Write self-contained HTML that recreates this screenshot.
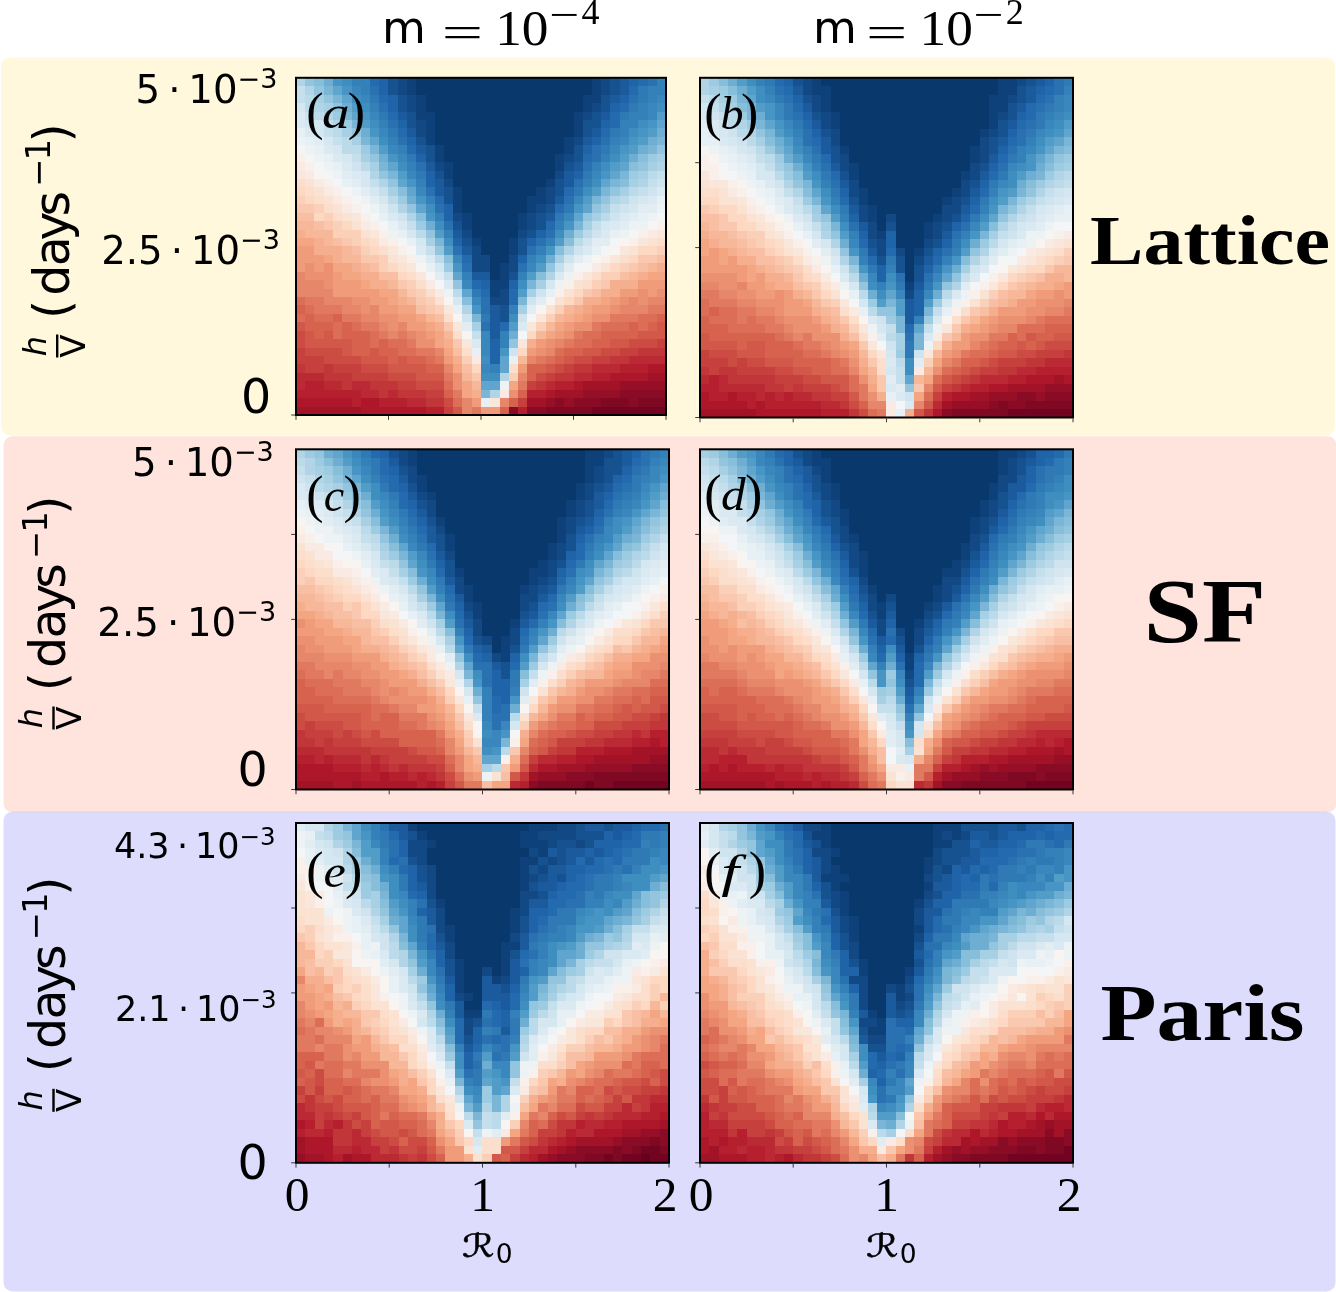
<!DOCTYPE html>
<html><head><meta charset="utf-8"><title>figure</title>
<style>html,body{margin:0;padding:0;background:#fff}svg{display:block}</style></head>
<body>
<svg width="1336" height="1292" viewBox="0 0 1336 1292">
<rect width="1336" height="1292" fill="#fff"/>
<rect x="1" y="57.5" width="1334" height="378" rx="9" fill="#fff8dc"/>
<rect x="3.5" y="436.3" width="1333" height="376" rx="9" fill="#ffe4de"/>
<rect x="3.5" y="811.7" width="1332" height="479.8" rx="9" fill="#dddcfc"/><rect x="12" y="811.7" width="1315" height="0.7" fill="#dccfe6"/>
<g shape-rendering="crispEdges">
<path fill="#730421" d="M592 407h74v8h-74z"/>
<path fill="#7f0823" d="M546 407h46v8h-46zM601 398h28v9h-28zM638 398h28v9h-28z"/>
<path fill="#8a0b25" d="M509 407h9v8h-9zM527 407h19v8h-19zM555 398h9v9h-9zM574 398h27v9h-27zM629 398h9v9h-9zM620 390h46v8h-46z"/>
<path fill="#960f27" d="M546 398h9v9h-9zM564 398h10v9h-10zM583 390h37v8h-37zM620 381h46v9h-46z"/>
<path fill="#a21328" d="M296 407h65v8h-65zM527 398h19v9h-19zM555 390h28v8h-28zM583 381h37v9h-37zM648 373h18v8h-18z"/>
<path fill="#ae172a" d="M361 407h65v8h-65zM296 398h56v9h-56zM361 398h18v9h-18zM546 390h9v8h-9zM574 381h9v9h-9zM610 373h38v8h-38zM648 364h18v9h-18z"/>
<path fill="#b61f2e" d="M426 407h18v8h-18zM518 407h9v8h-9zM352 398h9v9h-9zM379 398h28v9h-28zM296 390h65v8h-65zM527 390h19v8h-19zM305 381h19v9h-19zM555 381h19v9h-19zM592 373h18v8h-18zM620 364h28v9h-28z"/>
<path fill="#bb2a34" d="M407 398h19v9h-19zM361 390h18v8h-18zM388 390h10v8h-10zM296 381h9v9h-9zM324 381h18v9h-18zM352 381h18v9h-18zM546 381h9v9h-9zM296 373h28v8h-28zM574 373h18v8h-18zM592 364h28v9h-28zM629 356h37v8h-37z"/>
<path fill="#c13639" d="M426 398h18v9h-18zM379 390h9v8h-9zM398 390h28v8h-28zM342 381h10v9h-10zM370 381h28v9h-28zM536 381h10v9h-10zM324 373h28v8h-28zM555 373h19v8h-19zM296 364h9v9h-9zM324 364h9v9h-9zM574 364h18v9h-18zM610 356h19v8h-19zM638 348h28v8h-28z"/>
<path fill="#c6413e" d="M444 407h9v8h-9zM518 398h9v9h-9zM426 390h18v8h-18zM398 381h18v9h-18zM527 381h9v9h-9zM352 373h36v8h-36zM546 373h9v8h-9zM305 364h19v9h-19zM333 364h28v9h-28zM564 364h10v9h-10zM296 356h28v8h-28zM592 356h18v8h-18zM296 348h9v8h-9zM620 348h18v8h-18zM657 339h9v9h-9z"/>
<path fill="#cc4c44" d="M444 398h9v9h-9zM416 381h28v9h-28zM388 373h28v8h-28zM536 373h10v8h-10zM361 364h27v9h-27zM555 364h9v9h-9zM324 356h37v8h-37zM574 356h18v8h-18zM305 348h37v8h-37zM601 348h19v8h-19zM296 339h9v9h-9zM629 339h28v9h-28zM296 331h9v8h-9z"/>
<path fill="#d25849" d="M453 407h9v8h-9zM416 373h28v8h-28zM388 364h38v9h-38zM546 364h9v9h-9zM361 356h27v8h-27zM398 356h9v8h-9zM564 356h10v8h-10zM342 348h10v8h-10zM370 348h9v8h-9zM583 348h18v8h-18zM305 339h47v9h-47zM610 339h19v9h-19zM305 331h9v8h-9zM324 331h9v8h-9zM638 331h28v8h-28zM296 322h9v9h-9zM657 322h9v9h-9z"/>
<path fill="#d7634f" d="M500 407h9v8h-9zM509 398h9v9h-9zM444 390h9v8h-9zM518 390h9v8h-9zM527 373h9v8h-9zM426 364h18v9h-18zM527 364h19v9h-19zM388 356h10v8h-10zM407 356h19v8h-19zM555 356h9v8h-9zM352 348h18v8h-18zM379 348h19v8h-19zM564 348h19v8h-19zM352 339h18v9h-18zM379 339h9v9h-9zM592 339h18v9h-18zM314 331h10v8h-10zM342 331h28v8h-28zM601 331h37v8h-37zM305 322h28v9h-28zM342 322h10v9h-10zM629 322h9v9h-9zM648 322h9v9h-9zM305 314h9v8h-9zM333 314h9v8h-9zM657 314h9v8h-9zM296 305h9v9h-9z"/>
<path fill="#dc6e57" d="M453 398h9v9h-9zM444 381h9v9h-9zM426 356h9v8h-9zM546 356h9v8h-9zM398 348h18v8h-18zM555 348h9v8h-9zM370 339h9v9h-9zM388 339h19v9h-19zM574 339h18v9h-18zM333 331h9v8h-9zM370 331h9v8h-9zM583 331h18v8h-18zM333 322h9v9h-9zM352 322h9v9h-9zM601 322h28v9h-28zM638 322h10v9h-10zM296 314h9v8h-9zM314 314h19v8h-19zM638 314h19v8h-19zM305 305h9v9h-9zM296 297h9v8h-9z"/>
<path fill="#e17860" d="M472 407h9v8h-9zM453 390h9v8h-9zM518 381h9v9h-9zM444 373h9v8h-9zM435 356h9v8h-9zM536 356h10v8h-10zM416 348h19v8h-19zM407 339h9v9h-9zM564 339h10v9h-10zM379 331h9v8h-9zM398 331h9v8h-9zM574 331h9v8h-9zM361 322h18v9h-18zM592 322h9v9h-9zM342 314h19v8h-19zM610 314h28v8h-28zM314 305h28v9h-28zM648 305h18v9h-18zM305 297h19v8h-19z"/>
<path fill="#e6866a" d="M462 407h10v8h-10zM462 398h10v9h-10zM500 398h9v9h-9zM518 373h9v8h-9zM444 364h9v9h-9zM527 356h9v8h-9zM435 348h9v8h-9zM546 348h9v8h-9zM555 339h9v9h-9zM388 331h10v8h-10zM407 331h9v8h-9zM379 322h9v9h-9zM398 322h9v9h-9zM361 314h18v8h-18zM342 305h19v9h-19zM370 305h9v9h-9zM620 305h28v9h-28zM324 297h28v8h-28zM629 297h9v8h-9zM648 297h18v8h-18zM296 289h37v8h-37zM296 280h28v9h-28zM296 272h9v8h-9z"/>
<path fill="#eb9172" d="M509 390h9v8h-9zM453 381h9v9h-9zM453 373h9v8h-9zM536 348h10v8h-10zM416 339h19v9h-19zM546 339h9v9h-9zM416 331h10v8h-10zM564 331h10v8h-10zM388 322h10v9h-10zM574 322h18v9h-18zM379 314h19v8h-19zM592 314h18v8h-18zM361 305h9v9h-9zM610 305h10v9h-10zM352 297h18v8h-18zM620 297h9v8h-9zM638 297h10v8h-10zM638 289h10v8h-10zM657 289h9v8h-9zM324 280h9v9h-9zM305 272h28v8h-28zM305 263h9v9h-9zM324 263h9v9h-9z"/>
<path fill="#f09c7b" d="M481 407h19v8h-19zM472 398h9v9h-9zM518 364h9v9h-9zM444 356h9v8h-9zM527 348h9v8h-9zM536 339h10v9h-10zM426 331h9v8h-9zM555 331h9v8h-9zM407 322h19v9h-19zM564 322h10v9h-10zM398 314h18v8h-18zM583 314h9v8h-9zM379 305h19v9h-19zM592 305h18v9h-18zM370 297h18v8h-18zM610 297h10v8h-10zM333 289h46v8h-46zM620 289h18v8h-18zM648 289h9v8h-9zM333 280h28v9h-28zM638 280h28v9h-28zM333 272h9v8h-9zM296 263h9v9h-9zM314 263h10v9h-10zM296 255h28v8h-28zM296 246h18v9h-18z"/>
<path fill="#f4a683" d="M462 390h10v8h-10zM462 381h10v9h-10zM509 381h9v9h-9zM453 364h9v9h-9zM444 348h9v8h-9zM435 339h9v9h-9zM435 331h9v8h-9zM546 331h9v8h-9zM426 322h9v9h-9zM555 322h9v9h-9zM416 314h10v8h-10zM574 314h9v8h-9zM398 305h18v9h-18zM583 305h9v9h-9zM388 297h10v8h-10zM601 297h9v8h-9zM379 289h19v8h-19zM361 280h9v9h-9zM342 272h19v8h-19zM648 272h18v8h-18zM333 263h19v9h-19zM324 255h9v8h-9zM296 238h18v8h-18z"/>
<path fill="#f6af8e" d="M472 390h9v8h-9zM453 356h9v8h-9zM444 339h9v9h-9zM527 339h9v9h-9zM435 322h9v9h-9zM564 314h10v8h-10zM574 305h9v9h-9zM398 297h9v8h-9zM583 297h18v8h-18zM601 289h19v8h-19zM370 280h18v9h-18zM610 280h28v9h-28zM361 272h18v8h-18zM638 272h10v8h-10zM352 263h9v9h-9zM657 263h9v9h-9zM333 255h9v8h-9zM314 246h28v9h-28zM314 238h10v8h-10zM296 230h9v8h-9z"/>
<path fill="#f7b799" d="M472 381h9v9h-9zM462 373h10v8h-10zM518 356h9v8h-9zM444 331h9v8h-9zM536 331h10v8h-10zM546 322h9v9h-9zM426 314h9v8h-9zM555 314h9v8h-9zM564 305h10v9h-10zM407 297h9v8h-9zM398 289h9v8h-9zM388 280h10v9h-10zM629 272h9v8h-9zM361 263h9v9h-9zM648 263h9v9h-9zM342 255h19v8h-19zM342 246h10v9h-10zM324 238h9v8h-9zM305 230h28v8h-28zM296 221h18v9h-18z"/>
<path fill="#f8bfa4" d="M462 364h10v9h-10zM453 348h9v8h-9zM435 314h9v8h-9zM416 305h10v9h-10zM592 289h9v8h-9zM379 272h19v8h-19zM620 272h9v8h-9zM370 263h9v9h-9zM638 263h10v9h-10zM657 255h9v8h-9zM352 246h9v9h-9zM333 238h9v8h-9zM314 221h10v9h-10zM296 213h18v8h-18z"/>
<path fill="#fac8af" d="M472 373h9v8h-9zM453 339h9v9h-9zM444 322h9v9h-9zM426 305h9v9h-9zM416 297h10v8h-10zM574 297h9v8h-9zM407 289h9v8h-9zM583 289h9v8h-9zM398 280h9v9h-9zM601 280h9v9h-9zM629 263h9v9h-9zM361 255h18v8h-18zM638 255h19v8h-19zM342 238h10v8h-10zM324 221h9v9h-9zM296 204h18v9h-18z"/>
<path fill="#fbd0b9" d="M509 373h9v8h-9zM462 356h10v8h-10zM536 322h10v9h-10zM546 314h9v8h-9zM435 305h9v9h-9zM555 305h9v9h-9zM426 297h9v8h-9zM416 289h10v8h-10zM407 280h9v9h-9zM592 280h9v9h-9zM601 272h19v8h-19zM379 263h9v9h-9zM620 263h9v9h-9zM379 255h9v8h-9zM361 246h9v9h-9zM657 246h9v9h-9zM352 238h9v8h-9zM333 230h28v8h-28zM333 221h9v9h-9zM324 213h9v8h-9zM314 204h10v9h-10zM296 196h9v8h-9z"/>
<path fill="#fdd9c4" d="M472 364h9v9h-9zM518 348h9v8h-9zM527 331h9v8h-9zM564 297h10v8h-10zM574 289h9v8h-9zM398 272h9v8h-9zM388 263h10v9h-10zM610 263h10v9h-10zM629 255h9v8h-9zM370 246h9v9h-9zM638 246h19v9h-19zM361 238h9v8h-9zM342 221h10v9h-10zM314 213h10v8h-10zM305 196h9v8h-9zM296 187h9v9h-9z"/>
<path fill="#fcdecd" d="M509 364h9v9h-9zM462 348h10v8h-10zM453 331h9v8h-9zM444 314h9v8h-9zM426 289h9v8h-9zM416 280h10v9h-10zM583 280h9v9h-9zM407 272h9v8h-9zM592 272h9v8h-9zM620 255h9v8h-9zM379 246h9v9h-9zM370 238h9v8h-9zM657 238h9v8h-9zM333 213h9v8h-9zM324 204h9v9h-9zM314 196h10v8h-10zM305 187h9v9h-9zM296 179h9v8h-9z"/>
<path fill="#fbe3d4" d="M546 305h9v9h-9zM435 297h9v8h-9zM555 297h9v8h-9zM564 289h10v8h-10zM574 280h9v9h-9zM398 263h9v9h-9zM601 263h9v9h-9zM388 255h10v8h-10zM629 246h9v9h-9zM648 238h9v8h-9zM361 230h9v8h-9zM352 221h9v9h-9zM342 213h10v8h-10zM333 204h9v9h-9zM324 196h9v8h-9zM314 187h10v9h-10zM305 179h9v8h-9z"/>
<path fill="#fae7dc" d="M490 398h10v9h-10zM462 339h10v9h-10zM518 339h9v9h-9zM453 322h9v9h-9zM527 322h9v9h-9zM536 314h10v8h-10zM444 305h9v9h-9zM416 272h10v8h-10zM583 272h9v8h-9zM407 263h9v9h-9zM398 255h9v8h-9zM610 255h10v8h-10zM388 246h10v9h-10zM620 246h9v9h-9zM638 238h10v8h-10zM370 230h9v8h-9zM657 230h9v8h-9zM352 213h9v8h-9zM296 171h9v8h-9z"/>
<path fill="#f9ebe3" d="M500 390h9v8h-9zM472 356h9v8h-9zM435 289h9v8h-9zM426 280h9v9h-9zM592 263h9v9h-9zM379 238h9v8h-9zM648 230h9v8h-9zM361 221h9v9h-9zM342 204h10v9h-10zM333 196h9v8h-9zM324 187h9v9h-9zM314 179h10v8h-10zM305 171h9v8h-9zM296 162h9v9h-9z"/>
<path fill="#f9f0eb" d="M555 289h9v8h-9zM564 280h10v9h-10zM574 272h9v8h-9zM407 255h9v8h-9zM601 255h9v8h-9zM398 246h9v9h-9zM388 238h10v8h-10zM629 238h9v8h-9zM379 230h9v8h-9zM638 230h10v8h-10zM370 221h9v9h-9zM657 221h9v9h-9zM361 213h9v8h-9zM352 204h9v9h-9zM342 196h10v8h-10zM333 187h9v9h-9zM324 179h9v8h-9zM305 162h9v9h-9zM296 154h9v8h-9z"/>
<path fill="#f8f4f2" d="M462 331h10v8h-10zM453 314h9v8h-9zM536 305h10v9h-10zM444 297h9v8h-9zM546 297h9v8h-9zM416 263h10v9h-10zM583 263h9v9h-9zM592 255h9v8h-9zM610 246h10v9h-10zM620 238h9v8h-9zM648 221h9v9h-9zM314 171h10v8h-10z"/>
<path fill="#f3f5f6" d="M518 331h9v8h-9zM527 314h9v8h-9zM435 280h9v9h-9zM426 272h9v8h-9zM574 263h9v9h-9zM407 246h9v9h-9zM601 246h9v9h-9zM398 238h9v8h-9zM610 238h10v8h-10zM629 230h9v8h-9zM379 221h9v9h-9zM370 213h9v8h-9zM657 213h9v8h-9zM361 204h9v9h-9zM352 196h9v8h-9zM342 187h10v9h-10zM333 179h9v8h-9zM324 171h9v8h-9zM314 162h10v9h-10zM305 154h9v8h-9zM296 145h9v9h-9z"/>
<path fill="#edf2f5" d="M500 381h9v9h-9zM444 289h9v8h-9zM555 280h9v9h-9zM564 272h10v8h-10zM416 255h10v8h-10zM583 255h9v8h-9zM388 230h10v8h-10zM620 230h9v8h-9zM629 221h19v9h-19zM648 213h9v8h-9zM370 204h9v9h-9zM657 204h9v9h-9zM361 196h9v8h-9zM352 187h9v9h-9zM333 171h9v8h-9zM324 162h9v9h-9zM314 154h10v8h-10zM305 145h9v9h-9zM296 137h9v8h-9z"/>
<path fill="#e7f0f4" d="M481 398h9v9h-9zM509 356h9v8h-9zM472 348h9v8h-9zM453 305h9v9h-9zM546 289h9v8h-9zM426 263h9v9h-9zM592 246h9v9h-9zM407 238h9v8h-9zM398 230h9v8h-9zM610 230h10v8h-10zM388 221h10v9h-10zM379 213h9v8h-9zM638 213h10v8h-10zM657 196h9v8h-9zM342 179h10v8h-10zM333 162h9v9h-9zM324 154h9v8h-9zM314 145h10v9h-10zM305 137h9v8h-9zM296 128h9v9h-9z"/>
<path fill="#e1edf3" d="M462 322h10v9h-10zM527 305h9v9h-9zM536 297h10v8h-10zM435 272h9v8h-9zM564 263h10v9h-10zM574 255h9v8h-9zM592 238h18v8h-18zM620 221h9v9h-9zM629 213h9v8h-9zM379 204h9v9h-9zM638 204h19v9h-19zM370 196h9v8h-9zM361 187h9v9h-9zM352 179h9v8h-9zM342 171h10v8h-10zM314 137h10v8h-10z"/>
<path fill="#dbeaf2" d="M472 339h9v9h-9zM518 322h9v9h-9zM444 280h9v9h-9zM555 272h9v8h-9zM426 255h9v8h-9zM416 246h10v9h-10zM583 246h9v9h-9zM601 230h9v8h-9zM398 221h9v9h-9zM610 221h10v9h-10zM388 213h10v8h-10zM620 213h9v8h-9zM648 196h9v8h-9zM657 187h9v9h-9zM352 171h9v8h-9zM342 162h10v9h-10zM333 154h9v8h-9zM324 145h9v9h-9zM305 128h9v9h-9zM296 120h9v8h-9zM296 112h9v8h-9z"/>
<path fill="#d5e7f1" d="M453 297h9v8h-9zM546 280h9v9h-9zM435 263h9v9h-9zM416 238h10v8h-10zM407 230h9v8h-9zM601 221h9v9h-9zM629 204h9v9h-9zM379 196h9v8h-9zM638 196h10v8h-10zM370 187h9v9h-9zM361 179h9v8h-9zM361 171h9v8h-9zM342 154h10v8h-10zM333 145h9v9h-9zM324 137h9v8h-9zM314 128h10v9h-10zM305 120h19v8h-19zM296 103h9v9h-9z"/>
<path fill="#cfe4ef" d="M509 348h9v8h-9zM462 314h10v8h-10zM518 314h9v8h-9zM527 297h9v8h-9zM536 289h10v8h-10zM564 255h10v8h-10zM574 246h9v9h-9zM583 238h9v8h-9zM592 230h9v8h-9zM398 213h9v8h-9zM610 213h10v8h-10zM388 204h10v9h-10zM620 204h9v9h-9zM629 196h9v8h-9zM648 187h9v9h-9zM657 179h9v8h-9zM352 162h9v9h-9zM305 112h9v8h-9z"/>
<path fill="#c5dfec" d="M472 331h9v8h-9zM444 272h9v8h-9zM555 263h9v9h-9zM426 246h9v9h-9zM407 221h9v9h-9zM592 221h9v9h-9zM610 204h10v9h-10zM379 187h9v9h-9zM638 187h10v9h-10zM370 179h9v8h-9zM648 179h9v8h-9zM657 171h9v8h-9zM352 154h9v8h-9zM333 137h9v8h-9zM324 128h9v9h-9zM324 120h9v8h-9zM296 95h9v8h-9zM296 86h9v9h-9z"/>
<path fill="#bbdaea" d="M453 289h9v8h-9zM435 255h9v8h-9zM574 238h9v8h-9zM416 230h10v8h-10zM583 230h9v8h-9zM601 213h9v8h-9zM388 196h10v8h-10zM620 196h9v8h-9zM629 187h9v9h-9zM648 171h9v8h-9zM361 162h9v9h-9zM342 145h19v9h-19zM342 137h10v8h-10zM333 128h9v9h-9zM314 112h10v8h-10zM305 103h9v9h-9zM305 95h9v8h-9z"/>
<path fill="#b1d5e7" d="M490 390h10v8h-10zM500 373h9v8h-9zM462 305h10v9h-10zM546 272h9v8h-9zM564 246h10v9h-10zM407 213h9v8h-9zM398 204h9v9h-9zM610 196h10v8h-10zM379 179h9v8h-9zM638 179h10v8h-10zM370 171h9v8h-9zM657 162h9v9h-9zM333 120h9v8h-9zM324 112h9v8h-9zM314 103h10v9h-10zM305 86h9v9h-9zM296 78h9v8h-9z"/>
<path fill="#a7d0e4" d="M472 322h9v9h-9zM518 305h9v9h-9zM527 289h9v8h-9zM536 280h10v9h-10zM555 255h9v8h-9zM426 238h9v8h-9zM583 221h9v9h-9zM592 213h9v8h-9zM601 204h9v9h-9zM388 187h10v9h-10zM620 187h9v9h-9zM629 179h9v8h-9zM638 171h10v8h-10zM370 162h9v9h-9zM648 162h9v9h-9zM361 154h9v8h-9zM657 154h9v8h-9zM352 137h9v8h-9zM342 128h10v9h-10zM324 103h9v9h-9zM314 95h10v8h-10z"/>
<path fill="#9dcbe1" d="M444 263h9v9h-9zM574 230h9v8h-9zM416 221h10v9h-10zM398 196h9v8h-9zM629 171h9v8h-9zM648 154h9v8h-9zM361 145h9v9h-9zM342 120h10v8h-10zM333 112h9v8h-9z"/>
<path fill="#93c6de" d="M509 339h9v9h-9zM453 280h9v9h-9zM546 263h9v9h-9zM435 246h9v9h-9zM426 230h9v8h-9zM583 213h9v8h-9zM407 204h9v9h-9zM592 204h9v9h-9zM601 196h9v8h-9zM610 187h10v9h-10zM388 179h10v8h-10zM379 171h9v8h-9zM638 162h10v9h-10zM370 154h9v8h-9zM657 145h9v9h-9zM352 128h9v9h-9zM333 103h9v9h-9zM324 95h9v8h-9zM314 86h10v9h-10zM305 78h9v8h-9z"/>
<path fill="#87beda" d="M462 297h10v8h-10zM536 272h10v8h-10zM444 255h9v8h-9zM555 246h9v9h-9zM564 238h10v8h-10zM416 213h10v8h-10zM398 187h9v9h-9zM620 179h9v8h-9zM629 162h9v9h-9zM638 154h10v8h-10zM314 78h10v8h-10z"/>
<path fill="#7bb6d6" d="M481 390h9v8h-9zM472 314h9v8h-9zM518 297h9v8h-9zM527 280h9v9h-9zM435 238h9v8h-9zM574 221h9v9h-9zM592 196h9v8h-9zM601 187h9v9h-9zM610 179h10v8h-10zM388 171h10v8h-10zM620 171h9v8h-9zM379 162h9v9h-9zM370 145h9v9h-9zM648 145h9v9h-9zM361 137h9v8h-9zM657 137h9v8h-9zM352 120h9v8h-9zM342 112h10v8h-10zM333 95h9v8h-9zM324 86h9v9h-9z"/>
<path fill="#6eaed2" d="M509 331h9v8h-9zM546 255h9v8h-9zM564 230h10v8h-10zM426 221h9v9h-9zM407 196h9v8h-9zM379 154h9v8h-9zM629 154h9v8h-9zM638 145h10v9h-10zM648 137h9v8h-9zM361 128h9v9h-9zM657 128h9v9h-9zM342 103h10v9h-10zM324 78h9v8h-9z"/>
<path fill="#5fa5cd" d="M481 381h19v9h-19zM500 364h9v9h-9zM500 356h9v8h-9zM462 289h10v8h-10zM453 272h9v8h-9zM574 213h9v8h-9zM416 204h10v9h-10zM583 204h9v9h-9zM407 187h9v9h-9zM398 179h9v8h-9zM601 179h9v8h-9zM610 171h10v8h-10zM388 162h10v9h-10zM620 162h9v9h-9zM370 137h9v8h-9zM657 120h9v8h-9zM352 112h9v8h-9zM342 95h10v8h-10zM333 86h9v9h-9z"/>
<path fill="#529dc8" d="M509 322h9v9h-9zM518 289h9v8h-9zM527 272h9v8h-9zM536 263h10v9h-10zM444 246h9v9h-9zM555 238h9v8h-9zM435 230h9v8h-9zM583 196h9v8h-9zM592 187h9v9h-9zM398 171h9v8h-9zM610 162h10v9h-10zM620 154h9v8h-9zM379 145h9v9h-9zM629 145h9v9h-9zM638 137h10v8h-10zM648 128h9v9h-9zM361 120h9v8h-9zM657 112h9v8h-9zM352 103h9v9h-9z"/>
<path fill="#4695c4" d="M500 348h9v8h-9zM472 305h9v9h-9zM453 263h9v9h-9zM546 246h9v9h-9zM564 221h10v9h-10zM426 213h9v8h-9zM574 204h9v9h-9zM416 196h10v8h-10zM407 179h9v8h-9zM601 171h9v8h-9zM388 154h10v8h-10zM620 145h9v9h-9zM629 137h9v8h-9zM370 128h9v9h-9zM638 128h10v9h-10zM648 120h9v8h-9zM361 112h9v8h-9zM342 86h10v9h-10zM333 78h9v8h-9z"/>
<path fill="#3f8ec0" d="M481 373h19v8h-19zM481 356h9v8h-9zM509 314h9v8h-9zM518 280h9v9h-9zM536 255h10v8h-10zM444 238h9v8h-9zM555 230h9v8h-9zM435 221h9v9h-9zM426 204h9v9h-9zM583 187h9v9h-9zM592 179h9v8h-9zM398 162h9v9h-9zM601 162h9v9h-9zM610 154h10v8h-10zM379 137h9v8h-9zM629 128h9v9h-9zM370 120h9v8h-9zM638 120h10v8h-10zM361 103h9v9h-9zM657 103h9v9h-9zM352 95h9v8h-9zM342 78h10v8h-10z"/>
<path fill="#3a87bd" d="M481 364h9v9h-9zM481 348h9v8h-9zM481 339h9v9h-9zM481 331h9v8h-9zM472 297h9v8h-9zM462 280h10v9h-10zM527 263h9v9h-9zM453 255h9v8h-9zM564 213h10v8h-10zM574 196h9v8h-9zM416 187h10v9h-10zM407 171h9v8h-9zM592 171h9v8h-9zM398 154h9v8h-9zM388 145h10v9h-10zM610 145h10v9h-10zM620 137h9v8h-9zM379 128h9v9h-9zM370 112h9v8h-9zM648 112h9v8h-9zM648 103h9v9h-9zM361 95h9v8h-9zM657 95h9v8h-9zM352 86h9v9h-9z"/>
<path fill="#3480b9" d="M490 364h10v9h-10zM500 339h9v9h-9zM500 331h9v8h-9zM509 305h9v9h-9zM462 272h10v8h-10zM518 272h9v8h-9zM527 255h9v8h-9zM536 246h10v9h-10zM546 238h9v8h-9zM444 230h9v8h-9zM555 221h9v9h-9zM435 213h9v8h-9zM426 196h9v8h-9zM416 179h10v8h-10zM583 179h9v8h-9zM407 162h9v9h-9zM592 162h9v9h-9zM601 154h9v8h-9zM398 145h9v9h-9zM388 137h10v8h-10zM610 137h10v8h-10zM620 128h9v9h-9zM379 120h9v8h-9zM620 120h18v8h-18zM629 112h19v8h-19zM370 103h9v9h-9zM638 103h10v9h-10zM648 95h9v8h-9zM361 86h9v9h-9zM648 86h18v9h-18zM352 78h18v8h-18zM657 78h9v8h-9z"/>
<path fill="#2f79b5" d="M481 314h9v8h-9zM472 289h9v8h-9zM555 213h9v8h-9zM564 204h10v9h-10zM574 187h9v9h-9zM416 171h10v8h-10zM583 171h9v8h-9zM407 154h9v8h-9zM601 145h9v9h-9zM388 128h10v9h-10zM610 128h10v9h-10zM379 112h9v8h-9zM620 112h9v8h-9zM629 103h9v9h-9zM370 95h9v8h-9zM638 95h10v8h-10zM638 86h10v9h-10z"/>
<path fill="#2a71b2" d="M481 322h9v9h-9zM481 305h9v9h-9zM481 297h9v8h-9zM462 263h10v9h-10zM518 263h9v9h-9zM453 246h9v9h-9zM527 246h9v9h-9zM536 238h10v8h-10zM546 230h9v8h-9zM444 221h9v9h-9zM435 204h9v9h-9zM564 196h10v8h-10zM426 187h9v9h-9zM574 179h9v8h-9zM416 162h10v9h-10zM583 162h9v9h-9zM592 154h9v8h-9zM592 145h9v9h-9zM398 137h9v8h-9zM601 137h9v8h-9zM388 120h10v8h-10zM379 103h9v9h-9zM629 95h9v8h-9zM370 86h9v9h-9zM648 78h9v8h-9z"/>
<path fill="#246aae" d="M500 322h9v9h-9zM509 297h9v8h-9zM481 289h9v8h-9zM509 289h9v8h-9zM472 280h9v9h-9zM462 255h10v8h-10zM546 221h9v9h-9zM555 204h9v9h-9zM435 196h9v8h-9zM564 187h10v9h-10zM583 154h9v8h-9zM407 145h9v9h-9zM398 128h9v9h-9zM601 128h9v9h-9zM610 120h10v8h-10zM388 112h10v8h-10zM610 112h10v8h-10zM620 103h9v9h-9zM379 95h9v8h-9zM629 86h9v9h-9zM370 78h9v8h-9zM638 78h10v8h-10z"/>
<path fill="#1f63a8" d="M490 356h10v8h-10zM490 348h10v8h-10zM490 339h10v9h-10zM481 280h9v9h-9zM509 280h9v9h-9zM518 255h9v8h-9zM453 238h9v8h-9zM527 238h9v8h-9zM536 230h10v8h-10zM444 213h9v8h-9zM444 204h9v9h-9zM426 179h9v8h-9zM426 171h9v8h-9zM574 171h9v8h-9zM416 154h10v8h-10zM583 145h9v9h-9zM407 137h9v8h-9zM592 137h9v8h-9zM398 120h9v8h-9zM601 120h9v8h-9zM388 103h10v9h-10zM610 103h10v9h-10zM388 95h10v8h-10zM620 95h9v8h-9zM379 86h9v9h-9zM379 78h9v8h-9zM629 78h9v8h-9z"/>
<path fill="#1b5a9c" d="M490 331h10v8h-10zM490 322h10v9h-10zM490 314h10v8h-10zM490 305h10v9h-10zM472 272h18v8h-18zM462 246h10v9h-10zM453 230h9v8h-9zM546 213h9v8h-9zM555 196h9v8h-9zM435 187h9v9h-9zM435 179h9v8h-9zM564 179h10v8h-10zM564 171h10v8h-10zM426 162h9v9h-9zM574 162h9v9h-9zM416 145h10v9h-10zM583 137h9v8h-9zM407 128h9v9h-9zM592 128h9v9h-9zM398 112h9v8h-9zM601 112h9v8h-9zM610 95h10v8h-10zM620 86h9v9h-9zM620 78h9v8h-9z"/>
<path fill="#175290" d="M500 314h9v8h-9zM500 305h9v9h-9zM509 272h9v8h-9zM518 246h9v9h-9zM462 238h10v8h-10zM518 238h9v8h-9zM527 230h9v8h-9zM453 221h9v9h-9zM536 221h10v9h-10zM536 213h10v8h-10zM546 204h9v9h-9zM444 196h9v8h-9zM444 187h9v9h-9zM555 187h9v9h-9zM555 179h9v8h-9zM435 171h9v8h-9zM564 162h10v9h-10zM426 154h9v8h-9zM574 154h9v8h-9zM426 145h9v9h-9zM574 145h9v9h-9zM416 137h10v8h-10zM583 128h9v9h-9zM407 120h9v8h-9zM583 120h18v8h-18zM407 112h9v8h-9zM592 112h9v8h-9zM398 103h9v9h-9zM601 103h9v9h-9zM398 95h9v8h-9zM601 95h9v8h-9zM388 86h10v9h-10zM610 86h10v9h-10zM388 78h10v8h-10zM610 78h10v8h-10z"/>
<path fill="#124984" d="M490 297h19v8h-19zM500 289h9v8h-9zM472 263h18v9h-18zM509 263h9v9h-9zM472 255h18v8h-18zM509 255h9v8h-9zM472 246h9v9h-9zM462 230h10v8h-10zM518 230h9v8h-9zM527 221h9v9h-9zM453 213h9v8h-9zM527 213h9v8h-9zM536 204h10v9h-10zM546 196h9v8h-9zM546 187h9v9h-9zM444 179h9v8h-9zM555 171h9v8h-9zM435 162h9v9h-9zM564 154h10v8h-10zM574 137h9v8h-9zM416 128h10v9h-10zM416 120h10v8h-10zM583 112h9v8h-9zM407 103h9v9h-9zM592 103h9v9h-9zM407 95h9v8h-9zM398 86h9v9h-9zM601 86h9v9h-9zM398 78h9v8h-9zM601 78h9v8h-9z"/>
<path fill="#0e4179" d="M490 289h10v8h-10zM490 280h19v9h-19zM500 272h9v8h-9zM500 263h9v9h-9zM509 246h9v9h-9zM472 238h9v8h-9zM509 238h9v8h-9zM462 221h10v9h-10zM518 221h9v9h-9zM462 213h10v8h-10zM518 213h9v8h-9zM453 204h9v9h-9zM527 204h9v9h-9zM453 196h9v8h-9zM527 196h19v8h-19zM453 187h9v9h-9zM536 187h10v9h-10zM546 179h9v8h-9zM444 171h9v8h-9zM444 162h9v9h-9zM555 162h9v9h-9zM435 154h9v8h-9zM555 154h9v8h-9zM435 145h9v9h-9zM564 145h10v9h-10zM426 137h9v8h-9zM564 137h10v8h-10zM426 128h9v9h-9zM574 128h9v9h-9zM426 120h9v8h-9zM574 120h9v8h-9zM416 112h19v8h-19zM574 112h9v8h-9zM416 103h10v9h-10zM583 103h9v9h-9zM416 95h10v8h-10zM583 95h18v8h-18zM407 86h9v9h-9zM592 86h9v9h-9zM407 78h9v8h-9zM592 78h9v8h-9z"/>
<path fill="#09386d" d="M490 272h10v8h-10zM490 263h10v9h-10zM490 255h19v8h-19zM481 246h28v9h-28zM481 238h28v8h-28zM472 230h46v8h-46zM472 221h46v9h-46zM472 213h46v8h-46zM462 204h65v9h-65zM462 196h65v8h-65zM462 187h74v9h-74zM453 179h93v8h-93zM453 171h102v8h-102zM453 162h102v9h-102zM444 154h111v8h-111zM444 145h120v9h-120zM435 137h129v8h-129zM435 128h139v9h-139zM435 120h139v8h-139zM435 112h139v8h-139zM426 103h157v9h-157zM426 95h157v8h-157zM416 86h176v9h-176zM416 78h176v8h-176z"/>
</g>
<rect x="296.0" y="77.8" width="370.0" height="337.2" fill="none" stroke="#000" stroke-width="2"/><path d="M296.0 416.0v3.8M388.5 416.0v3.8M481.0 416.0v3.8M573.5 416.0v3.8M666.0 416.0v3.8M295.0 415.0h-3.8" stroke="#222" stroke-width="0.9" fill="none"/>
<g shape-rendering="crispEdges">
<path fill="#730421" d="M1008 409h65v9h-65z"/>
<path fill="#7f0823" d="M952 409h56v9h-56zM998 401h10v8h-10zM1026 401h47v8h-47z"/>
<path fill="#8a0b25" d="M942 409h10v9h-10zM989 401h9v8h-9zM1008 401h18v8h-18zM1017 392h19v9h-19zM1045 392h28v9h-28z"/>
<path fill="#960f27" d="M952 401h37v8h-37zM989 392h28v9h-28zM1036 392h9v9h-9zM1045 384h28v8h-28z"/>
<path fill="#a21328" d="M700 409h56v9h-56zM942 401h10v8h-10zM970 392h19v9h-19zM1008 384h37v8h-37zM1054 375h10v9h-10z"/>
<path fill="#ae172a" d="M756 409h65v9h-65zM933 409h9v9h-9zM700 401h47v8h-47zM756 401h9v8h-9zM700 392h9v9h-9zM728 392h9v9h-9zM952 392h18v9h-18zM989 384h19v8h-19zM1026 375h28v9h-28zM1064 375h9v9h-9z"/>
<path fill="#b61f2e" d="M821 409h28v9h-28zM747 401h9v8h-9zM765 401h56v8h-56zM709 392h19v9h-19zM737 392h19v9h-19zM765 392h10v9h-10zM784 392h9v9h-9zM942 392h10v9h-10zM700 384h19v8h-19zM970 384h19v8h-19zM709 375h10v9h-10zM1008 375h18v9h-18zM1036 367h37v8h-37z"/>
<path fill="#bb2a34" d="M821 401h19v8h-19zM933 401h9v8h-9zM756 392h9v9h-9zM775 392h9v9h-9zM793 392h19v9h-19zM719 384h46v8h-46zM961 384h9v8h-9zM700 375h9v9h-9zM719 375h9v9h-9zM980 375h28v9h-28zM1017 367h19v8h-19zM1045 358h28v9h-28z"/>
<path fill="#c13639" d="M849 409h10v9h-10zM924 409h9v9h-9zM840 401h9v8h-9zM812 392h19v9h-19zM765 384h19v8h-19zM793 384h10v8h-10zM952 384h9v8h-9zM728 375h47v9h-47zM970 375h10v9h-10zM700 367h9v8h-9zM719 367h18v8h-18zM998 367h19v8h-19zM1026 358h19v9h-19zM1064 350h9v8h-9z"/>
<path fill="#c6413e" d="M831 392h18v9h-18zM933 392h9v9h-9zM784 384h9v8h-9zM803 384h28v8h-28zM942 384h10v8h-10zM775 375h28v9h-28zM961 375h9v9h-9zM709 367h10v8h-10zM737 367h38v8h-38zM980 367h18v8h-18zM700 358h28v9h-28zM737 358h10v9h-10zM998 358h28v9h-28zM700 350h9v8h-9zM1036 350h28v8h-28z"/>
<path fill="#cc4c44" d="M859 409h9v9h-9zM849 401h10v8h-10zM831 384h9v8h-9zM803 375h18v9h-18zM952 375h9v9h-9zM775 367h18v8h-18zM970 367h10v8h-10zM728 358h9v9h-9zM747 358h18v9h-18zM989 358h9v9h-9zM709 350h28v8h-28zM1017 350h19v8h-19zM1045 341h28v9h-28z"/>
<path fill="#d25849" d="M914 409h10v9h-10zM924 401h9v8h-9zM849 392h10v9h-10zM840 384h9v8h-9zM933 384h9v8h-9zM821 375h28v9h-28zM942 375h10v9h-10zM793 367h19v8h-19zM961 367h9v8h-9zM765 358h28v9h-28zM980 358h9v9h-9zM737 350h28v8h-28zM998 350h19v8h-19zM700 341h37v9h-37zM747 341h18v9h-18zM1017 341h9v9h-9zM1036 341h9v9h-9zM700 333h9v8h-9zM1026 333h10v8h-10zM1054 333h19v8h-19z"/>
<path fill="#d7634f" d="M859 401h9v8h-9zM812 367h19v8h-19zM952 367h9v8h-9zM793 358h38v9h-38zM961 358h19v9h-19zM765 350h38v8h-38zM989 350h9v8h-9zM737 341h10v9h-10zM765 341h28v9h-28zM998 341h19v9h-19zM1026 341h10v9h-10zM709 333h66v8h-66zM1008 333h9v8h-9zM1036 333h18v8h-18zM700 324h28v9h-28zM1045 324h28v9h-28zM700 316h9v8h-9zM709 307h10v9h-10z"/>
<path fill="#dc6e57" d="M868 409h9v9h-9zM924 392h9v9h-9zM849 384h10v8h-10zM849 375h10v9h-10zM933 375h9v9h-9zM831 367h18v8h-18zM942 367h10v8h-10zM831 358h9v9h-9zM803 350h18v8h-18zM970 350h19v8h-19zM793 341h10v9h-10zM989 341h9v9h-9zM775 333h9v8h-9zM1017 333h9v8h-9zM728 324h37v9h-37zM1017 324h28v9h-28zM709 316h28v8h-28zM747 316h9v8h-9zM1045 316h28v8h-28zM700 307h9v9h-9zM719 307h18v9h-18zM700 299h9v8h-9z"/>
<path fill="#e17860" d="M877 409h9v9h-9zM859 392h9v9h-9zM859 384h9v8h-9zM840 358h9v9h-9zM952 358h9v9h-9zM821 350h10v8h-10zM961 350h9v8h-9zM803 341h18v9h-18zM980 341h9v9h-9zM784 333h9v8h-9zM803 333h9v8h-9zM989 333h19v8h-19zM765 324h19v9h-19zM737 316h10v8h-10zM756 316h19v8h-19zM1036 316h9v8h-9zM737 307h19v9h-19zM1064 307h9v9h-9zM709 299h28v8h-28zM700 290h19v9h-19z"/>
<path fill="#e6866a" d="M868 401h18v8h-18zM914 401h10v8h-10zM924 384h9v8h-9zM849 367h10v8h-10zM942 358h10v9h-10zM831 350h9v8h-9zM821 341h10v9h-10zM970 341h10v9h-10zM793 333h10v8h-10zM784 324h9v9h-9zM998 324h19v9h-19zM775 316h9v8h-9zM1026 316h10v8h-10zM756 307h19v9h-19zM1045 307h19v9h-19zM737 299h19v8h-19zM1064 299h9v8h-9zM719 290h18v9h-18zM700 282h19v8h-19zM737 282h10v8h-10z"/>
<path fill="#eb9172" d="M868 392h9v9h-9zM859 375h9v9h-9zM933 367h9v8h-9zM849 358h10v9h-10zM840 350h9v8h-9zM952 350h9v8h-9zM831 341h9v9h-9zM812 333h28v8h-28zM970 333h19v8h-19zM793 324h28v9h-28zM989 324h9v9h-9zM784 316h28v8h-28zM998 316h28v8h-28zM775 307h9v9h-9zM1026 307h19v9h-19zM756 299h28v8h-28zM1036 299h28v8h-28zM737 290h19v9h-19zM775 290h9v9h-9zM1054 290h10v9h-10zM719 282h18v8h-18zM700 273h37v9h-37z"/>
<path fill="#f09c7b" d="M849 350h10v8h-10zM942 350h10v8h-10zM840 341h9v9h-9zM952 341h18v9h-18zM961 333h9v8h-9zM821 324h10v9h-10zM980 324h9v9h-9zM812 316h9v8h-9zM989 316h9v8h-9zM784 307h28v9h-28zM998 307h28v9h-28zM784 299h19v8h-19zM1017 299h19v8h-19zM756 290h19v9h-19zM784 290h9v9h-9zM1036 290h18v9h-18zM1064 290h9v9h-9zM747 282h18v8h-18zM1064 282h9v8h-9zM737 273h10v9h-10zM756 273h9v9h-9zM700 265h47v8h-47zM700 256h19v9h-19zM728 256h9v9h-9zM709 248h10v8h-10z"/>
<path fill="#f4a683" d="M914 392h10v9h-10zM868 384h9v8h-9zM924 375h9v9h-9zM859 367h9v8h-9zM933 358h9v9h-9zM849 341h10v9h-10zM970 324h10v9h-10zM980 316h9v8h-9zM803 299h9v8h-9zM1026 290h10v9h-10zM765 282h10v8h-10zM1054 282h10v8h-10zM747 273h9v9h-9zM747 265h9v8h-9zM719 256h9v9h-9zM700 248h9v8h-9zM719 248h9v8h-9zM700 239h9v9h-9z"/>
<path fill="#f6af8e" d="M905 409h9v9h-9zM877 392h9v9h-9zM868 375h9v9h-9zM859 358h9v9h-9zM942 341h10v9h-10zM840 333h9v8h-9zM831 324h9v9h-9zM961 324h9v9h-9zM821 316h10v8h-10zM812 307h9v9h-9zM989 307h9v9h-9zM1008 299h9v8h-9zM793 290h10v9h-10zM775 282h18v8h-18zM1036 282h18v8h-18zM765 273h19v9h-19zM1045 273h19v9h-19zM756 265h9v8h-9zM737 256h19v9h-19zM728 248h9v8h-9zM709 239h10v9h-10zM700 231h9v8h-9z"/>
<path fill="#f7b799" d="M914 375h10v9h-10zM868 367h9v8h-9zM924 367h9v8h-9zM859 350h9v8h-9zM933 350h9v8h-9zM952 333h9v8h-9zM840 324h9v9h-9zM831 316h9v8h-9zM970 316h10v8h-10zM821 307h10v9h-10zM812 299h9v8h-9zM998 299h10v8h-10zM803 290h9v9h-9zM1008 290h18v9h-18zM1026 282h10v8h-10zM784 273h9v9h-9zM1064 273h9v9h-9zM765 265h10v8h-10zM1054 265h19v8h-19zM737 248h10v8h-10zM719 239h18v9h-18zM709 231h19v8h-19zM700 222h9v9h-9z"/>
<path fill="#f8bfa4" d="M849 333h10v8h-10zM831 307h9v9h-9zM980 307h9v9h-9zM989 299h9v8h-9zM998 290h10v9h-10zM793 282h10v8h-10zM1017 282h9v8h-9zM1036 273h9v9h-9zM775 265h9v8h-9zM756 256h19v9h-19zM747 248h18v8h-18zM737 239h10v9h-10zM728 231h9v8h-9zM709 222h10v9h-10zM700 214h19v8h-19z"/>
<path fill="#fac8af" d="M877 384h9v8h-9zM914 384h10v8h-10zM877 375h9v9h-9zM868 358h9v9h-9zM859 341h9v9h-9zM942 333h10v8h-10zM952 324h9v9h-9zM840 316h9v8h-9zM961 316h9v8h-9zM970 307h10v9h-10zM821 299h10v8h-10zM812 290h9v9h-9zM803 282h9v8h-9zM1008 282h9v8h-9zM793 273h10v9h-10zM1026 273h10v9h-10zM784 265h9v8h-9zM1045 265h9v8h-9zM775 256h9v9h-9zM1064 256h9v9h-9zM747 239h9v9h-9zM737 231h10v8h-10zM719 222h18v9h-18zM719 214h9v8h-9zM700 205h9v9h-9z"/>
<path fill="#fbd0b9" d="M924 358h9v9h-9zM849 324h10v9h-10zM831 299h9v8h-9zM980 299h9v8h-9zM989 290h9v9h-9zM812 282h9v8h-9zM1017 273h9v9h-9zM793 265h10v8h-10zM784 256h9v9h-9zM1054 256h10v9h-10zM765 248h10v8h-10zM1064 248h9v8h-9zM756 239h9v9h-9zM747 231h18v8h-18zM709 205h10v9h-10z"/>
<path fill="#fdd9c4" d="M868 350h9v8h-9zM933 341h9v9h-9zM821 290h10v9h-10zM998 282h10v8h-10zM803 273h9v9h-9zM1008 273h9v9h-9zM1026 265h19v8h-19zM1045 256h9v9h-9zM775 248h9v8h-9zM765 239h10v9h-10zM737 222h19v9h-19zM728 214h19v8h-19zM719 205h18v9h-18zM700 197h19v8h-19z"/>
<path fill="#fcdecd" d="M877 367h9v8h-9zM877 358h9v9h-9zM859 333h9v8h-9zM849 316h10v8h-10zM952 316h9v8h-9zM840 307h9v9h-9zM961 307h9v9h-9zM812 273h9v9h-9zM803 265h9v8h-9zM793 256h10v9h-10zM1036 256h9v9h-9zM1054 248h10v8h-10zM775 239h9v9h-9zM700 188h19v9h-19z"/>
<path fill="#fbe3d4" d="M970 299h10v8h-10zM831 290h9v9h-9zM980 290h9v9h-9zM821 282h10v8h-10zM1017 265h9v8h-9zM784 248h9v8h-9zM1045 248h9v8h-9zM1064 239h9v9h-9zM765 231h10v8h-10zM756 222h9v9h-9zM747 214h9v8h-9zM737 205h10v9h-10zM719 197h18v8h-18zM719 188h9v9h-9zM700 180h9v8h-9z"/>
<path fill="#fae7dc" d="M877 350h9v8h-9zM924 350h9v8h-9zM868 341h9v9h-9zM859 324h9v9h-9zM942 324h10v9h-10zM840 299h9v8h-9zM989 282h9v8h-9zM998 273h10v9h-10zM1008 265h9v8h-9zM1026 256h10v9h-10zM793 248h10v8h-10zM1036 248h9v8h-9zM784 239h9v9h-9zM1054 239h10v9h-10zM775 231h9v8h-9zM765 222h10v9h-10zM756 214h9v8h-9zM737 197h10v8h-10zM709 180h19v8h-19zM700 171h9v9h-9z"/>
<path fill="#f9ebe3" d="M886 409h10v9h-10zM886 401h10v8h-10zM914 367h10v8h-10zM933 333h9v8h-9zM849 307h10v9h-10zM831 282h9v8h-9zM821 273h10v9h-10zM812 265h9v8h-9zM803 256h9v9h-9zM1017 256h9v9h-9zM1026 248h10v8h-10zM1045 239h9v9h-9zM1064 231h9v8h-9zM747 205h9v9h-9zM728 188h9v9h-9z"/>
<path fill="#f9f0eb" d="M868 333h9v8h-9zM952 307h9v9h-9zM961 299h9v8h-9zM970 290h10v9h-10zM980 282h9v8h-9zM989 273h9v9h-9zM812 256h9v9h-9zM803 248h9v8h-9zM793 239h10v9h-10zM784 231h9v8h-9zM1054 231h10v8h-10zM775 222h9v9h-9zM765 214h10v8h-10zM756 205h9v9h-9zM747 197h9v8h-9zM737 188h10v9h-10zM728 180h9v8h-9zM709 171h10v9h-10zM700 163h19v8h-19zM700 154h9v9h-9z"/>
<path fill="#f8f4f2" d="M859 316h9v8h-9zM942 316h10v8h-10zM840 290h9v9h-9zM821 265h10v8h-10zM998 265h10v8h-10zM1036 239h9v9h-9zM1045 231h9v8h-9zM784 222h9v9h-9zM775 214h9v8h-9zM737 180h10v8h-10zM719 171h9v9h-9zM709 154h10v9h-10z"/>
<path fill="#f3f5f6" d="M896 401h9v8h-9zM877 341h9v9h-9zM849 299h10v8h-10zM970 282h10v8h-10zM831 273h9v9h-9zM980 273h9v9h-9zM989 265h9v8h-9zM998 256h19v9h-19zM812 248h9v8h-9zM1017 248h9v8h-9zM803 239h9v9h-9zM793 231h10v8h-10zM1054 222h19v9h-19zM765 205h10v9h-10zM756 197h9v8h-9zM747 188h9v9h-9zM728 171h9v9h-9zM719 163h9v8h-9zM700 146h9v8h-9z"/>
<path fill="#edf2f5" d="M924 341h9v9h-9zM868 324h9v9h-9zM933 324h9v9h-9zM952 299h9v8h-9zM961 290h9v9h-9zM840 282h9v8h-9zM821 256h10v9h-10zM1008 248h9v8h-9zM1026 239h10v9h-10zM1026 231h19v8h-19zM1045 222h9v9h-9zM784 214h9v8h-9zM765 197h10v8h-10zM756 188h9v9h-9zM747 180h9v8h-9zM737 171h10v9h-10zM728 163h9v8h-9zM719 154h9v9h-9zM709 146h10v8h-10z"/>
<path fill="#e7f0f4" d="M896 409h9v9h-9zM886 392h10v9h-10zM859 307h9v9h-9zM942 307h10v9h-10zM849 290h10v9h-10zM831 265h9v8h-9zM1017 239h9v9h-9zM803 231h9v8h-9zM793 222h10v9h-10zM1054 214h19v8h-19zM775 205h9v9h-9zM1064 205h9v9h-9zM765 188h10v9h-10zM756 180h9v8h-9zM747 171h9v9h-9zM737 163h10v8h-10zM728 154h9v9h-9zM719 146h9v8h-9zM700 137h19v9h-19zM700 129h9v8h-9z"/>
<path fill="#e1edf3" d="M896 384h9v8h-9zM886 375h10v9h-10zM914 358h10v9h-10zM877 333h9v8h-9zM961 282h9v8h-9zM989 256h9v9h-9zM821 248h10v8h-10zM998 248h10v8h-10zM812 239h9v9h-9zM1008 239h9v9h-9zM1036 222h9v9h-9zM1045 214h9v8h-9zM1054 205h10v9h-10zM775 197h9v8h-9zM747 163h9v8h-9zM737 154h10v9h-10zM728 146h9v8h-9zM700 120h9v9h-9z"/>
<path fill="#dbeaf2" d="M905 401h9v8h-9zM896 392h9v9h-9zM886 384h10v8h-10zM886 358h10v9h-10zM924 333h9v8h-9zM868 316h9v8h-9zM933 316h9v8h-9zM952 290h9v9h-9zM840 273h9v9h-9zM970 273h10v9h-10zM980 265h9v8h-9zM831 256h9v9h-9zM1017 231h9v8h-9zM803 222h9v9h-9zM1026 222h10v9h-10zM793 214h10v8h-10zM1036 214h9v8h-9zM784 205h9v9h-9zM1045 205h9v9h-9zM784 197h9v8h-9zM1064 197h9v8h-9zM775 188h9v9h-9zM765 180h10v8h-10zM747 154h9v9h-9zM719 137h9v9h-9zM709 129h10v8h-10zM709 120h10v9h-10z"/>
<path fill="#d5e7f1" d="M886 367h10v8h-10zM886 350h10v8h-10zM877 324h9v9h-9zM859 299h9v8h-9zM942 299h10v8h-10zM849 282h10v8h-10zM989 248h9v8h-9zM821 239h10v9h-10zM998 239h10v9h-10zM812 231h9v8h-9zM1017 222h9v9h-9zM1036 205h9v9h-9zM1054 197h10v8h-10zM1064 188h9v9h-9zM756 171h19v9h-19zM756 163h9v8h-9zM737 146h10v8h-10zM728 137h9v9h-9zM719 129h9v8h-9zM700 112h9v8h-9zM700 103h9v9h-9z"/>
<path fill="#cfe4ef" d="M905 392h9v9h-9zM914 350h10v8h-10zM886 341h10v9h-10zM877 316h9v8h-9zM840 265h9v8h-9zM970 265h10v8h-10zM980 256h9v9h-9zM831 248h9v8h-9zM1008 231h9v8h-9zM803 214h9v8h-9zM1026 214h10v8h-10zM793 205h10v9h-10zM1045 197h9v8h-9zM1054 188h10v9h-10zM775 180h9v8h-9zM747 146h9v8h-9zM737 137h10v9h-10zM728 129h9v8h-9zM719 120h9v9h-9zM709 112h10v8h-10z"/>
<path fill="#c5dfec" d="M896 375h9v9h-9zM896 367h9v8h-9zM886 324h10v9h-10zM924 324h9v9h-9zM933 307h9v9h-9zM961 273h9v9h-9zM998 231h10v8h-10zM812 222h9v9h-9zM1008 222h9v9h-9zM1017 214h9v8h-9zM1026 205h10v9h-10zM793 197h10v8h-10zM1036 197h9v8h-9zM784 188h9v9h-9zM1045 188h9v9h-9zM1064 180h9v8h-9zM765 163h10v8h-10zM756 154h9v9h-9zM719 112h9v8h-9zM709 103h10v9h-10zM700 95h9v8h-9z"/>
<path fill="#bbdaea" d="M896 358h9v9h-9zM886 333h10v8h-10zM868 307h9v9h-9zM859 290h9v9h-9zM942 290h10v9h-10zM849 273h10v9h-10zM989 239h9v9h-9zM803 205h9v9h-9zM1054 180h10v8h-10zM775 171h9v9h-9zM1064 171h9v9h-9zM765 154h10v9h-10zM756 146h9v8h-9zM747 137h9v9h-9zM737 129h10v8h-10zM728 120h9v9h-9zM728 112h9v8h-9zM709 95h10v8h-10z"/>
<path fill="#b1d5e7" d="M952 282h9v8h-9zM840 256h9v9h-9zM970 256h10v9h-10zM980 248h9v8h-9zM831 239h9v9h-9zM821 231h10v8h-10zM998 222h10v9h-10zM1008 214h9v8h-9zM1017 205h9v9h-9zM1026 197h10v8h-10zM793 188h10v9h-10zM1036 188h9v9h-9zM784 180h9v8h-9zM1045 180h9v8h-9zM1054 171h10v9h-10zM747 129h9v8h-9zM737 120h10v9h-10zM719 103h9v9h-9zM700 86h9v9h-9zM700 78h9v8h-9z"/>
<path fill="#a7d0e4" d="M896 341h9v9h-9zM896 333h9v8h-9zM961 265h9v8h-9zM989 231h9v8h-9zM821 222h10v9h-10zM812 214h9v8h-9zM775 163h9v8h-9zM1064 163h9v8h-9zM756 137h9v9h-9zM728 103h9v9h-9zM719 95h9v8h-9zM709 86h10v9h-10z"/>
<path fill="#9dcbe1" d="M896 350h9v8h-9zM886 316h10v8h-10zM924 316h9v8h-9zM868 299h9v8h-9zM933 299h9v8h-9zM849 265h10v8h-10zM980 239h9v9h-9zM812 205h9v9h-9zM803 197h9v8h-9zM1017 197h9v8h-9zM1036 180h9v8h-9zM784 171h9v9h-9zM1045 171h9v9h-9zM1054 163h10v8h-10zM775 154h9v9h-9zM1064 154h9v9h-9zM765 146h10v8h-10zM747 120h9v9h-9zM737 112h10v8h-10zM728 95h9v8h-9zM719 86h9v9h-9zM709 78h10v8h-10z"/>
<path fill="#93c6de" d="M905 384h9v8h-9zM877 307h19v9h-19zM859 282h9v8h-9zM942 282h10v8h-10zM952 273h9v9h-9zM840 248h9v8h-9zM970 248h10v8h-10zM831 231h9v8h-9zM821 214h10v8h-10zM998 214h10v8h-10zM1008 205h9v9h-9zM1026 188h10v9h-10zM793 180h10v8h-10zM784 163h9v8h-9zM1054 154h10v9h-10zM756 129h9v8h-9z"/>
<path fill="#87beda" d="M961 256h9v9h-9zM989 222h9v9h-9zM803 188h9v9h-9zM1026 180h10v8h-10zM793 171h10v9h-10zM1045 163h9v8h-9zM1064 146h9v8h-9zM765 137h10v9h-10zM737 103h10v9h-10zM728 86h9v9h-9zM719 78h9v8h-9z"/>
<path fill="#7bb6d6" d="M914 341h10v9h-10zM914 333h10v8h-10zM896 324h9v9h-9zM896 316h9v8h-9zM924 307h9v9h-9zM886 299h10v8h-10zM849 256h10v9h-10zM980 231h9v8h-9zM831 222h9v9h-9zM998 205h10v9h-10zM812 197h9v8h-9zM1008 197h9v8h-9zM1017 188h9v9h-9zM803 180h9v8h-9zM1036 171h9v9h-9zM1045 154h9v9h-9zM775 146h9v8h-9zM1054 146h10v8h-10zM1064 137h9v9h-9zM765 129h10v8h-10zM756 120h9v9h-9zM747 112h9v8h-9zM747 103h9v9h-9zM737 95h10v8h-10z"/>
<path fill="#6eaed2" d="M868 290h9v9h-9zM933 290h9v9h-9zM859 273h9v9h-9zM952 265h9v8h-9zM840 239h9v9h-9zM970 239h10v9h-10zM1017 180h9v8h-9zM1026 171h10v9h-10zM793 163h10v8h-10zM1036 163h9v8h-9zM784 154h9v9h-9zM775 137h9v9h-9zM756 112h9v8h-9zM737 86h10v9h-10zM728 78h9v8h-9z"/>
<path fill="#5fa5cd" d="M905 375h9v9h-9zM914 324h10v9h-10zM886 290h10v9h-10zM942 273h10v9h-10zM989 214h9v8h-9zM821 205h10v9h-10zM812 188h9v9h-9zM1036 154h9v9h-9zM784 146h9v8h-9zM1045 146h9v8h-9zM1054 137h10v9h-10zM1064 129h9v8h-9zM765 120h10v9h-10zM747 95h9v8h-9z"/>
<path fill="#529dc8" d="M896 307h9v9h-9zM877 299h9v8h-9zM896 299h9v8h-9zM924 299h9v8h-9zM961 248h9v8h-9zM840 231h9v8h-9zM980 222h9v9h-9zM831 214h9v8h-9zM998 197h10v8h-10zM1008 188h9v9h-9zM803 171h9v9h-9zM1017 171h9v9h-9zM793 154h10v9h-10zM784 137h9v9h-9zM1045 137h9v9h-9zM775 129h9v8h-9zM1064 120h9v9h-9zM756 103h9v9h-9zM747 86h9v9h-9zM737 78h10v8h-10z"/>
<path fill="#4695c4" d="M886 282h10v8h-10zM933 282h9v8h-9zM859 265h9v8h-9zM942 265h10v8h-10zM952 256h9v9h-9zM849 248h10v8h-10zM970 231h10v8h-10zM989 205h9v9h-9zM821 197h10v8h-10zM998 188h10v9h-10zM812 180h9v8h-9zM803 163h9v8h-9zM1026 163h10v8h-10zM1026 154h10v9h-10zM1036 146h9v8h-9zM1054 129h10v8h-10zM775 120h9v9h-9zM765 112h10v8h-10zM765 103h10v9h-10z"/>
<path fill="#3f8ec0" d="M905 367h9v8h-9zM905 358h9v9h-9zM877 290h9v9h-9zM868 282h9v8h-9zM886 273h10v9h-10zM961 239h9v9h-9zM840 222h9v9h-9zM980 214h9v8h-9zM831 205h9v9h-9zM989 197h9v8h-9zM821 188h10v9h-10zM1008 180h9v8h-9zM812 171h9v9h-9zM1008 171h9v9h-9zM1017 163h9v8h-9zM793 146h10v8h-10zM1036 137h9v9h-9zM784 129h9v8h-9zM1045 129h9v8h-9zM1054 120h10v9h-10zM1064 112h9v8h-9zM756 95h9v8h-9zM756 86h9v9h-9zM747 78h9v8h-9z"/>
<path fill="#3a87bd" d="M896 290h9v9h-9zM924 290h9v9h-9zM868 273h9v9h-9zM933 273h9v9h-9zM849 239h10v9h-10zM970 222h10v9h-10zM998 180h10v8h-10zM1008 163h9v8h-9zM803 154h9v9h-9zM1026 146h10v8h-10zM793 137h10v9h-10zM1036 129h9v8h-9zM784 120h9v9h-9zM1045 120h9v9h-9zM775 112h9v8h-9zM1054 112h10v8h-10zM775 103h9v9h-9zM1064 103h9v9h-9zM765 95h10v8h-10zM1064 95h9v8h-9z"/>
<path fill="#3480b9" d="M914 316h10v8h-10zM877 282h9v8h-9zM886 265h10v8h-10zM859 256h9v9h-9zM942 256h10v9h-10zM952 248h9v8h-9zM849 231h10v8h-10zM961 231h9v8h-9zM840 214h9v8h-9zM980 205h9v9h-9zM831 197h9v8h-9zM989 188h9v9h-9zM821 180h10v8h-10zM812 163h9v8h-9zM1017 154h9v9h-9zM803 146h9v8h-9zM1017 146h9v8h-9zM1026 137h10v9h-10zM793 129h10v8h-10zM1045 112h9v8h-9zM1054 103h10v9h-10zM1054 95h10v8h-10zM765 86h10v9h-10zM1064 86h9v9h-9zM756 78h9v8h-9z"/>
<path fill="#2f79b5" d="M905 350h9v8h-9zM905 341h9v9h-9zM896 282h9v8h-9zM924 282h9v8h-9zM868 265h9v8h-9zM933 265h9v8h-9zM886 256h10v9h-10zM859 248h9v8h-9zM952 239h9v9h-9zM970 214h10v8h-10zM840 205h9v9h-9zM980 197h9v8h-9zM831 188h9v9h-9zM989 180h9v8h-9zM821 171h10v9h-10zM998 171h10v9h-10zM812 154h9v9h-9zM1008 154h9v9h-9zM1026 129h10v8h-10zM793 120h10v9h-10zM1036 120h9v9h-9zM784 112h9v8h-9zM1036 112h9v8h-9zM784 103h9v9h-9zM1045 103h9v9h-9zM775 95h9v8h-9zM765 78h10v8h-10zM1064 78h9v8h-9z"/>
<path fill="#2a71b2" d="M905 333h9v8h-9zM896 273h9v9h-9zM924 273h9v9h-9zM942 248h10v8h-10zM952 231h9v8h-9zM849 222h10v9h-10zM961 222h9v9h-9zM831 180h9v8h-9zM821 163h10v8h-10zM998 163h10v8h-10zM812 146h9v8h-9zM1008 146h9v8h-9zM803 137h9v9h-9zM1017 137h9v9h-9zM803 129h9v8h-9zM1017 129h9v8h-9zM1026 120h10v9h-10zM793 112h10v8h-10zM1036 103h9v9h-9zM784 95h9v8h-9zM1045 95h9v8h-9zM775 86h9v9h-9zM1054 86h10v9h-10zM1054 78h10v8h-10z"/>
<path fill="#246aae" d="M905 324h9v9h-9zM868 256h9v9h-9zM933 256h9v9h-9zM886 248h10v8h-10zM859 239h9v9h-9zM970 205h10v9h-10zM840 197h9v8h-9zM980 188h9v9h-9zM831 171h9v9h-9zM989 171h9v9h-9zM821 154h10v9h-10zM998 154h10v9h-10zM812 137h9v9h-9zM1008 137h9v9h-9zM803 120h9v9h-9zM1017 120h9v9h-9zM1026 112h10v8h-10zM793 103h10v9h-10zM1026 103h10v9h-10zM1036 95h9v8h-9zM784 86h9v9h-9zM1045 86h9v9h-9zM775 78h9v8h-9z"/>
<path fill="#1f63a8" d="M914 307h10v9h-10zM914 299h10v8h-10zM914 290h10v9h-10zM877 273h9v9h-9zM877 265h9v8h-9zM924 265h9v8h-9zM933 248h9v8h-9zM886 239h10v9h-10zM942 239h10v9h-10zM859 231h9v8h-9zM886 231h10v8h-10zM952 222h9v9h-9zM849 214h10v8h-10zM961 214h9v8h-9zM970 197h10v8h-10zM840 188h9v9h-9zM980 180h9v8h-9zM989 163h9v8h-9zM998 146h10v8h-10zM812 129h9v8h-9zM1008 129h9v8h-9zM803 112h9v8h-9zM1017 112h9v8h-9zM793 95h10v8h-10zM1036 86h9v9h-9zM784 78h9v8h-9zM1045 78h9v8h-9z"/>
<path fill="#1b5a9c" d="M905 316h9v8h-9zM905 307h9v9h-9zM905 299h9v8h-9zM914 282h10v8h-10zM924 256h9v9h-9zM868 248h9v8h-9zM942 231h10v8h-10zM859 222h9v9h-9zM849 205h10v9h-10zM961 205h9v9h-9zM970 188h10v9h-10zM840 180h9v8h-9zM980 171h9v9h-9zM831 163h9v8h-9zM989 154h9v9h-9zM821 146h10v8h-10zM821 137h10v9h-10zM998 137h10v9h-10zM812 120h9v9h-9zM1008 120h9v9h-9zM803 103h9v9h-9zM1017 103h9v9h-9zM1026 95h10v8h-10zM793 86h10v9h-10zM1026 86h10v9h-10zM1036 78h9v8h-9z"/>
<path fill="#175290" d="M914 273h10v9h-10zM896 265h9v8h-9zM914 265h10v8h-10zM877 256h9v9h-9zM896 256h9v9h-9zM924 248h9v8h-9zM868 239h9v9h-9zM933 239h9v9h-9zM886 222h10v9h-10zM942 222h10v9h-10zM952 214h9v8h-9zM849 197h10v8h-10zM961 197h9v8h-9zM970 180h10v8h-10zM840 171h9v9h-9zM980 163h9v8h-9zM831 154h9v9h-9zM831 146h9v8h-9zM989 146h9v8h-9zM989 137h9v9h-9zM821 129h10v8h-10zM998 129h10v8h-10zM998 120h10v9h-10zM812 112h9v8h-9zM1008 112h9v8h-9zM1008 103h9v9h-9zM803 95h9v8h-9zM1017 95h9v8h-9zM1017 86h9v9h-9zM793 78h10v8h-10zM1026 78h10v8h-10z"/>
<path fill="#124984" d="M905 290h9v9h-9zM914 256h10v9h-10zM877 248h9v8h-9zM896 248h9v8h-9zM877 239h9v9h-9zM924 239h9v9h-9zM868 231h9v8h-9zM933 231h9v8h-9zM868 222h9v9h-9zM933 222h9v9h-9zM859 214h9v8h-9zM886 214h10v8h-10zM942 214h10v8h-10zM859 205h9v9h-9zM942 205h19v9h-19zM952 197h9v8h-9zM849 188h10v9h-10zM961 188h9v9h-9zM849 180h10v8h-10zM961 180h9v8h-9zM970 171h10v9h-10zM840 163h9v8h-9zM970 163h10v8h-10zM840 154h9v9h-9zM980 154h9v9h-9zM980 146h9v8h-9zM831 137h9v9h-9zM980 137h9v9h-9zM831 129h9v8h-9zM989 129h9v8h-9zM821 120h10v9h-10zM821 112h10v8h-10zM998 112h10v8h-10zM812 103h9v9h-9zM812 95h9v8h-9zM1008 95h9v8h-9zM803 86h9v9h-9zM803 78h9v8h-9zM1017 78h9v8h-9z"/>
<path fill="#0e4179" d="M905 282h9v8h-9zM914 248h10v8h-10zM877 231h9v8h-9zM924 231h9v8h-9zM924 222h9v9h-9zM868 214h9v8h-9zM933 214h9v8h-9zM868 205h9v9h-9zM859 197h9v8h-9zM942 197h10v8h-10zM859 188h9v9h-9zM952 188h9v9h-9zM849 171h10v9h-10zM961 171h9v9h-9zM849 163h10v8h-10zM970 154h10v9h-10zM840 146h9v8h-9zM970 146h10v8h-10zM980 129h9v8h-9zM831 120h9v9h-9zM989 120h9v9h-9zM831 112h9v8h-9zM989 112h9v8h-9zM821 103h10v9h-10zM989 103h19v9h-19zM821 95h10v8h-10zM989 95h19v8h-19zM812 86h19v9h-19zM998 86h19v9h-19zM812 78h9v8h-9zM998 78h19v8h-19z"/>
<path fill="#09386d" d="M905 273h9v9h-9zM905 265h9v8h-9zM905 256h9v9h-9zM905 248h9v8h-9zM896 239h28v9h-28zM896 231h28v8h-28zM877 222h9v9h-9zM896 222h28v9h-28zM877 214h9v8h-9zM896 214h37v8h-37zM877 205h65v9h-65zM868 197h74v8h-74zM868 188h84v9h-84zM859 180h102v8h-102zM859 171h102v9h-102zM859 163h111v8h-111zM849 154h121v9h-121zM849 146h121v8h-121zM840 137h140v9h-140zM840 129h140v8h-140zM840 120h149v9h-149zM840 112h149v8h-149zM831 103h158v9h-158zM831 95h158v8h-158zM831 86h167v9h-167zM821 78h177v8h-177z"/>
</g>
<rect x="700.0" y="77.8" width="373.0" height="339.7" fill="none" stroke="#000" stroke-width="2"/><path d="M700.0 418.5v3.8M793.2 418.5v3.8M886.5 418.5v3.8M979.8 418.5v3.8M1073.0 418.5v3.8M699.0 162.7h-3.8M699.0 247.6h-3.8M699.0 417.5h-3.8" stroke="#222" stroke-width="0.9" fill="none"/>
<g shape-rendering="crispEdges">
<path fill="#730421" d="M585 781h9v9h-9zM613 781h56v9h-56z"/>
<path fill="#7f0823" d="M538 781h47v9h-47zM594 781h19v9h-19zM594 772h75v9h-75z"/>
<path fill="#8a0b25" d="M529 781h9v9h-9zM566 772h28v9h-28zM632 764h37v8h-37z"/>
<path fill="#960f27" d="M538 772h28v9h-28zM585 764h47v8h-47zM650 755h19v9h-19z"/>
<path fill="#a21328" d="M296 781h37v9h-37zM352 781h9v9h-9zM529 772h9v9h-9zM557 764h28v8h-28zM594 755h56v9h-56zM632 747h37v8h-37z"/>
<path fill="#ae172a" d="M333 781h19v9h-19zM361 781h56v9h-56zM427 781h9v9h-9zM296 772h65v9h-65zM380 772h9v9h-9zM296 764h37v8h-37zM538 764h19v8h-19zM576 755h18v9h-18zM604 747h28v8h-28zM650 738h10v9h-10z"/>
<path fill="#b61f2e" d="M417 781h10v9h-10zM436 781h9v9h-9zM520 781h9v9h-9zM361 772h19v9h-19zM389 772h19v9h-19zM417 772h10v9h-10zM333 764h28v8h-28zM371 764h9v8h-9zM296 755h19v9h-19zM324 755h9v9h-9zM557 755h19v9h-19zM576 747h28v8h-28zM632 738h18v9h-18zM660 738h9v9h-9zM650 730h19v8h-19z"/>
<path fill="#bb2a34" d="M510 781h10v9h-10zM408 772h9v9h-9zM427 772h9v9h-9zM361 764h10v8h-10zM380 764h9v8h-9zM399 764h9v8h-9zM529 764h9v8h-9zM315 755h9v9h-9zM333 755h28v9h-28zM371 755h9v9h-9zM538 755h19v9h-19zM296 747h28v8h-28zM604 738h28v9h-28zM632 730h9v8h-9z"/>
<path fill="#c13639" d="M436 772h9v9h-9zM520 772h9v9h-9zM389 764h10v8h-10zM408 764h28v8h-28zM361 755h10v9h-10zM380 755h9v9h-9zM324 747h47v8h-47zM557 747h19v8h-19zM296 738h19v9h-19zM324 738h9v9h-9zM585 738h19v9h-19zM296 730h9v8h-9zM613 730h19v8h-19zM641 730h9v8h-9zM650 721h19v9h-19zM660 713h9v8h-9z"/>
<path fill="#c6413e" d="M445 781h10v9h-10zM436 764h9v8h-9zM389 755h38v9h-38zM529 755h9v9h-9zM371 747h37v8h-37zM548 747h9v8h-9zM315 738h9v9h-9zM333 738h28v9h-28zM557 738h28v9h-28zM305 730h28v8h-28zM343 730h9v8h-9zM594 730h19v8h-19zM305 721h10v9h-10zM622 721h28v9h-28zM650 713h10v8h-10z"/>
<path fill="#cc4c44" d="M445 772h10v9h-10zM427 755h18v9h-18zM408 747h9v8h-9zM361 738h38v9h-38zM333 730h10v8h-10zM352 730h9v8h-9zM371 730h9v8h-9zM576 730h18v8h-18zM296 721h9v9h-9zM315 721h28v9h-28zM594 721h28v9h-28zM296 713h9v8h-9zM632 713h18v8h-18zM660 704h9v9h-9z"/>
<path fill="#d25849" d="M455 781h9v9h-9zM510 772h10v9h-10zM520 764h9v8h-9zM417 747h19v8h-19zM538 747h10v8h-10zM548 738h9v9h-9zM361 730h10v8h-10zM566 730h10v8h-10zM343 721h18v9h-18zM305 713h56v8h-56zM613 713h19v8h-19zM296 704h28v9h-28zM622 704h10v9h-10zM641 704h19v9h-19zM650 696h19v8h-19z"/>
<path fill="#d7634f" d="M445 764h10v8h-10zM436 747h9v8h-9zM529 747h9v8h-9zM399 738h37v9h-37zM538 738h10v9h-10zM380 730h56v8h-56zM548 730h18v8h-18zM361 721h38v9h-38zM576 721h18v9h-18zM361 713h10v8h-10zM380 713h19v8h-19zM576 713h9v8h-9zM594 713h19v8h-19zM324 704h47v9h-47zM613 704h9v9h-9zM632 704h9v9h-9zM296 696h37v8h-37zM632 696h9v8h-9zM296 687h19v9h-19zM650 687h19v9h-19zM296 679h9v8h-9z"/>
<path fill="#dc6e57" d="M455 772h9v9h-9zM445 755h10v9h-10zM520 755h9v9h-9zM436 738h9v9h-9zM529 738h9v9h-9zM538 730h10v8h-10zM399 721h18v9h-18zM557 721h19v9h-19zM371 713h9v8h-9zM585 713h9v8h-9zM371 704h18v9h-18zM594 704h19v9h-19zM333 696h38v8h-38zM613 696h19v8h-19zM641 696h9v8h-9zM315 687h28v9h-28zM632 687h18v9h-18zM305 679h28v8h-28zM650 679h19v8h-19zM296 670h9v9h-9z"/>
<path fill="#e17860" d="M464 781h18v9h-18zM436 730h9v8h-9zM417 721h10v9h-10zM548 721h9v9h-9zM399 713h28v8h-28zM557 713h19v8h-19zM389 704h10v9h-10zM576 704h18v9h-18zM371 696h9v8h-9zM594 696h19v8h-19zM343 687h28v9h-28zM613 687h19v9h-19zM333 679h28v8h-28zM305 670h19v9h-19zM333 670h10v9h-10zM660 670h9v9h-9zM296 662h19v8h-19z"/>
<path fill="#e6866a" d="M455 764h9v8h-9zM455 755h9v9h-9zM445 747h10v8h-10zM520 747h9v8h-9zM445 738h10v9h-10zM529 730h9v8h-9zM427 721h9v9h-9zM538 721h10v9h-10zM399 704h18v9h-18zM380 696h9v8h-9zM371 687h9v9h-9zM389 687h10v9h-10zM604 687h9v9h-9zM361 679h19v8h-19zM622 679h28v8h-28zM324 670h9v9h-9zM343 670h18v9h-18zM641 670h19v9h-19zM315 662h37v8h-37zM660 662h9v8h-9zM296 653h28v9h-28zM296 645h9v8h-9z"/>
<path fill="#eb9172" d="M464 772h9v9h-9zM436 721h9v9h-9zM427 713h9v8h-9zM548 713h9v8h-9zM557 704h19v9h-19zM389 696h38v8h-38zM576 696h18v8h-18zM380 687h9v9h-9zM399 687h9v9h-9zM585 687h19v9h-19zM380 679h9v8h-9zM613 679h9v8h-9zM361 670h19v9h-19zM632 670h9v9h-9zM352 662h19v8h-19zM632 662h28v8h-28zM324 653h28v9h-28zM650 653h19v9h-19zM305 645h19v8h-19zM296 636h19v9h-19zM296 619h9v9h-9z"/>
<path fill="#f09c7b" d="M473 772h9v9h-9zM510 764h10v8h-10zM455 747h9v8h-9zM445 730h10v8h-10zM529 721h9v9h-9zM436 713h9v8h-9zM417 704h19v9h-19zM548 704h9v9h-9zM427 696h9v8h-9zM557 696h19v8h-19zM408 687h19v9h-19zM576 687h9v9h-9zM389 679h28v8h-28zM585 679h28v8h-28zM380 670h19v9h-19zM613 670h19v9h-19zM371 662h18v8h-18zM352 653h28v9h-28zM324 645h28v8h-28zM660 645h9v8h-9zM315 636h28v9h-28zM296 628h28v8h-28zM305 619h10v9h-10z"/>
<path fill="#f4a683" d="M492 781h18v9h-18zM464 764h9v8h-9zM464 755h9v9h-9zM455 738h9v9h-9zM520 738h9v9h-9zM445 721h10v9h-10zM538 713h10v8h-10zM436 704h9v9h-9zM399 670h9v9h-9zM604 670h9v9h-9zM613 662h19v8h-19zM632 653h18v9h-18zM352 645h9v8h-9zM650 645h10v8h-10zM343 636h18v9h-18zM660 636h9v9h-9zM324 628h19v8h-19zM315 619h18v9h-18zM296 611h19v8h-19z"/>
<path fill="#f6af8e" d="M473 764h9v8h-9zM510 755h10v9h-10zM455 730h9v8h-9zM520 730h9v8h-9zM445 713h10v8h-10zM436 696h9v8h-9zM427 687h9v9h-9zM566 687h10v9h-10zM417 679h10v8h-10zM576 679h9v8h-9zM408 670h9v9h-9zM389 662h10v8h-10zM604 662h9v8h-9zM380 653h9v9h-9zM613 653h19v9h-19zM361 645h19v8h-19zM641 645h9v8h-9zM343 628h9v8h-9zM315 611h9v8h-9zM296 602h9v9h-9z"/>
<path fill="#f7b799" d="M473 755h9v9h-9zM464 747h9v8h-9zM529 713h9v8h-9zM445 704h10v9h-10zM538 704h10v9h-10zM548 696h9v8h-9zM557 687h9v9h-9zM566 679h10v8h-10zM585 670h19v9h-19zM399 662h9v8h-9zM389 653h10v9h-10zM380 645h9v8h-9zM632 645h9v8h-9zM361 636h10v9h-10zM641 636h19v9h-19zM352 628h19v8h-19zM660 628h9v8h-9zM333 619h19v9h-19zM324 611h9v8h-9zM305 602h19v9h-19zM296 594h19v8h-19z"/>
<path fill="#f8bfa4" d="M482 781h10v9h-10zM501 772h9v9h-9zM455 721h9v9h-9zM436 687h9v9h-9zM427 679h9v8h-9zM417 670h10v9h-10zM576 670h9v9h-9zM408 662h9v8h-9zM594 662h10v8h-10zM399 653h9v9h-9zM604 653h9v9h-9zM389 645h10v8h-10zM613 645h9v8h-9zM371 636h18v9h-18zM650 628h10v8h-10zM352 619h19v9h-19zM333 611h19v8h-19zM324 602h19v9h-19zM315 594h9v8h-9zM296 585h19v9h-19z"/>
<path fill="#fac8af" d="M501 764h9v8h-9zM473 747h9v8h-9zM510 747h10v8h-10zM464 738h9v9h-9zM455 713h9v8h-9zM538 696h10v8h-10zM548 687h9v9h-9zM417 662h10v8h-10zM585 662h9v8h-9zM622 645h10v8h-10zM632 636h9v9h-9zM371 628h9v8h-9zM641 628h9v8h-9zM650 619h19v9h-19zM352 611h9v8h-9zM352 602h9v9h-9zM324 594h9v8h-9zM315 585h9v9h-9zM305 577h10v8h-10z"/>
<path fill="#fbd0b9" d="M464 730h9v8h-9zM520 721h9v9h-9zM445 696h10v8h-10zM436 679h9v8h-9zM557 679h9v8h-9zM427 670h9v9h-9zM566 670h10v9h-10zM408 653h9v9h-9zM594 653h10v9h-10zM399 645h9v8h-9zM389 636h10v9h-10zM380 628h9v8h-9zM371 619h9v9h-9zM660 611h9v8h-9zM343 602h9v9h-9zM333 594h10v8h-10zM324 585h9v9h-9zM296 577h9v8h-9zM296 568h9v9h-9z"/>
<path fill="#fdd9c4" d="M455 704h9v9h-9zM529 704h9v9h-9zM445 687h10v9h-10zM576 662h9v8h-9zM417 653h10v9h-10zM585 653h9v9h-9zM408 645h9v8h-9zM604 645h9v8h-9zM613 636h19v9h-19zM632 628h9v8h-9zM641 619h9v9h-9zM361 611h19v8h-19zM361 602h10v9h-10zM343 594h18v8h-18zM333 585h10v9h-10zM315 577h18v8h-18zM305 568h10v9h-10zM296 560h9v8h-9z"/>
<path fill="#fcdecd" d="M464 721h9v9h-9zM548 679h9v8h-9zM557 670h9v9h-9zM427 662h9v8h-9zM566 662h10v8h-10zM594 645h10v8h-10zM399 636h9v9h-9zM389 628h10v8h-10zM613 628h19v8h-19zM380 619h9v9h-9zM650 611h10v8h-10zM660 602h9v9h-9zM343 585h9v9h-9zM333 577h10v8h-10zM315 568h18v9h-18zM305 560h10v8h-10zM296 551h9v9h-9z"/>
<path fill="#fbe3d4" d="M492 772h9v9h-9zM473 738h9v9h-9zM520 713h9v8h-9zM538 687h10v9h-10zM436 670h9v9h-9zM604 636h9v9h-9zM399 628h9v8h-9zM389 619h10v9h-10zM632 619h9v9h-9zM371 602h9v9h-9zM361 594h10v8h-10zM352 585h9v9h-9zM343 577h9v8h-9zM315 560h9v8h-9zM305 551h10v9h-10zM296 543h9v8h-9z"/>
<path fill="#fae7dc" d="M464 713h9v8h-9zM455 696h9v8h-9zM529 696h9v8h-9zM445 679h10v8h-10zM576 653h9v9h-9zM417 645h10v8h-10zM585 645h9v8h-9zM408 636h9v9h-9zM622 619h10v9h-10zM380 611h9v8h-9zM641 611h9v8h-9zM650 602h10v9h-10zM324 560h9v8h-9z"/>
<path fill="#f9ebe3" d="M445 670h10v9h-10zM436 662h9v8h-9zM557 662h9v8h-9zM427 653h9v9h-9zM566 653h10v9h-10zM427 645h9v8h-9zM594 636h10v9h-10zM604 628h9v8h-9zM399 619h9v9h-9zM389 611h10v8h-10zM380 602h9v9h-9zM371 594h9v8h-9zM660 594h9v8h-9zM361 585h10v9h-10zM352 577h9v8h-9zM333 568h19v9h-19zM315 551h18v9h-18zM305 543h19v8h-19zM296 534h9v9h-9z"/>
<path fill="#f9f0eb" d="M501 755h9v9h-9zM510 738h10v9h-10zM538 679h10v8h-10zM548 670h9v9h-9zM417 636h10v9h-10zM408 628h9v8h-9zM613 619h9v9h-9zM632 611h9v8h-9zM641 602h9v9h-9zM650 594h10v8h-10zM371 585h9v9h-9zM660 585h9v9h-9zM361 577h10v8h-10zM352 568h9v9h-9zM333 560h10v8h-10zM305 534h10v9h-10zM296 526h9v8h-9z"/>
<path fill="#f8f4f2" d="M473 730h9v8h-9zM473 721h9v9h-9zM464 704h9v9h-9zM520 704h9v9h-9zM455 687h9v9h-9zM436 653h9v9h-9zM576 645h9v8h-9zM585 636h9v9h-9zM594 628h10v8h-10zM408 619h9v9h-9zM389 602h10v9h-10zM380 594h9v8h-9zM641 594h9v8h-9zM343 560h18v8h-18zM324 543h9v8h-9zM296 517h9v9h-9z"/>
<path fill="#f3f5f6" d="M510 730h10v8h-10zM529 687h9v9h-9zM417 628h10v8h-10zM604 619h9v9h-9zM399 611h9v8h-9zM613 611h19v8h-19zM622 602h19v9h-19zM650 585h10v9h-10zM660 577h9v8h-9zM361 568h10v9h-10zM333 551h19v9h-19zM333 543h10v8h-10zM315 534h9v9h-9zM305 526h10v8h-10z"/>
<path fill="#edf2f5" d="M482 772h10v9h-10zM538 670h10v9h-10zM445 662h10v8h-10zM548 662h9v8h-9zM557 653h9v9h-9zM566 645h10v8h-10zM427 636h9v9h-9zM585 628h9v8h-9zM594 619h10v9h-10zM632 594h9v8h-9zM380 585h9v9h-9zM641 585h9v9h-9zM371 577h9v8h-9zM352 551h9v9h-9zM324 534h19v9h-19zM315 526h18v8h-18zM305 517h10v9h-10zM296 509h9v8h-9z"/>
<path fill="#e7f0f4" d="M464 696h9v8h-9zM455 679h9v8h-9zM436 645h9v8h-9zM576 636h9v9h-9zM408 611h9v8h-9zM604 611h9v8h-9zM399 602h9v9h-9zM613 602h9v9h-9zM389 594h10v8h-10zM650 577h10v8h-10zM660 568h9v9h-9zM361 560h10v8h-10zM343 543h9v8h-9zM315 517h9v9h-9zM305 509h10v8h-10zM296 500h9v9h-9z"/>
<path fill="#e1edf3" d="M520 696h9v8h-9zM529 679h9v8h-9zM445 653h10v9h-10zM557 645h9v8h-9zM566 636h10v9h-10zM427 628h9v8h-9zM576 628h9v8h-9zM417 619h10v9h-10zM594 611h10v8h-10zM604 602h9v9h-9zM399 594h9v8h-9zM622 594h10v8h-10zM389 585h10v9h-10zM632 585h9v9h-9zM641 577h9v8h-9zM371 568h9v9h-9zM650 568h10v9h-10zM660 560h9v8h-9zM361 551h10v9h-10zM352 543h9v8h-9zM343 534h9v9h-9zM333 526h10v8h-10zM324 517h9v9h-9zM315 509h9v8h-9zM305 500h10v9h-10z"/>
<path fill="#dbeaf2" d="M473 713h9v8h-9zM585 619h9v9h-9zM417 611h10v8h-10zM613 594h9v8h-9zM622 585h10v9h-10zM380 577h9v8h-9zM380 568h9v9h-9zM641 568h9v9h-9zM371 560h9v8h-9zM650 560h10v8h-10zM660 551h9v9h-9zM352 534h9v9h-9zM343 526h9v8h-9zM333 517h10v9h-10zM324 509h9v8h-9zM315 500h9v9h-9zM296 492h19v8h-19zM296 483h9v9h-9z"/>
<path fill="#d5e7f1" d="M510 721h10v9h-10zM464 687h9v9h-9zM455 670h9v9h-9zM538 662h10v8h-10zM548 653h9v9h-9zM436 636h9v9h-9zM585 611h9v8h-9zM408 602h9v9h-9zM604 594h9v8h-9zM399 585h9v9h-9zM613 585h9v9h-9zM389 577h10v8h-10zM622 577h19v8h-19zM641 560h9v8h-9zM371 551h9v9h-9zM361 543h10v8h-10zM660 543h9v8h-9zM352 526h9v8h-9zM324 500h9v9h-9z"/>
<path fill="#cfe4ef" d="M520 687h9v9h-9zM557 636h9v9h-9zM566 628h10v8h-10zM427 619h9v9h-9zM576 619h9v9h-9zM594 602h10v9h-10zM408 594h9v8h-9zM632 568h9v9h-9zM650 551h10v9h-10zM343 517h9v9h-9zM333 509h10v8h-10zM315 492h9v8h-9zM305 483h10v9h-10zM296 475h9v8h-9z"/>
<path fill="#c5dfec" d="M473 704h9v9h-9zM529 670h9v9h-9zM417 602h10v9h-10zM594 594h10v8h-10zM604 585h9v9h-9zM399 577h9v8h-9zM613 577h9v8h-9zM389 568h10v9h-10zM380 560h9v8h-9zM371 543h9v8h-9zM650 543h10v8h-10zM361 534h10v9h-10zM660 534h9v9h-9zM352 517h9v9h-9zM343 509h9v8h-9zM333 500h10v9h-10zM324 492h9v8h-9zM305 475h10v8h-10zM296 466h9v9h-9z"/>
<path fill="#bbdaea" d="M492 764h9v8h-9zM501 747h9v8h-9zM510 713h10v8h-10zM538 653h10v9h-10zM445 645h10v8h-10zM548 645h9v8h-9zM436 628h9v8h-9zM557 628h9v8h-9zM427 611h9v8h-9zM576 611h9v8h-9zM585 602h9v9h-9zM408 585h9v9h-9zM622 568h10v9h-10zM389 560h10v8h-10zM632 560h9v8h-9zM641 551h9v9h-9zM371 534h9v9h-9zM361 526h10v8h-10zM333 492h10v8h-10zM315 483h9v9h-9zM296 458h9v8h-9z"/>
<path fill="#b1d5e7" d="M464 679h9v8h-9zM455 662h9v8h-9zM566 619h10v9h-10zM613 568h9v9h-9zM380 551h9v9h-9zM632 551h9v9h-9zM641 543h9v8h-9zM650 534h10v9h-10zM660 526h9v8h-9zM352 509h9v8h-9zM343 500h9v9h-9zM324 483h9v9h-9zM315 475h9v8h-9zM305 466h10v9h-10zM305 458h10v8h-10zM296 449h9v9h-9z"/>
<path fill="#a7d0e4" d="M482 764h10v8h-10zM520 679h9v8h-9zM445 636h10v9h-10zM436 619h9v9h-9zM417 594h10v8h-10zM594 585h10v9h-10zM604 577h9v8h-9zM399 568h9v9h-9zM622 560h10v8h-10zM380 543h9v8h-9zM361 517h10v9h-10zM660 517h9v9h-9zM333 483h10v9h-10zM324 475h9v8h-9zM315 466h9v9h-9z"/>
<path fill="#9dcbe1" d="M529 662h9v8h-9zM548 636h9v9h-9zM566 611h10v8h-10zM427 602h9v9h-9zM585 594h9v8h-9zM408 577h9v8h-9zM613 560h9v8h-9zM389 551h10v9h-10zM622 551h10v9h-10zM641 534h9v9h-9zM371 526h9v8h-9zM650 526h10v8h-10zM352 500h9v9h-9zM343 492h9v8h-9zM324 466h9v9h-9zM315 458h9v8h-9zM305 449h10v9h-10z"/>
<path fill="#93c6de" d="M473 696h9v8h-9zM455 653h9v9h-9zM538 645h10v8h-10zM576 602h9v9h-9zM417 585h10v9h-10zM594 577h10v8h-10zM604 568h9v9h-9zM399 560h9v8h-9zM632 543h9v8h-9zM380 534h9v9h-9zM650 517h10v9h-10zM361 509h10v8h-10zM660 509h9v8h-9zM352 492h9v8h-9zM343 483h9v9h-9zM333 475h10v8h-10zM315 449h9v9h-9z"/>
<path fill="#87beda" d="M520 670h9v9h-9zM445 628h10v8h-10zM557 619h9v9h-9zM576 594h9v8h-9zM585 585h9v9h-9zM408 568h9v9h-9zM613 551h9v9h-9zM389 543h10v8h-10zM622 543h10v8h-10zM641 526h9v8h-9zM371 517h9v9h-9zM361 500h10v9h-10zM660 500h9v9h-9zM333 466h10v9h-10zM324 458h9v8h-9z"/>
<path fill="#7bb6d6" d="M501 738h9v9h-9zM464 670h9v9h-9zM529 653h9v9h-9zM436 611h9v8h-9zM427 594h9v8h-9zM594 568h10v9h-10zM604 560h9v8h-9zM399 551h9v9h-9zM632 534h9v9h-9zM380 526h9v8h-9zM641 517h9v9h-9zM650 509h10v8h-10zM352 483h9v9h-9zM343 475h9v8h-9z"/>
<path fill="#6eaed2" d="M510 704h10v9h-10zM473 687h9v9h-9zM548 628h9v8h-9zM566 602h10v9h-10zM417 577h10v8h-10zM389 534h10v9h-10zM622 534h10v9h-10zM632 526h9v8h-9zM371 509h9v8h-9zM361 492h10v8h-10zM660 492h9v8h-9zM343 466h9v9h-9zM333 458h10v8h-10zM324 449h9v9h-9z"/>
<path fill="#5fa5cd" d="M482 755h19v9h-19zM464 662h9v8h-9zM455 645h9v8h-9zM538 636h10v9h-10zM557 611h9v8h-9zM436 602h9v9h-9zM585 577h9v8h-9zM408 560h9v8h-9zM594 560h10v8h-10zM604 551h9v9h-9zM399 543h9v8h-9zM613 543h9v8h-9zM632 517h9v9h-9zM641 509h9v8h-9zM650 500h10v9h-10zM660 483h9v9h-9zM352 475h9v8h-9zM333 449h10v9h-10z"/>
<path fill="#529dc8" d="M520 662h9v8h-9zM529 645h9v8h-9zM445 619h10v9h-10zM566 594h10v8h-10zM427 585h9v9h-9zM576 585h9v9h-9zM408 551h9v9h-9zM613 534h9v9h-9zM389 526h10v8h-10zM622 526h10v8h-10zM380 517h9v9h-9zM371 500h9v9h-9zM650 492h10v8h-10zM361 483h10v9h-10zM343 458h9v8h-9z"/>
<path fill="#4695c4" d="M492 747h9v8h-9zM501 730h9v8h-9zM510 696h10v8h-10zM473 679h9v8h-9zM455 636h9v9h-9zM538 628h10v8h-10zM548 619h9v9h-9zM576 577h9v8h-9zM417 568h10v9h-10zM585 568h9v9h-9zM604 543h9v8h-9zM622 517h10v9h-10zM380 509h9v8h-9zM632 509h9v8h-9zM641 500h9v9h-9zM650 483h10v9h-10zM660 475h9v8h-9zM352 466h9v9h-9zM343 449h9v9h-9z"/>
<path fill="#3f8ec0" d="M482 747h10v8h-10zM482 730h10v8h-10zM473 670h9v9h-9zM464 653h9v9h-9zM520 653h9v9h-9zM445 611h10v8h-10zM557 602h9v9h-9zM436 594h9v8h-9zM427 577h9v8h-9zM576 568h9v9h-9zM417 560h10v8h-10zM585 560h9v8h-9zM594 551h10v9h-10zM399 534h9v9h-9zM613 526h9v8h-9zM389 517h10v9h-10zM613 517h9v9h-9zM380 500h9v9h-9zM371 492h9v8h-9zM641 492h9v8h-9zM371 483h9v9h-9zM361 475h10v8h-10zM660 466h9v9h-9zM352 458h9v8h-9z"/>
<path fill="#3a87bd" d="M482 738h19v9h-19zM492 730h9v8h-9zM482 721h10v9h-10zM501 721h9v9h-9zM529 636h9v9h-9zM548 611h9v8h-9zM557 594h9v8h-9zM566 585h10v9h-10zM427 568h9v9h-9zM417 551h10v9h-10zM408 543h9v8h-9zM594 543h10v8h-10zM604 534h9v9h-9zM399 526h9v8h-9zM604 526h9v8h-9zM389 509h10v8h-10zM622 509h10v8h-10zM632 500h9v9h-9zM380 492h9v8h-9zM641 483h9v9h-9zM650 475h10v8h-10zM361 466h10v9h-10zM650 466h10v9h-10zM660 458h9v8h-9zM352 449h9v9h-9z"/>
<path fill="#3480b9" d="M482 713h10v8h-10zM482 704h10v9h-10zM482 696h10v8h-10zM482 687h10v9h-10zM510 687h10v9h-10zM455 628h9v8h-9zM529 628h9v8h-9zM538 619h10v9h-10zM436 585h9v9h-9zM566 577h10v8h-10zM585 551h9v9h-9zM408 534h9v9h-9zM594 534h10v9h-10zM399 517h9v9h-9zM604 517h9v9h-9zM613 509h9v8h-9zM389 500h10v9h-10zM622 500h10v9h-10zM632 492h9v8h-9zM371 475h9v8h-9zM641 475h9v8h-9zM361 458h10v8h-10zM650 458h10v8h-10zM660 449h9v9h-9z"/>
<path fill="#2f79b5" d="M510 679h10v8h-10zM510 670h10v9h-10zM464 645h9v8h-9zM520 645h9v8h-9zM445 602h10v9h-10zM557 585h9v9h-9zM436 577h9v8h-9zM427 560h9v8h-9zM576 560h9v8h-9zM417 543h10v8h-10zM585 543h9v8h-9zM408 526h9v8h-9zM399 509h9v8h-9zM613 500h9v9h-9zM389 492h10v8h-10zM622 492h10v8h-10zM380 483h9v9h-9zM632 483h9v9h-9zM632 475h9v8h-9zM371 466h9v9h-9zM641 466h9v9h-9zM371 458h9v8h-9zM361 449h10v9h-10zM650 449h10v9h-10z"/>
<path fill="#2a71b2" d="M492 721h9v9h-9zM492 713h18v8h-18zM501 704h9v9h-9zM482 679h10v8h-10zM482 670h10v9h-10zM473 662h19v8h-19zM520 636h9v9h-9zM455 619h9v9h-9zM538 611h10v8h-10zM548 602h9v9h-9zM445 594h10v8h-10zM566 568h10v9h-10zM427 551h9v9h-9zM417 534h10v9h-10zM585 534h9v9h-9zM594 526h10v8h-10zM408 517h9v9h-9zM604 509h9v8h-9zM613 492h9v8h-9zM622 483h10v9h-10zM380 475h9v8h-9zM632 466h9v9h-9zM641 458h9v8h-9zM641 449h9v9h-9z"/>
<path fill="#246aae" d="M492 704h9v9h-9zM492 696h9v8h-9zM510 662h10v8h-10zM473 653h9v9h-9zM464 636h9v9h-9zM520 628h9v8h-9zM529 619h9v9h-9zM455 611h9v8h-9zM538 602h10v9h-10zM548 594h9v8h-9zM445 585h10v9h-10zM557 577h9v8h-9zM436 568h9v9h-9zM566 560h10v8h-10zM576 551h9v9h-9zM427 543h9v8h-9zM576 543h9v8h-9zM417 526h10v8h-10zM594 517h10v9h-10zM408 509h9v8h-9zM399 500h9v9h-9zM604 500h9v9h-9zM399 492h9v8h-9zM389 483h10v9h-10zM613 483h9v9h-9zM389 475h10v8h-10zM622 475h10v8h-10zM380 466h9v9h-9zM380 458h9v8h-9zM632 458h9v8h-9zM371 449h9v9h-9z"/>
<path fill="#1f63a8" d="M501 696h9v8h-9zM492 687h18v9h-18zM492 679h18v8h-18zM492 670h9v9h-9zM482 653h10v9h-10zM510 653h10v9h-10zM473 645h9v8h-9zM464 628h9v8h-9zM455 602h9v9h-9zM557 568h9v9h-9zM436 560h9v8h-9zM566 551h10v9h-10zM576 534h9v9h-9zM585 526h9v8h-9zM417 517h10v9h-10zM594 509h10v8h-10zM408 500h9v9h-9zM604 492h9v8h-9zM399 483h9v9h-9zM613 475h9v8h-9zM389 466h10v9h-10zM622 466h10v9h-10zM380 449h9v9h-9zM632 449h9v9h-9z"/>
<path fill="#1b5a9c" d="M492 662h9v8h-9zM482 645h10v8h-10zM464 619h9v9h-9zM520 619h9v9h-9zM529 611h9v8h-9zM455 594h9v8h-9zM538 594h10v8h-10zM548 585h9v9h-9zM445 577h10v8h-10zM436 551h9v9h-9zM427 534h9v9h-9zM427 526h9v8h-9zM576 526h9v8h-9zM585 517h9v9h-9zM417 509h10v8h-10zM594 500h10v9h-10zM408 492h9v8h-9zM594 492h10v8h-10zM604 483h9v9h-9zM399 475h9v8h-9zM389 458h10v8h-10zM622 458h10v8h-10zM622 449h10v9h-10z"/>
<path fill="#175290" d="M501 670h9v9h-9zM501 662h9v8h-9zM510 645h10v8h-10zM473 636h9v9h-9zM464 611h9v8h-9zM520 611h9v8h-9zM529 602h9v9h-9zM538 585h10v9h-10zM548 577h9v8h-9zM445 568h10v9h-10zM445 560h10v8h-10zM557 560h9v8h-9zM436 543h9v8h-9zM566 543h10v8h-10zM436 534h9v9h-9zM566 534h10v9h-10zM427 517h9v9h-9zM576 517h9v9h-9zM585 509h9v8h-9zM417 500h10v9h-10zM585 500h9v9h-9zM408 483h9v9h-9zM594 483h10v9h-10zM604 475h9v8h-9zM399 466h9v9h-9zM604 466h18v9h-18zM604 458h18v8h-18zM389 449h10v9h-10zM613 449h9v9h-9z"/>
<path fill="#124984" d="M492 653h9v9h-9zM482 636h10v9h-10zM510 636h10v9h-10zM473 628h9v8h-9zM510 628h10v8h-10zM473 619h9v9h-9zM464 602h9v9h-9zM520 602h9v9h-9zM520 594h18v8h-18zM455 585h9v9h-9zM529 585h9v9h-9zM455 577h9v8h-9zM538 577h10v8h-10zM548 568h9v9h-9zM548 560h9v8h-9zM445 551h10v9h-10zM557 551h9v9h-9zM557 543h9v8h-9zM436 526h9v8h-9zM566 526h10v8h-10zM566 517h10v9h-10zM427 509h9v8h-9zM576 509h9v8h-9zM427 500h9v9h-9zM576 500h9v9h-9zM417 492h10v8h-10zM585 492h9v8h-9zM585 483h9v9h-9zM408 475h9v8h-9zM594 475h10v8h-10zM408 466h9v9h-9zM594 466h10v9h-10zM399 458h9v8h-9zM399 449h9v9h-9zM604 449h9v9h-9z"/>
<path fill="#0e4179" d="M501 653h9v9h-9zM501 645h9v8h-9zM501 636h9v9h-9zM510 619h10v9h-10zM473 611h9v8h-9zM473 602h9v9h-9zM464 594h9v8h-9zM464 585h9v9h-9zM520 585h9v9h-9zM529 577h9v8h-9zM455 568h9v9h-9zM529 568h19v9h-19zM538 560h10v8h-10zM548 551h9v9h-9zM445 543h10v8h-10zM548 543h9v8h-9zM445 534h10v9h-10zM557 534h9v9h-9zM557 526h9v8h-9zM436 517h9v9h-9zM557 517h9v9h-9zM566 509h10v8h-10zM566 500h10v9h-10zM427 492h9v8h-9zM576 492h9v8h-9zM417 483h10v9h-10zM576 483h9v9h-9zM417 475h10v8h-10zM585 475h9v8h-9zM585 466h9v9h-9zM408 458h9v8h-9zM585 458h19v8h-19zM408 449h9v9h-9zM585 449h19v9h-19z"/>
<path fill="#09386d" d="M492 645h9v8h-9zM492 636h9v9h-9zM482 628h28v8h-28zM482 619h28v9h-28zM482 611h38v8h-38zM482 602h38v9h-38zM473 594h47v8h-47zM473 585h47v9h-47zM464 577h65v8h-65zM464 568h65v9h-65zM455 560h83v8h-83zM455 551h93v9h-93zM455 543h93v8h-93zM455 534h102v9h-102zM445 526h112v8h-112zM445 517h112v9h-112zM436 509h130v8h-130zM436 500h130v9h-130zM436 492h140v8h-140zM427 483h149v9h-149zM427 475h158v8h-158zM417 466h168v9h-168zM417 458h168v8h-168zM417 449h168v9h-168z"/>
</g>
<rect x="296.0" y="449.3" width="373.0" height="340.2" fill="none" stroke="#000" stroke-width="2"/><path d="M296.0 790.5v3.8M389.2 790.5v3.8M482.5 790.5v3.8M575.8 790.5v3.8M669.0 790.5v3.8M295.0 534.4h-3.8M295.0 619.4h-3.8M295.0 789.5h-3.8" stroke="#222" stroke-width="0.9" fill="none"/>
<g shape-rendering="crispEdges">
<path fill="#730421" d="M1026 781h47v9h-47z"/>
<path fill="#7f0823" d="M961 781h65v9h-65zM1008 772h28v9h-28zM1045 772h28v9h-28z"/>
<path fill="#8a0b25" d="M942 781h19v9h-19zM980 772h28v9h-28zM1036 772h9v9h-9zM1036 764h37v8h-37z"/>
<path fill="#960f27" d="M952 772h28v9h-28zM980 764h9v8h-9zM998 764h38v8h-38zM1054 755h19v9h-19z"/>
<path fill="#a21328" d="M700 781h65v9h-65zM775 781h9v9h-9zM933 781h9v9h-9zM942 772h10v9h-10zM970 764h10v8h-10zM989 764h9v8h-9zM1008 755h46v9h-46zM1054 747h10v8h-10z"/>
<path fill="#ae172a" d="M765 781h10v9h-10zM784 781h28v9h-28zM821 781h10v9h-10zM700 772h75v9h-75zM709 764h10v8h-10zM728 764h9v8h-9zM961 764h9v8h-9zM989 755h19v9h-19zM1026 747h28v8h-28zM1064 747h9v8h-9zM1064 738h9v9h-9z"/>
<path fill="#b61f2e" d="M812 781h9v9h-9zM831 781h18v9h-18zM775 772h28v9h-28zM812 772h9v9h-9zM933 772h9v9h-9zM700 764h9v8h-9zM719 764h9v8h-9zM737 764h28v8h-28zM775 764h9v8h-9zM942 764h19v8h-19zM719 755h28v9h-28zM961 755h28v9h-28zM1008 747h18v8h-18zM1036 738h9v9h-9zM1054 738h10v9h-10z"/>
<path fill="#bb2a34" d="M849 781h10v9h-10zM914 781h10v9h-10zM803 772h9v9h-9zM821 772h19v9h-19zM765 764h10v8h-10zM784 764h19v8h-19zM700 755h19v9h-19zM700 747h19v8h-19zM728 747h9v8h-9zM989 747h19v8h-19zM1017 738h19v9h-19zM1045 738h9v9h-9zM1036 730h37v8h-37z"/>
<path fill="#c13639" d="M924 781h9v9h-9zM840 772h9v9h-9zM803 764h37v8h-37zM747 755h65v9h-65zM952 755h9v9h-9zM719 747h9v8h-9zM737 747h28v8h-28zM970 747h19v8h-19zM700 738h28v9h-28zM998 738h19v9h-19zM1026 730h10v8h-10z"/>
<path fill="#c6413e" d="M849 772h10v9h-10zM840 764h9v8h-9zM933 764h9v8h-9zM812 755h9v9h-9zM942 755h10v9h-10zM765 747h38v8h-38zM952 747h18v8h-18zM728 738h28v9h-28zM765 738h19v9h-19zM980 738h18v9h-18zM700 730h37v8h-37zM1008 730h18v8h-18zM1026 721h47v9h-47z"/>
<path fill="#cc4c44" d="M859 781h9v9h-9zM821 755h19v9h-19zM803 747h9v8h-9zM756 738h9v9h-9zM784 738h9v9h-9zM970 738h10v9h-10zM737 730h38v8h-38zM998 730h10v8h-10zM700 721h37v9h-37zM1017 721h9v9h-9zM700 713h19v8h-19zM1045 713h28v8h-28z"/>
<path fill="#d25849" d="M924 772h9v9h-9zM849 764h10v8h-10zM840 755h9v9h-9zM812 747h28v8h-28zM942 747h10v8h-10zM793 738h19v9h-19zM952 738h18v9h-18zM775 730h18v8h-18zM980 730h18v8h-18zM737 721h56v9h-56zM1008 721h9v9h-9zM719 713h18v8h-18zM747 713h9v8h-9zM1026 713h19v8h-19zM700 704h37v9h-37zM1064 704h9v9h-9z"/>
<path fill="#d7634f" d="M859 772h9v9h-9zM849 755h10v9h-10zM933 755h9v9h-9zM840 747h9v8h-9zM812 738h28v9h-28zM942 738h10v9h-10zM793 730h38v8h-38zM961 730h19v8h-19zM793 721h10v9h-10zM980 721h28v9h-28zM737 713h10v8h-10zM756 713h19v8h-19zM784 713h9v8h-9zM998 713h28v8h-28zM737 704h28v9h-28zM1026 704h38v9h-38zM700 696h56v8h-56zM1036 696h37v8h-37zM700 687h9v9h-9zM719 687h18v9h-18z"/>
<path fill="#dc6e57" d="M868 781h9v9h-9zM840 738h9v9h-9zM803 721h18v9h-18zM970 721h10v9h-10zM775 713h9v8h-9zM793 713h10v8h-10zM989 713h9v8h-9zM765 704h28v9h-28zM1008 704h18v9h-18zM756 696h28v8h-28zM1026 696h10v8h-10zM709 687h10v9h-10zM737 687h10v9h-10zM1054 687h19v9h-19zM700 679h37v8h-37z"/>
<path fill="#e17860" d="M877 781h9v9h-9zM868 772h9v9h-9zM914 772h10v9h-10zM859 764h9v8h-9zM914 764h19v8h-19zM859 755h9v9h-9zM849 747h10v8h-10zM933 747h9v8h-9zM849 738h10v9h-10zM831 730h18v8h-18zM952 730h9v8h-9zM821 721h10v9h-10zM961 721h9v9h-9zM803 713h9v8h-9zM980 713h9v8h-9zM793 704h10v9h-10zM989 704h19v9h-19zM784 696h9v8h-9zM1017 696h9v8h-9zM747 687h28v9h-28zM1026 687h28v9h-28zM737 679h10v8h-10zM1054 679h19v8h-19zM700 670h37v9h-37zM700 662h19v8h-19z"/>
<path fill="#e6866a" d="M924 755h9v9h-9zM942 730h10v8h-10zM812 713h9v8h-9zM970 713h10v8h-10zM803 704h18v9h-18zM980 704h9v9h-9zM793 696h10v8h-10zM1008 696h9v8h-9zM775 687h9v9h-9zM1017 687h9v9h-9zM747 679h28v8h-28zM1036 679h18v8h-18zM737 670h10v9h-10zM1064 670h9v9h-9zM719 662h18v8h-18zM700 653h9v9h-9z"/>
<path fill="#eb9172" d="M877 772h9v9h-9zM868 764h9v8h-9zM859 747h9v8h-9zM933 738h9v9h-9zM849 730h10v8h-10zM831 721h18v9h-18zM952 721h9v9h-9zM821 713h19v8h-19zM961 713h9v8h-9zM970 704h10v9h-10zM803 696h9v8h-9zM989 696h19v8h-19zM784 687h28v9h-28zM1008 687h9v9h-9zM775 679h28v8h-28zM1017 679h19v8h-19zM747 670h28v9h-28zM1026 670h38v9h-38zM737 662h28v8h-28zM1064 662h9v8h-9zM709 653h28v9h-28zM747 653h9v9h-9zM700 645h19v8h-19zM728 645h9v8h-9zM700 636h9v9h-9z"/>
<path fill="#f09c7b" d="M868 755h9v9h-9zM849 721h10v9h-10zM942 721h10v9h-10zM840 713h9v8h-9zM952 713h9v8h-9zM821 704h19v9h-19zM961 704h9v9h-9zM812 696h19v8h-19zM970 696h19v8h-19zM812 687h9v9h-9zM989 687h19v9h-19zM803 679h9v8h-9zM998 679h19v8h-19zM784 670h9v9h-9zM1017 670h9v9h-9zM765 662h10v8h-10zM1036 662h28v8h-28zM737 653h10v9h-10zM756 653h9v9h-9zM1064 653h9v9h-9zM719 645h9v8h-9zM737 645h28v8h-28zM709 636h19v9h-19zM700 628h28v8h-28zM700 619h19v9h-19z"/>
<path fill="#f4a683" d="M877 764h9v8h-9zM924 747h9v8h-9zM859 738h9v9h-9zM859 730h9v8h-9zM933 730h9v8h-9zM942 713h10v8h-10zM831 696h9v8h-9zM821 687h10v9h-10zM980 687h9v9h-9zM812 679h9v8h-9zM989 679h9v8h-9zM775 670h9v9h-9zM793 670h10v9h-10zM1008 670h9v9h-9zM775 662h18v8h-18zM1026 662h10v8h-10zM765 653h19v9h-19zM1054 653h10v9h-10zM728 636h19v9h-19zM728 628h9v8h-9zM719 619h9v9h-9zM700 611h9v8h-9z"/>
<path fill="#f6af8e" d="M914 755h10v9h-10zM868 747h9v8h-9zM924 738h9v9h-9zM849 713h10v8h-10zM840 704h9v9h-9zM952 704h9v9h-9zM961 696h9v8h-9zM831 687h9v9h-9zM803 670h9v9h-9zM998 670h10v9h-10zM793 662h10v8h-10zM1017 662h9v8h-9zM1036 653h18v9h-18zM765 645h10v8h-10zM1054 645h19v8h-19zM747 636h9v9h-9zM737 628h19v8h-19zM728 619h9v9h-9zM709 611h10v8h-10zM728 611h9v8h-9zM700 602h9v9h-9z"/>
<path fill="#f7b799" d="M868 738h9v9h-9zM859 721h9v9h-9zM849 704h10v9h-10zM840 696h9v8h-9zM970 687h10v9h-10zM821 679h10v8h-10zM812 670h9v9h-9zM803 662h9v8h-9zM784 653h19v9h-19zM1026 653h10v9h-10zM775 645h9v8h-9zM1045 645h9v8h-9zM756 636h19v9h-19zM756 628h9v8h-9zM747 619h9v9h-9zM719 611h9v8h-9zM737 611h10v8h-10zM709 602h19v9h-19zM700 594h9v8h-9z"/>
<path fill="#f8bfa4" d="M877 755h9v9h-9zM877 747h9v8h-9zM933 721h9v9h-9zM980 679h9v8h-9zM989 670h9v9h-9zM812 662h9v8h-9zM1008 662h9v8h-9zM1017 653h9v9h-9zM784 645h9v8h-9zM1036 645h9v8h-9zM775 636h9v9h-9zM1054 636h19v9h-19zM765 628h10v8h-10zM737 619h10v9h-10zM756 619h9v9h-9zM747 611h9v8h-9zM728 602h9v9h-9zM709 594h10v8h-10zM700 585h19v9h-19z"/>
<path fill="#fac8af" d="M868 730h9v8h-9zM859 713h9v8h-9zM942 704h10v9h-10zM840 687h9v9h-9zM961 687h9v9h-9zM831 679h9v8h-9zM821 670h10v9h-10zM998 662h10v8h-10zM803 653h9v9h-9zM1008 653h9v9h-9zM793 645h10v8h-10zM1026 645h10v8h-10zM784 636h9v9h-9zM1045 636h9v9h-9zM1054 628h19v8h-19zM719 594h18v8h-18zM700 577h9v8h-9z"/>
<path fill="#fbd0b9" d="M849 696h10v8h-10zM952 696h9v8h-9zM970 679h10v8h-10zM980 670h9v9h-9zM803 645h9v8h-9zM1017 645h9v8h-9zM1036 636h9v9h-9zM775 628h9v8h-9zM765 619h10v9h-10zM756 611h9v8h-9zM737 602h19v9h-19zM737 594h10v8h-10zM719 585h18v9h-18zM709 577h10v8h-10zM700 568h9v9h-9z"/>
<path fill="#fdd9c4" d="M886 781h10v9h-10zM877 738h9v9h-9zM924 730h9v8h-9zM933 713h9v8h-9zM859 704h9v9h-9zM840 679h9v8h-9zM831 670h9v9h-9zM821 662h10v8h-10zM989 662h9v8h-9zM812 653h9v9h-9zM793 636h10v9h-10zM1026 636h10v9h-10zM784 628h9v8h-9zM1036 628h18v8h-18zM775 619h9v9h-9zM1064 619h9v9h-9zM765 611h10v8h-10zM756 602h9v9h-9zM709 568h10v9h-10zM700 560h9v8h-9z"/>
<path fill="#fcdecd" d="M914 738h10v9h-10zM868 721h9v9h-9zM849 687h10v9h-10zM961 679h9v8h-9zM970 670h10v9h-10zM821 653h10v9h-10zM998 653h10v9h-10zM1008 645h9v8h-9zM803 636h9v9h-9zM793 628h10v8h-10zM1054 619h10v9h-10zM775 611h9v8h-9zM747 594h18v8h-18zM737 585h19v9h-19zM719 577h18v8h-18zM719 568h9v9h-9zM700 551h9v9h-9z"/>
<path fill="#fbe3d4" d="M896 781h18v9h-18zM886 772h10v9h-10zM914 747h10v8h-10zM942 696h10v8h-10zM952 687h9v9h-9zM831 662h9v8h-9zM989 653h9v9h-9zM812 645h9v8h-9zM998 645h10v8h-10zM1017 636h9v9h-9zM1026 628h10v8h-10zM784 619h9v9h-9zM1045 619h9v9h-9zM1064 611h9v8h-9zM765 602h10v9h-10zM737 577h10v8h-10zM728 568h9v9h-9zM709 560h19v8h-19z"/>
<path fill="#fae7dc" d="M924 721h9v9h-9zM868 713h9v8h-9zM859 696h9v8h-9zM840 670h9v9h-9zM980 662h9v8h-9zM821 645h10v8h-10zM812 636h9v9h-9zM1008 636h9v9h-9zM803 628h9v8h-9zM793 619h10v9h-10zM1036 619h9v9h-9zM784 611h9v8h-9zM1054 611h10v8h-10zM775 602h9v9h-9zM765 594h10v8h-10zM747 577h9v8h-9zM737 568h10v9h-10zM728 560h9v8h-9zM709 551h10v9h-10zM700 543h9v8h-9z"/>
<path fill="#f9ebe3" d="M905 772h9v9h-9zM886 764h19v8h-19zM877 730h9v8h-9zM933 704h9v9h-9zM849 679h10v8h-10zM831 653h9v9h-9zM1017 628h9v8h-9zM1045 611h9v8h-9zM784 602h9v9h-9zM1064 602h9v9h-9zM756 585h9v9h-9zM719 551h9v9h-9zM709 543h10v8h-10z"/>
<path fill="#f9f0eb" d="M896 772h9v9h-9zM952 679h9v8h-9zM961 670h9v9h-9zM840 662h9v8h-9zM970 662h10v8h-10zM980 653h9v9h-9zM989 645h9v8h-9zM812 628h9v8h-9zM803 619h9v9h-9zM1026 619h10v9h-10zM793 611h10v8h-10zM1054 602h10v9h-10zM775 594h9v8h-9zM765 585h10v9h-10zM756 577h9v8h-9zM747 568h9v9h-9zM728 551h9v9h-9zM719 543h9v8h-9zM700 534h19v9h-19z"/>
<path fill="#f8f4f2" d="M877 721h9v9h-9zM868 704h9v9h-9zM942 687h10v9h-10zM831 645h9v8h-9zM821 636h10v9h-10zM998 636h10v9h-10zM1008 628h9v8h-9zM1036 611h9v8h-9zM1054 594h19v8h-19zM765 577h10v8h-10zM737 560h19v8h-19zM737 551h10v9h-10zM700 526h19v8h-19z"/>
<path fill="#f3f5f6" d="M886 755h10v9h-10zM886 747h10v8h-10zM924 713h9v8h-9zM859 687h9v9h-9zM849 670h10v9h-10zM961 662h9v8h-9zM1017 619h9v9h-9zM803 611h9v8h-9zM1026 611h10v8h-10zM793 602h10v9h-10zM1045 602h9v9h-9zM784 594h9v8h-9zM775 585h9v9h-9zM756 568h9v9h-9zM728 543h9v8h-9zM719 534h18v9h-18zM700 517h9v9h-9z"/>
<path fill="#edf2f5" d="M933 696h9v8h-9zM952 670h9v9h-9zM970 653h10v9h-10zM980 645h9v8h-9zM989 636h9v9h-9zM821 628h10v8h-10zM998 628h10v8h-10zM812 619h9v9h-9zM1008 619h9v9h-9zM1017 611h9v8h-9zM1036 602h9v9h-9zM1045 594h9v8h-9zM784 585h9v9h-9zM1064 585h9v9h-9zM775 577h9v8h-9zM765 568h10v9h-10zM756 560h9v8h-9zM737 543h10v8h-10zM719 526h18v8h-18zM709 517h10v9h-10zM700 509h9v8h-9z"/>
<path fill="#e7f0f4" d="M905 764h9v8h-9zM868 696h9v8h-9zM859 679h9v8h-9zM942 679h10v8h-10zM840 653h9v9h-9zM831 636h9v9h-9zM998 619h10v9h-10zM803 602h9v9h-9zM1026 602h10v9h-10zM793 594h10v8h-10zM1036 594h9v8h-9zM1045 585h19v9h-19zM1064 577h9v8h-9zM765 560h10v8h-10zM747 551h18v9h-18zM747 543h9v8h-9zM737 534h10v9h-10zM700 500h9v9h-9z"/>
<path fill="#e1edf3" d="M896 747h9v8h-9zM886 738h10v9h-10zM886 730h10v8h-10zM877 713h9v8h-9zM849 662h10v8h-10zM840 645h9v8h-9zM970 645h10v8h-10zM980 636h9v9h-9zM989 628h9v8h-9zM821 619h10v9h-10zM812 611h9v8h-9zM1008 611h9v8h-9zM1036 585h9v9h-9zM784 577h9v8h-9zM1054 577h10v8h-10zM775 568h9v9h-9zM756 543h9v8h-9zM719 517h9v9h-9zM709 509h10v8h-10zM709 500h10v9h-10zM700 492h9v8h-9z"/>
<path fill="#dbeaf2" d="M896 755h9v9h-9zM886 721h10v9h-10zM924 704h9v9h-9zM933 687h9v9h-9zM961 653h9v9h-9zM831 628h9v8h-9zM812 602h9v9h-9zM1017 602h9v9h-9zM803 594h9v8h-9zM1026 594h10v8h-10zM793 585h10v9h-10zM784 568h9v9h-9zM1064 568h9v9h-9zM765 551h10v9h-10zM747 534h9v9h-9zM737 526h10v8h-10zM728 517h19v9h-19zM719 509h18v8h-18z"/>
<path fill="#d5e7f1" d="M905 755h9v9h-9zM896 738h9v9h-9zM896 730h9v8h-9zM914 730h10v8h-10zM914 721h10v9h-10zM886 713h10v8h-10zM868 687h9v9h-9zM859 670h9v9h-9zM942 670h10v9h-10zM952 662h9v8h-9zM849 653h10v9h-10zM980 628h9v8h-9zM998 611h10v8h-10zM1017 594h9v8h-9zM1026 585h10v9h-10zM793 577h10v8h-10zM1045 577h9v8h-9zM1054 568h10v9h-10zM775 560h9v8h-9zM765 543h10v8h-10zM756 534h9v9h-9zM747 526h9v8h-9zM719 500h9v9h-9zM709 492h10v8h-10zM700 483h9v9h-9z"/>
<path fill="#cfe4ef" d="M924 696h9v8h-9zM840 636h9v9h-9zM970 636h10v9h-10zM989 619h9v9h-9zM821 611h10v8h-10zM1008 602h9v9h-9zM803 585h9v9h-9zM1036 577h9v8h-9zM1045 568h9v9h-9zM1054 560h19v8h-19zM775 551h9v9h-9zM728 500h9v9h-9zM719 492h9v8h-9zM709 483h10v9h-10zM700 475h9v8h-9z"/>
<path fill="#c5dfec" d="M896 721h9v9h-9zM877 704h19v9h-19zM933 679h9v8h-9zM961 645h9v8h-9zM831 619h9v9h-9zM998 602h10v9h-10zM812 594h9v8h-9zM1008 594h9v8h-9zM1017 585h9v9h-9zM1026 577h10v8h-10zM1036 568h9v9h-9zM784 560h9v8h-9zM1064 551h9v9h-9zM775 543h9v8h-9zM765 534h10v9h-10zM756 526h9v8h-9zM747 517h9v9h-9zM737 509h10v8h-10zM737 500h10v9h-10zM728 492h9v8h-9zM719 483h9v9h-9zM709 475h10v8h-10zM700 466h9v9h-9z"/>
<path fill="#bbdaea" d="M886 696h10v8h-10zM868 679h9v8h-9zM859 662h9v8h-9zM952 653h9v9h-9zM849 645h10v8h-10zM980 619h9v9h-9zM989 611h9v8h-9zM821 602h10v9h-10zM803 577h9v8h-9zM793 568h10v9h-10zM1045 560h9v8h-9zM784 551h9v9h-9zM1054 551h10v9h-10zM1064 543h9v8h-9zM747 509h9v8h-9zM719 475h9v8h-9zM709 466h10v9h-10zM700 458h9v8h-9z"/>
<path fill="#b1d5e7" d="M942 662h10v8h-10zM840 628h9v8h-9zM970 628h10v8h-10zM831 611h9v8h-9zM998 594h10v8h-10zM812 585h9v9h-9zM1017 577h9v8h-9zM1026 568h10v9h-10zM1036 560h9v8h-9zM1045 551h9v9h-9zM1054 543h10v8h-10zM765 526h10v8h-10zM756 517h9v9h-9zM737 492h10v8h-10zM728 483h9v9h-9zM709 458h10v8h-10z"/>
<path fill="#a7d0e4" d="M905 747h9v8h-9zM896 713h9v8h-9zM877 696h9v8h-9zM886 687h10v9h-10zM961 636h9v9h-9zM980 611h9v8h-9zM989 602h9v9h-9zM821 594h10v8h-10zM1008 585h9v9h-9zM793 560h10v8h-10zM784 543h9v8h-9zM775 534h9v9h-9zM1064 534h9v9h-9zM756 509h9v8h-9zM747 500h9v9h-9zM737 483h10v9h-10zM728 475h9v8h-9zM719 466h9v9h-9zM700 449h9v9h-9z"/>
<path fill="#9dcbe1" d="M877 687h9v9h-9zM924 687h9v9h-9zM886 670h10v9h-10zM933 670h9v9h-9zM859 653h9v9h-9zM952 645h9v8h-9zM831 602h9v9h-9zM1008 577h9v8h-9zM803 568h9v9h-9zM1017 568h9v9h-9zM1026 560h10v8h-10zM793 551h10v9h-10zM1036 551h9v9h-9zM1045 543h9v8h-9zM1054 534h10v9h-10zM765 517h10v9h-10zM747 492h9v8h-9zM709 449h10v9h-10z"/>
<path fill="#93c6de" d="M914 713h10v8h-10zM896 704h9v9h-9zM886 679h10v8h-10zM868 670h9v9h-9zM942 653h10v9h-10zM849 636h10v9h-10zM840 619h9v9h-9zM998 585h10v9h-10zM812 577h9v8h-9zM1036 543h9v8h-9zM775 526h9v8h-9zM1064 526h9v8h-9zM765 509h10v8h-10zM756 500h9v9h-9zM728 466h9v9h-9zM719 458h9v8h-9z"/>
<path fill="#87beda" d="M905 738h9v9h-9zM970 619h10v9h-10zM989 594h9v8h-9zM821 585h10v9h-10zM803 560h9v8h-9zM1026 551h10v9h-10zM793 543h10v8h-10zM784 534h9v9h-9zM1045 534h9v9h-9zM1054 526h10v8h-10zM1064 517h9v9h-9zM747 483h9v9h-9zM737 475h10v8h-10zM728 458h9v8h-9zM719 449h9v9h-9z"/>
<path fill="#7bb6d6" d="M924 679h9v8h-9zM933 662h9v8h-9zM849 628h10v8h-10zM961 628h9v8h-9zM980 602h9v9h-9zM998 577h10v8h-10zM812 568h9v9h-9zM1008 568h9v9h-9zM1017 560h9v8h-9zM775 517h9v9h-9zM1054 517h10v9h-10zM1064 509h9v8h-9zM756 492h9v8h-9zM737 466h10v9h-10z"/>
<path fill="#6eaed2" d="M896 696h9v8h-9zM886 662h10v8h-10zM859 645h9v8h-9zM952 636h9v9h-9zM840 611h9v8h-9zM831 594h9v8h-9zM989 585h9v9h-9zM821 577h10v8h-10zM803 551h9v9h-9zM1026 543h10v8h-10zM1036 534h9v9h-9zM784 526h9v8h-9zM1045 526h9v8h-9zM775 509h9v8h-9zM765 500h10v9h-10zM756 483h9v9h-9zM747 475h9v8h-9zM737 458h10v8h-10zM728 449h9v9h-9z"/>
<path fill="#5fa5cd" d="M914 704h10v9h-10zM868 662h9v8h-9zM942 645h10v8h-10zM970 611h10v8h-10zM831 585h9v9h-9zM1008 560h9v8h-9zM1017 551h9v9h-9zM793 534h10v9h-10zM1036 526h9v8h-9zM784 517h9v9h-9zM1045 517h9v9h-9zM1054 509h10v8h-10zM1064 500h9v9h-9zM765 492h10v8h-10zM747 466h9v9h-9z"/>
<path fill="#529dc8" d="M896 687h9v9h-9zM924 670h9v9h-9zM886 653h10v9h-10zM849 619h10v9h-10zM961 619h9v9h-9zM840 602h9v9h-9zM980 594h9v8h-9zM998 568h10v9h-10zM812 560h9v8h-9zM803 543h9v8h-9zM1026 534h10v9h-10zM793 526h10v8h-10zM1045 509h9v8h-9zM775 500h9v9h-9zM756 475h9v8h-9zM747 458h9v8h-9zM737 449h10v9h-10z"/>
<path fill="#4695c4" d="M905 730h9v8h-9zM877 679h9v8h-9zM877 670h9v9h-9zM933 653h9v9h-9zM859 636h9v9h-9zM942 636h10v9h-10zM952 628h9v8h-9zM970 602h10v9h-10zM821 568h10v9h-10zM812 551h9v9h-9zM1008 551h9v9h-9zM1017 543h9v8h-9zM803 534h9v9h-9zM1026 526h10v8h-10zM784 509h9v8h-9zM1054 500h10v9h-10zM1064 492h9v8h-9zM765 483h10v9h-10zM756 466h9v9h-9zM747 449h9v9h-9z"/>
<path fill="#3f8ec0" d="M905 721h9v9h-9zM914 696h10v8h-10zM896 679h9v8h-9zM886 645h10v8h-10zM840 594h9v8h-9zM980 585h9v9h-9zM989 577h9v8h-9zM998 560h10v8h-10zM1008 543h9v8h-9zM1017 534h9v9h-9zM793 517h10v9h-10zM1036 517h9v9h-9zM784 500h9v9h-9zM1045 500h9v9h-9zM775 492h9v8h-9zM1045 492h19v8h-19zM1064 483h9v9h-9zM765 475h10v8h-10zM1064 475h9v8h-9z"/>
<path fill="#3a87bd" d="M896 670h9v9h-9zM924 662h9v8h-9zM868 653h9v9h-9zM859 628h9v8h-9zM849 611h10v8h-10zM961 611h9v8h-9zM970 594h10v8h-10zM831 577h9v8h-9zM989 568h9v9h-9zM821 560h10v8h-10zM998 551h10v9h-10zM812 543h9v8h-9zM803 526h9v8h-9zM1017 526h9v8h-9zM1026 517h10v9h-10zM793 509h10v8h-10zM1036 509h9v8h-9zM775 483h9v9h-9zM1054 483h10v9h-10zM765 466h10v9h-10zM756 458h9v8h-9zM756 449h9v9h-9z"/>
<path fill="#3480b9" d="M905 713h9v8h-9zM914 687h10v9h-10zM877 662h9v8h-9zM868 645h9v8h-9zM933 645h9v8h-9zM942 628h10v8h-10zM952 619h9v9h-9zM961 602h9v9h-9zM840 585h9v9h-9zM980 577h9v8h-9zM831 568h9v9h-9zM989 560h9v8h-9zM821 551h10v9h-10zM998 543h10v8h-10zM812 534h9v9h-9zM1008 534h9v9h-9zM803 517h9v9h-9zM1017 517h9v9h-9zM1026 509h10v8h-10zM793 500h10v9h-10zM1036 500h9v9h-9zM784 492h9v8h-9zM1036 492h9v8h-9zM784 483h9v9h-9zM1045 483h9v9h-9zM775 475h9v8h-9zM1054 475h10v8h-10zM775 466h9v9h-9zM1064 466h9v9h-9zM765 458h10v8h-10zM1064 458h9v8h-9z"/>
<path fill="#2f79b5" d="M924 653h9v9h-9zM933 636h9v9h-9zM859 619h9v9h-9zM942 619h10v9h-10zM952 611h9v8h-9zM849 602h10v9h-10zM970 585h10v9h-10zM980 568h9v9h-9zM831 560h9v8h-9zM989 551h9v9h-9zM821 543h10v8h-10zM998 534h10v9h-10zM812 526h9v8h-9zM1008 526h9v8h-9zM803 509h9v8h-9zM1017 509h9v8h-9zM1026 500h10v9h-10zM1026 492h10v8h-10zM1036 483h9v9h-9zM1045 475h9v8h-9zM1045 466h19v9h-19zM1054 458h10v8h-10zM765 449h10v9h-10zM1064 449h9v9h-9z"/>
<path fill="#2a71b2" d="M905 704h9v9h-9zM896 662h9v8h-9zM924 645h9v8h-9zM868 636h9v9h-9zM886 628h10v8h-10zM952 602h9v9h-9zM849 594h10v8h-10zM961 594h9v8h-9zM840 577h9v8h-9zM970 577h10v8h-10zM831 551h9v9h-9zM989 543h9v8h-9zM821 534h10v9h-10zM1008 517h9v9h-9zM1017 500h9v9h-9zM793 492h10v8h-10zM793 483h10v9h-10zM784 475h9v8h-9zM1036 475h9v8h-9zM784 466h9v9h-9zM1036 466h9v9h-9zM775 458h9v8h-9z"/>
<path fill="#246aae" d="M914 679h10v8h-10zM914 670h10v9h-10zM914 662h10v8h-10zM877 653h9v9h-9zM886 636h10v9h-10zM868 628h9v8h-9zM933 628h9v8h-9zM859 611h9v8h-9zM942 611h10v8h-10zM849 585h10v9h-10zM840 568h9v9h-9zM980 560h9v8h-9zM989 534h9v9h-9zM821 526h10v8h-10zM998 526h10v8h-10zM812 517h9v9h-9zM1008 509h9v8h-9zM803 500h9v9h-9zM803 492h9v8h-9zM1017 492h9v8h-9zM1026 483h10v9h-10zM793 475h10v8h-10zM1045 458h9v8h-9zM775 449h9v9h-9zM1054 449h10v9h-10z"/>
<path fill="#1f63a8" d="M905 696h9v8h-9zM896 653h9v9h-9zM914 653h10v9h-10zM877 645h9v8h-9zM924 636h9v9h-9zM886 619h10v9h-10zM933 619h9v9h-9zM859 602h9v9h-9zM961 585h9v9h-9zM849 577h10v8h-10zM970 568h10v9h-10zM840 560h9v8h-9zM980 551h9v9h-9zM831 543h9v8h-9zM998 517h10v9h-10zM812 509h9v8h-9zM812 500h9v9h-9zM1008 500h9v9h-9zM803 483h9v9h-9zM1026 475h10v8h-10zM793 466h10v9h-10zM1026 466h10v9h-10zM784 458h9v8h-9zM1036 458h9v8h-9zM784 449h9v9h-9zM1036 449h18v9h-18z"/>
<path fill="#1b5a9c" d="M905 687h9v9h-9zM896 645h9v8h-9zM877 636h9v9h-9zM924 628h9v8h-9zM868 619h9v9h-9zM886 611h10v8h-10zM942 602h10v9h-10zM859 594h9v8h-9zM952 594h9v8h-9zM961 577h9v8h-9zM970 560h10v8h-10zM840 551h9v9h-9zM980 543h9v8h-9zM831 534h9v9h-9zM989 526h9v8h-9zM821 517h10v9h-10zM998 509h10v8h-10zM812 492h9v8h-9zM1008 492h9v8h-9zM1008 483h18v9h-18zM803 475h9v8h-9zM1017 475h9v8h-9zM803 466h9v9h-9zM793 458h10v8h-10zM1026 458h10v8h-10z"/>
<path fill="#175290" d="M905 679h9v8h-9zM914 645h10v8h-10zM896 636h9v9h-9zM924 619h9v9h-9zM868 611h9v8h-9zM933 611h9v8h-9zM886 602h10v9h-10zM859 585h9v9h-9zM952 585h9v9h-9zM849 568h10v9h-10zM961 568h9v9h-9zM970 551h10v9h-10zM840 543h9v8h-9zM980 534h9v9h-9zM831 526h9v8h-9zM831 517h9v9h-9zM989 517h9v9h-9zM821 509h10v8h-10zM821 500h10v9h-10zM998 500h10v9h-10zM998 492h10v8h-10zM812 483h9v9h-9zM812 475h9v8h-9zM1017 466h9v9h-9zM1017 458h9v8h-9zM793 449h10v9h-10zM1026 449h10v9h-10z"/>
<path fill="#124984" d="M905 670h9v9h-9zM914 636h10v9h-10zM877 628h9v8h-9zM896 628h9v8h-9zM914 628h10v8h-10zM877 619h9v9h-9zM924 611h9v8h-9zM868 602h9v9h-9zM933 602h9v9h-9zM868 594h9v8h-9zM886 594h10v8h-10zM942 594h10v8h-10zM942 585h10v9h-10zM859 577h9v8h-9zM942 577h19v8h-19zM849 560h10v8h-10zM961 560h9v8h-9zM849 551h10v9h-10zM849 543h10v8h-10zM970 543h10v8h-10zM840 534h9v9h-9zM970 534h10v9h-10zM840 526h9v8h-9zM980 526h9v8h-9zM980 517h9v9h-9zM831 509h9v8h-9zM989 509h9v8h-9zM831 500h9v9h-9zM989 500h9v9h-9zM821 492h10v8h-10zM821 483h10v9h-10zM998 483h10v9h-10zM998 475h19v8h-19zM812 466h9v9h-9zM1008 466h9v9h-9zM803 458h9v8h-9zM1008 458h9v8h-9zM803 449h9v9h-9zM1017 449h9v9h-9z"/>
<path fill="#0e4179" d="M905 662h9v8h-9zM905 653h9v9h-9zM914 619h10v9h-10zM877 611h9v8h-9zM877 602h9v9h-9zM924 602h9v9h-9zM933 594h9v8h-9zM868 585h9v9h-9zM933 585h9v9h-9zM859 568h9v9h-9zM942 568h19v9h-19zM859 560h9v8h-9zM952 560h9v8h-9zM859 551h9v9h-9zM961 551h9v9h-9zM961 543h9v8h-9zM849 534h10v9h-10zM970 526h10v8h-10zM840 517h9v9h-9zM970 517h10v9h-10zM840 509h9v8h-9zM980 509h9v8h-9zM980 500h9v9h-9zM831 492h9v8h-9zM989 492h9v8h-9zM831 483h9v9h-9zM989 483h9v9h-9zM821 475h10v8h-10zM821 466h10v9h-10zM998 466h10v9h-10zM812 458h19v8h-19zM998 458h10v8h-10zM812 449h9v9h-9zM998 449h19v9h-19z"/>
<path fill="#09386d" d="M905 645h9v8h-9zM905 636h9v9h-9zM905 628h9v8h-9zM896 619h18v9h-18zM896 611h28v8h-28zM896 602h28v9h-28zM877 594h9v8h-9zM896 594h37v8h-37zM877 585h56v9h-56zM868 577h74v8h-74zM868 568h74v9h-74zM868 560h84v8h-84zM868 551h93v9h-93zM859 543h102v8h-102zM859 534h111v9h-111zM849 526h121v8h-121zM849 517h121v9h-121zM849 509h131v8h-131zM840 500h140v9h-140zM840 492h149v8h-149zM840 483h149v9h-149zM831 475h167v8h-167zM831 466h167v9h-167zM831 458h167v8h-167zM821 449h177v9h-177z"/>
</g>
<rect x="700.0" y="449.3" width="373.0" height="340.2" fill="none" stroke="#000" stroke-width="2"/><path d="M700.0 790.5v3.8M793.2 790.5v3.8M886.5 790.5v3.8M979.8 790.5v3.8M1073.0 790.5v3.8M699.0 534.4h-3.8M699.0 619.4h-3.8M699.0 789.5h-3.8" stroke="#222" stroke-width="0.9" fill="none"/>
<g shape-rendering="crispEdges">
<path fill="#67001f" d="M641 1154h9v9h-9z"/>
<path fill="#730421" d="M604 1154h9v9h-9zM622 1154h19v9h-19zM650 1154h19v9h-19zM641 1146h19v8h-19z"/>
<path fill="#7f0823" d="M585 1154h19v9h-19zM613 1154h9v9h-9zM613 1146h9v8h-9zM632 1146h9v8h-9zM660 1146h9v8h-9zM650 1137h10v9h-10z"/>
<path fill="#8a0b25" d="M557 1154h28v9h-28zM576 1146h37v8h-37zM622 1146h10v8h-10zM622 1137h28v9h-28zM660 1137h9v9h-9zM660 1129h9v8h-9z"/>
<path fill="#960f27" d="M296 1154h9v9h-9zM548 1154h9v9h-9zM566 1146h10v8h-10zM613 1137h9v9h-9zM641 1129h19v8h-19z"/>
<path fill="#a21328" d="M305 1154h19v9h-19zM343 1154h9v9h-9zM538 1154h10v9h-10zM296 1146h9v8h-9zM557 1146h9v8h-9zM296 1137h9v9h-9zM576 1137h37v9h-37zM622 1129h19v8h-19zM660 1120h9v9h-9z"/>
<path fill="#ae172a" d="M324 1154h9v9h-9zM352 1154h19v9h-19zM305 1146h28v8h-28zM548 1146h9v8h-9zM305 1137h28v9h-28zM566 1137h10v9h-10zM594 1129h28v8h-28zM296 1120h9v9h-9zM622 1120h38v9h-38zM660 1112h9v8h-9z"/>
<path fill="#b61f2e" d="M333 1154h10v9h-10zM529 1154h9v9h-9zM352 1146h9v8h-9zM557 1137h9v9h-9zM296 1129h9v8h-9zM324 1129h9v8h-9zM566 1129h10v8h-10zM305 1120h10v9h-10zM333 1120h10v9h-10zM576 1120h9v9h-9zM604 1120h18v9h-18zM641 1112h19v8h-19zM650 1103h19v9h-19z"/>
<path fill="#bb2a34" d="M371 1154h28v9h-28zM520 1154h9v9h-9zM333 1146h19v8h-19zM361 1146h19v8h-19zM529 1146h19v8h-19zM352 1137h19v9h-19zM548 1137h9v9h-9zM305 1129h19v8h-19zM352 1129h9v8h-9zM576 1129h18v8h-18zM324 1120h9v9h-9zM585 1120h19v9h-19zM296 1112h19v8h-19zM613 1112h28v8h-28zM296 1103h9v9h-9zM622 1103h10v9h-10zM650 1095h19v8h-19z"/>
<path fill="#c13639" d="M399 1154h9v9h-9zM417 1154h10v9h-10zM389 1146h10v8h-10zM333 1137h19v9h-19zM538 1137h10v9h-10zM333 1129h19v8h-19zM557 1129h9v8h-9zM343 1120h9v9h-9zM557 1120h19v9h-19zM324 1112h9v8h-9zM585 1112h9v8h-9zM604 1112h9v8h-9zM305 1103h10v9h-10zM641 1103h9v9h-9zM305 1095h10v8h-10zM632 1095h18v8h-18zM660 1086h9v9h-9z"/>
<path fill="#c6413e" d="M408 1154h9v9h-9zM510 1154h10v9h-10zM380 1146h9v8h-9zM417 1146h10v8h-10zM520 1146h9v8h-9zM371 1137h18v9h-18zM361 1129h10v8h-10zM538 1129h19v8h-19zM315 1120h9v9h-9zM361 1120h10v9h-10zM315 1112h9v8h-9zM333 1112h10v8h-10zM352 1112h9v8h-9zM576 1112h9v8h-9zM594 1112h10v8h-10zM315 1103h18v9h-18zM604 1103h18v9h-18zM632 1103h9v9h-9zM613 1095h9v8h-9zM296 1086h9v9h-9zM315 1086h9v9h-9zM641 1086h19v9h-19z"/>
<path fill="#cc4c44" d="M427 1154h9v9h-9zM399 1146h18v8h-18zM389 1137h10v9h-10zM408 1137h19v9h-19zM529 1137h9v9h-9zM371 1129h9v8h-9zM399 1129h9v8h-9zM352 1120h9v9h-9zM548 1120h9v9h-9zM343 1112h9v8h-9zM557 1112h9v8h-9zM333 1103h10v9h-10zM576 1103h9v9h-9zM296 1095h9v8h-9zM315 1095h9v8h-9zM333 1095h10v8h-10zM604 1086h9v9h-9zM622 1086h19v9h-19zM315 1078h9v8h-9zM641 1078h9v8h-9zM660 1078h9v8h-9zM315 1069h9v9h-9zM660 1069h9v9h-9z"/>
<path fill="#d25849" d="M492 1154h9v9h-9zM427 1146h9v8h-9zM501 1146h19v8h-19zM520 1137h9v9h-9zM380 1129h19v8h-19zM408 1129h9v8h-9zM380 1120h19v9h-19zM361 1112h10v8h-10zM566 1112h10v8h-10zM343 1103h28v9h-28zM585 1103h19v9h-19zM324 1095h9v8h-9zM604 1095h9v8h-9zM622 1095h10v8h-10zM305 1086h10v9h-10zM343 1086h9v9h-9zM613 1086h9v9h-9zM305 1078h10v8h-10zM622 1078h19v8h-19zM296 1069h9v9h-9zM650 1069h10v9h-10zM305 1061h10v8h-10z"/>
<path fill="#d7634f" d="M436 1154h9v9h-9zM501 1154h9v9h-9zM399 1137h9v9h-9zM427 1137h9v9h-9zM529 1129h9v8h-9zM371 1120h9v9h-9zM399 1120h18v9h-18zM529 1120h9v9h-9zM371 1112h9v8h-9zM389 1112h10v8h-10zM548 1112h9v8h-9zM371 1103h9v9h-9zM343 1095h18v8h-18zM371 1095h9v8h-9zM576 1095h9v8h-9zM594 1095h10v8h-10zM324 1086h19v9h-19zM352 1086h9v9h-9zM576 1086h18v9h-18zM296 1078h9v8h-9zM324 1078h19v8h-19zM613 1078h9v8h-9zM650 1078h10v8h-10zM305 1069h10v9h-10zM641 1069h9v9h-9zM296 1061h9v8h-9zM641 1061h19v8h-19zM296 1052h28v9h-28z"/>
<path fill="#dc6e57" d="M417 1129h10v8h-10zM417 1120h10v9h-10zM538 1120h10v9h-10zM399 1112h18v8h-18zM380 1103h19v9h-19zM557 1103h19v9h-19zM361 1095h10v8h-10zM585 1095h9v8h-9zM361 1086h10v9h-10zM594 1086h10v9h-10zM343 1078h18v8h-18zM594 1078h19v8h-19zM324 1069h19v9h-19zM604 1069h9v9h-9zM632 1069h9v9h-9zM324 1061h19v8h-19zM622 1061h10v8h-10zM660 1061h9v8h-9zM641 1052h28v9h-28zM660 1044h9v8h-9zM315 1035h9v9h-9zM296 1027h9v8h-9zM315 1018h9v9h-9z"/>
<path fill="#e17860" d="M436 1146h9v8h-9zM510 1137h10v9h-10zM427 1129h9v8h-9zM520 1129h9v8h-9zM380 1112h9v8h-9zM417 1112h10v8h-10zM529 1112h9v8h-9zM538 1103h10v9h-10zM380 1095h19v8h-19zM557 1095h19v8h-19zM371 1086h18v9h-18zM557 1086h9v9h-9zM585 1078h9v8h-9zM352 1069h28v9h-28zM613 1069h19v9h-19zM315 1061h9v8h-9zM343 1061h18v8h-18zM632 1061h9v8h-9zM324 1052h19v9h-19zM632 1052h9v9h-9zM296 1044h19v8h-19zM324 1044h19v8h-19zM296 1035h19v9h-19zM660 1035h9v9h-9zM305 1027h10v8h-10zM296 1018h9v9h-9z"/>
<path fill="#e6866a" d="M427 1120h9v9h-9zM520 1120h9v9h-9zM538 1112h10v8h-10zM399 1103h9v9h-9zM548 1103h9v9h-9zM389 1086h10v9h-10zM566 1086h10v9h-10zM361 1078h10v8h-10zM576 1078h9v8h-9zM343 1069h9v9h-9zM594 1069h10v9h-10zM352 1052h9v9h-9zM315 1044h9v8h-9zM650 1044h10v8h-10zM324 1035h28v9h-28zM650 1035h10v9h-10zM315 1027h18v8h-18zM305 1018h10v9h-10zM296 1010h9v8h-9zM296 1001h9v9h-9zM296 976h9v8h-9z"/>
<path fill="#eb9172" d="M436 1137h9v9h-9zM408 1103h9v9h-9zM399 1095h9v8h-9zM548 1095h9v8h-9zM371 1078h18v8h-18zM566 1078h10v8h-10zM380 1069h9v9h-9zM585 1069h9v9h-9zM361 1061h28v8h-28zM594 1061h28v8h-28zM343 1052h9v9h-9zM622 1052h10v9h-10zM343 1044h9v8h-9zM641 1044h9v8h-9zM641 1035h9v9h-9zM333 1027h10v8h-10zM650 1027h19v8h-19zM305 1010h10v8h-10z"/>
<path fill="#f09c7b" d="M445 1154h19v9h-19zM445 1146h19v8h-19zM501 1137h9v9h-9zM427 1112h9v8h-9zM417 1103h10v9h-10zM408 1095h9v8h-9zM538 1095h10v8h-10zM548 1086h9v9h-9zM389 1078h10v8h-10zM566 1069h10v9h-10zM585 1061h9v8h-9zM361 1052h19v9h-19zM594 1052h28v9h-28zM352 1044h19v8h-19zM622 1044h19v8h-19zM361 1035h10v9h-10zM632 1035h9v9h-9zM343 1027h9v8h-9zM641 1027h9v8h-9zM324 1018h9v9h-9zM315 1010h9v8h-9zM305 1001h10v9h-10zM324 1001h9v9h-9zM296 993h19v8h-19zM296 984h9v9h-9z"/>
<path fill="#f4a683" d="M445 1137h10v9h-10zM436 1129h9v8h-9zM510 1129h10v8h-10zM520 1112h9v8h-9zM529 1103h9v9h-9zM417 1095h10v8h-10zM399 1086h18v9h-18zM408 1078h9v8h-9zM548 1078h9v8h-9zM389 1069h10v9h-10zM576 1069h9v9h-9zM576 1061h9v8h-9zM352 1035h9v9h-9zM343 1018h9v9h-9zM660 1018h9v9h-9zM324 1010h9v8h-9zM650 1010h10v8h-10zM315 1001h9v9h-9zM315 993h9v8h-9zM305 984h10v9h-10zM324 984h9v9h-9zM296 967h9v9h-9z"/>
<path fill="#f6af8e" d="M464 1154h9v9h-9zM436 1120h9v9h-9zM436 1112h9v8h-9zM529 1095h9v8h-9zM417 1086h10v9h-10zM399 1078h9v8h-9zM557 1078h9v8h-9zM399 1069h9v9h-9zM371 1044h9v8h-9zM613 1044h9v8h-9zM622 1035h10v9h-10zM352 1027h9v8h-9zM622 1027h19v8h-19zM333 1018h10v9h-10zM352 1018h9v9h-9zM641 1018h19v9h-19zM333 1010h10v8h-10zM343 1001h9v9h-9zM324 993h9v8h-9zM315 984h9v9h-9zM305 976h19v8h-19z"/>
<path fill="#f7b799" d="M445 1129h10v8h-10zM427 1103h9v9h-9zM427 1095h9v8h-9zM557 1069h9v9h-9zM389 1061h19v8h-19zM380 1052h19v9h-19zM585 1052h9v9h-9zM380 1044h9v8h-9zM594 1044h19v8h-19zM371 1035h9v9h-9zM613 1035h9v9h-9zM361 1027h10v8h-10zM343 1010h18v8h-18zM641 1010h9v8h-9zM660 1010h9v8h-9zM333 1001h10v9h-10zM650 1001h10v9h-10zM660 993h9v8h-9zM315 967h9v9h-9zM296 959h9v8h-9zM296 950h19v9h-19zM296 942h9v8h-9z"/>
<path fill="#f8bfa4" d="M520 1103h9v9h-9zM538 1086h10v9h-10zM408 1069h9v9h-9zM566 1061h10v8h-10zM566 1052h19v9h-19zM389 1044h10v8h-10zM585 1044h9v8h-9zM594 1035h10v9h-10zM604 1027h18v8h-18zM632 1018h9v9h-9zM632 1010h9v8h-9zM333 993h10v8h-10zM324 976h9v8h-9zM305 967h10v9h-10zM305 959h10v8h-10z"/>
<path fill="#fac8af" d="M455 1137h9v9h-9zM445 1120h10v9h-10zM436 1103h9v9h-9zM529 1086h9v9h-9zM417 1078h10v8h-10zM538 1078h10v8h-10zM548 1069h9v9h-9zM399 1052h9v9h-9zM380 1035h9v9h-9zM604 1035h9v9h-9zM371 1027h9v8h-9zM361 1018h10v9h-10zM622 1018h10v9h-10zM361 1010h19v8h-19zM622 1010h10v8h-10zM343 993h9v8h-9zM333 976h10v8h-10zM333 967h10v9h-10zM305 942h10v8h-10zM296 933h9v9h-9z"/>
<path fill="#fbd0b9" d="M482 1154h10v9h-10zM455 1129h9v8h-9zM510 1120h10v9h-10zM520 1095h9v8h-9zM417 1069h10v9h-10zM538 1069h10v9h-10zM557 1061h9v8h-9zM566 1044h19v8h-19zM585 1035h9v9h-9zM380 1027h9v8h-9zM371 1018h9v9h-9zM604 1018h9v9h-9zM352 1001h9v9h-9zM632 1001h9v9h-9zM660 1001h9v9h-9zM650 993h10v8h-10zM333 984h10v9h-10zM352 984h9v9h-9zM650 984h10v9h-10zM324 967h9v9h-9zM315 959h18v8h-18zM324 950h9v9h-9zM305 933h10v9h-10zM305 925h10v8h-10z"/>
<path fill="#fdd9c4" d="M464 1137h9v9h-9zM455 1120h9v9h-9zM427 1086h9v9h-9zM427 1078h9v8h-9zM529 1078h9v8h-9zM408 1061h9v8h-9zM408 1052h9v9h-9zM557 1052h9v9h-9zM389 1035h19v9h-19zM585 1027h19v8h-19zM380 1018h9v9h-9zM613 1018h9v9h-9zM361 1001h10v9h-10zM641 1001h9v9h-9zM352 993h9v8h-9zM343 984h9v9h-9zM660 984h9v9h-9zM343 976h9v8h-9zM650 976h19v8h-19zM333 959h10v8h-10zM315 950h9v9h-9zM315 942h9v8h-9zM296 925h9v8h-9z"/>
<path fill="#fcdecd" d="M482 1146h19v8h-19zM482 1137h19v9h-19zM445 1112h10v8h-10zM436 1095h9v8h-9zM538 1061h19v8h-19zM399 1044h18v8h-18zM576 1035h9v9h-9zM389 1027h10v8h-10zM576 1027h9v8h-9zM380 1010h9v8h-9zM622 1001h10v9h-10zM361 993h10v8h-10zM632 993h18v8h-18zM361 984h10v9h-10zM641 984h9v9h-9zM352 976h9v8h-9zM343 967h9v9h-9zM315 925h9v8h-9zM296 916h9v9h-9z"/>
<path fill="#fbe3d4" d="M473 1154h9v9h-9zM464 1146h9v8h-9zM445 1103h10v9h-10zM427 1069h9v9h-9zM417 1061h10v8h-10zM557 1044h9v8h-9zM399 1027h9v8h-9zM389 1018h10v9h-10zM389 1010h10v8h-10zM604 1010h18v8h-18zM371 1001h18v9h-18zM613 1001h9v9h-9zM361 976h10v8h-10zM641 976h9v8h-9zM352 967h9v9h-9zM660 967h9v9h-9zM343 959h9v8h-9zM324 942h19v8h-19zM315 933h9v9h-9zM305 916h19v9h-19zM296 908h28v8h-28zM296 899h9v9h-9zM296 891h9v8h-9z"/>
<path fill="#fae7dc" d="M445 1095h10v8h-10zM436 1086h9v9h-9zM417 1052h10v9h-10zM548 1052h9v9h-9zM408 1035h9v9h-9zM566 1035h10v9h-10zM566 1027h10v8h-10zM585 1018h19v9h-19zM371 993h9v8h-9zM622 993h10v8h-10zM371 984h9v9h-9zM632 976h9v8h-9zM333 950h19v9h-19zM343 942h9v8h-9zM324 933h9v9h-9zM324 925h9v8h-9zM305 899h10v9h-10zM305 891h10v8h-10zM296 882h9v9h-9z"/>
<path fill="#f9ebe3" d="M501 1129h9v8h-9zM520 1086h9v9h-9zM417 1044h10v8h-10zM548 1044h9v8h-9zM557 1035h9v9h-9zM408 1027h9v8h-9zM399 1018h9v9h-9zM576 1018h9v9h-9zM585 1010h19v8h-19zM604 1001h9v9h-9zM613 993h9v8h-9zM632 984h9v9h-9zM371 976h9v8h-9zM361 967h10v9h-10zM632 967h9v9h-9zM650 967h10v9h-10zM660 959h9v8h-9zM333 925h10v8h-10zM324 916h9v9h-9zM315 891h9v8h-9zM296 874h9v8h-9z"/>
<path fill="#f9f0eb" d="M510 1112h10v8h-10zM436 1078h9v8h-9zM520 1078h9v8h-9zM529 1069h9v9h-9zM427 1061h9v8h-9zM538 1052h10v9h-10zM380 993h9v8h-9zM613 984h19v9h-19zM641 967h9v9h-9zM650 959h10v8h-10zM352 942h9v8h-9zM333 933h19v9h-19zM315 899h9v9h-9zM305 882h10v9h-10zM296 865h19v9h-19zM296 857h9v8h-9z"/>
<path fill="#f8f4f2" d="M464 1129h9v8h-9zM501 1120h9v9h-9zM455 1112h9v8h-9zM417 1035h10v9h-10zM557 1027h9v8h-9zM566 1018h10v9h-10zM399 1010h9v8h-9zM389 1001h10v9h-10zM594 1001h10v9h-10zM380 984h9v9h-9zM380 976h9v8h-9zM371 967h9v9h-9zM352 959h28v8h-28zM641 959h9v8h-9zM352 950h9v9h-9zM650 950h19v9h-19zM660 942h9v8h-9zM333 916h10v9h-10z"/>
<path fill="#f3f5f6" d="M510 1095h10v8h-10zM445 1086h10v9h-10zM436 1069h9v9h-9zM427 1052h9v9h-9zM538 1044h10v8h-10zM548 1035h9v9h-9zM408 1018h9v9h-9zM576 1010h9v8h-9zM585 1001h9v9h-9zM389 993h10v8h-10zM594 993h19v8h-19zM352 933h9v9h-9zM333 908h10v8h-10zM324 899h9v9h-9zM324 891h9v8h-9zM315 882h18v9h-18zM305 874h10v8h-10zM296 848h9v9h-9z"/>
<path fill="#edf2f5" d="M482 1129h10v8h-10zM455 1103h9v9h-9zM510 1103h10v9h-10zM520 1069h9v9h-9zM436 1061h9v8h-9zM520 1061h18v8h-18zM417 1027h10v8h-10zM548 1027h9v8h-9zM408 1010h9v8h-9zM399 1001h9v9h-9zM576 1001h9v9h-9zM399 993h9v8h-9zM585 993h9v8h-9zM604 984h9v9h-9zM613 976h19v8h-19zM380 967h9v9h-9zM622 967h10v9h-10zM632 959h9v8h-9zM361 950h10v9h-10zM371 942h9v8h-9zM650 942h10v8h-10zM343 925h9v8h-9zM343 916h9v9h-9zM324 908h9v8h-9zM343 908h9v8h-9zM333 899h10v9h-10zM315 874h9v8h-9zM315 865h9v9h-9zM296 840h9v8h-9zM296 831h9v9h-9z"/>
<path fill="#e7f0f4" d="M445 1078h10v8h-10zM538 1035h10v9h-10zM557 1018h9v9h-9zM557 1010h19v8h-19zM389 984h10v9h-10zM594 984h10v9h-10zM389 976h10v8h-10zM604 976h9v8h-9zM622 959h10v8h-10zM371 950h9v9h-9zM361 942h10v8h-10zM361 933h10v9h-10zM650 933h10v9h-10zM352 925h9v8h-9zM352 916h9v9h-9zM333 891h10v8h-10zM305 857h10v8h-10zM305 848h10v9h-10zM305 831h10v9h-10z"/>
<path fill="#e1edf3" d="M473 1146h9v8h-9zM492 1129h9v8h-9zM501 1112h9v8h-9zM529 1052h9v9h-9zM427 1044h9v8h-9zM529 1044h9v8h-9zM585 984h9v9h-9zM389 967h10v9h-10zM613 967h9v9h-9zM380 959h9v8h-9zM641 950h9v9h-9zM632 942h9v8h-9zM660 933h9v9h-9zM361 925h10v8h-10zM333 882h10v9h-10zM324 874h19v8h-19zM324 865h9v9h-9zM315 857h9v8h-9zM305 840h10v8h-10zM296 823h9v8h-9z"/>
<path fill="#dbeaf2" d="M464 1120h9v9h-9zM510 1086h10v9h-10zM445 1069h10v9h-10zM436 1052h9v9h-9zM427 1035h9v9h-9zM529 1035h9v9h-9zM427 1027h9v8h-9zM538 1027h10v8h-10zM417 1010h10v8h-10zM408 1001h9v9h-9zM557 1001h19v9h-19zM576 993h9v8h-9zM399 984h9v9h-9zM399 976h9v8h-9zM585 976h19v8h-19zM594 967h10v9h-10zM380 950h9v9h-9zM622 950h19v9h-19zM641 942h9v8h-9zM650 925h19v8h-19zM361 916h10v9h-10zM352 908h9v8h-9zM343 899h9v9h-9zM343 891h9v8h-9zM315 848h9v9h-9z"/>
<path fill="#d5e7f1" d="M473 1137h9v9h-9zM417 1018h10v9h-10zM538 1018h19v9h-19zM408 993h9v8h-9zM566 993h10v8h-10zM576 984h9v9h-9zM399 967h9v9h-9zM604 967h9v9h-9zM389 959h10v8h-10zM613 959h9v8h-9zM371 933h9v9h-9zM632 933h18v9h-18zM352 899h9v9h-9zM324 857h19v8h-19zM324 848h9v9h-9zM315 840h9v8h-9zM305 823h19v8h-19z"/>
<path fill="#cfe4ef" d="M455 1095h9v8h-9zM520 1052h9v9h-9zM436 1044h9v8h-9zM548 1010h9v8h-9zM408 984h9v9h-9zM585 967h9v9h-9zM604 950h18v9h-18zM380 942h9v8h-9zM380 933h9v9h-9zM371 925h9v8h-9zM660 916h9v9h-9zM361 908h10v8h-10zM352 891h9v8h-9zM343 874h9v8h-9zM333 865h10v9h-10zM333 848h10v9h-10zM324 840h9v8h-9z"/>
<path fill="#c5dfec" d="M473 1129h9v8h-9zM482 1120h10v9h-10zM482 1112h10v8h-10zM510 1078h10v8h-10zM445 1061h10v8h-10zM417 1001h10v9h-10zM548 1001h9v9h-9zM557 993h9v8h-9zM576 976h9v8h-9zM594 959h19v8h-19zM632 925h18v8h-18zM371 916h9v9h-9zM650 916h10v9h-10zM660 908h9v8h-9zM343 882h18v9h-18zM315 831h9v9h-9z"/>
<path fill="#bbdaea" d="M492 1120h9v9h-9zM464 1112h9v8h-9zM492 1112h9v8h-9zM520 1044h9v8h-9zM436 1035h9v9h-9zM529 1027h9v8h-9zM427 1018h9v9h-9zM529 1018h9v9h-9zM538 1010h10v8h-10zM566 984h10v9h-10zM408 976h9v8h-9zM566 976h10v8h-10zM585 959h9v8h-9zM389 950h10v9h-10zM389 942h10v8h-10zM622 942h10v8h-10zM380 925h9v8h-9zM361 899h10v9h-10zM352 874h9v8h-9zM343 865h9v9h-9zM324 831h9v9h-9z"/>
<path fill="#b1d5e7" d="M482 1103h10v9h-10zM501 1103h9v9h-9zM501 1095h9v8h-9zM455 1086h9v9h-9zM520 1035h9v9h-9zM427 1010h9v8h-9zM417 993h10v8h-10zM557 984h9v9h-9zM399 959h9v8h-9zM399 950h9v9h-9zM594 950h10v9h-10zM613 942h9v8h-9zM389 933h10v9h-10zM622 933h10v9h-10zM371 908h9v8h-9zM650 908h10v8h-10zM660 899h9v9h-9zM343 857h9v8h-9zM343 848h9v9h-9zM333 840h10v8h-10zM324 823h9v8h-9z"/>
<path fill="#a7d0e4" d="M548 993h9v8h-9zM408 967h9v9h-9zM576 967h9v9h-9zM576 959h9v8h-9zM604 942h9v8h-9zM622 925h10v8h-10zM380 916h9v9h-9zM641 916h9v9h-9zM371 899h9v9h-9zM371 891h9v8h-9zM352 865h9v9h-9z"/>
<path fill="#9dcbe1" d="M482 1095h10v8h-10zM482 1086h10v9h-10zM445 1052h10v9h-10zM436 1027h9v8h-9zM520 1027h9v8h-9zM529 1010h9v8h-9zM538 1001h10v9h-10zM548 984h9v9h-9zM417 976h10v8h-10zM566 967h10v9h-10zM585 950h9v9h-9zM604 933h9v9h-9zM641 908h9v8h-9zM361 891h10v8h-10zM660 891h9v8h-9zM361 882h10v9h-10zM352 857h9v8h-9zM343 840h9v8h-9zM333 831h10v9h-10zM333 823h10v8h-10z"/>
<path fill="#93c6de" d="M473 1120h9v9h-9zM510 1069h10v9h-10zM510 1061h10v8h-10zM427 1001h9v9h-9zM529 1001h9v9h-9zM417 984h10v9h-10zM548 976h18v8h-18zM408 959h9v8h-9zM585 942h19v8h-19zM613 933h9v9h-9zM389 925h10v8h-10zM632 916h9v9h-9zM380 908h9v8h-9zM650 899h10v9h-10zM650 891h10v8h-10zM361 874h10v8h-10zM343 831h9v9h-9z"/>
<path fill="#87beda" d="M445 1044h10v8h-10zM436 1018h9v9h-9zM538 993h10v8h-10zM557 967h9v9h-9zM399 942h9v8h-9zM613 925h9v8h-9zM632 908h9v8h-9zM380 899h9v9h-9zM641 899h9v9h-9zM641 891h9v8h-9zM371 882h9v9h-9zM660 882h9v9h-9zM371 874h9v8h-9zM361 865h10v9h-10zM352 848h9v9h-9z"/>
<path fill="#7bb6d6" d="M473 1112h9v8h-9zM464 1103h9v9h-9zM492 1103h9v9h-9zM492 1095h9v8h-9zM455 1078h9v8h-9zM538 984h10v9h-10zM566 959h10v8h-10zM408 950h9v9h-9zM399 933h9v9h-9zM594 933h10v9h-10zM622 916h10v9h-10zM380 891h9v8h-9zM352 840h9v8h-9zM343 823h9v8h-9z"/>
<path fill="#6eaed2" d="M482 1061h10v8h-10zM520 1018h9v9h-9zM436 1010h9v8h-9zM427 993h9v8h-9zM417 967h10v9h-10zM576 950h9v9h-9zM576 942h9v8h-9zM585 933h9v9h-9zM604 925h9v8h-9zM389 916h10v9h-10zM613 916h9v9h-9zM632 899h9v9h-9zM380 882h9v9h-9zM650 882h10v9h-10zM371 865h9v9h-9zM361 857h10v8h-10z"/>
<path fill="#5fa5cd" d="M464 1095h9v8h-9zM501 1086h9v9h-9zM482 1078h10v8h-10zM445 1035h10v9h-10zM427 984h9v9h-9zM548 967h9v9h-9zM557 959h9v8h-9zM557 950h19v9h-19zM408 942h9v8h-9zM399 925h9v8h-9zM399 916h9v9h-9zM604 916h9v9h-9zM389 908h10v8h-10zM622 908h10v8h-10zM632 891h9v8h-9zM660 874h9v8h-9zM352 831h9v9h-9zM352 823h9v8h-9z"/>
<path fill="#529dc8" d="M473 1103h9v9h-9zM492 1086h9v9h-9zM492 1078h9v8h-9zM455 1069h9v9h-9zM482 1069h10v9h-10zM482 1052h10v9h-10zM510 1052h10v9h-10zM445 1027h10v8h-10zM520 1010h9v8h-9zM529 993h9v8h-9zM529 984h9v9h-9zM538 976h10v8h-10zM417 959h10v8h-10zM566 942h10v8h-10zM576 933h9v9h-9zM594 925h10v8h-10zM613 908h9v8h-9zM389 899h10v9h-10zM622 899h10v9h-10zM650 874h10v8h-10zM371 857h9v8h-9zM361 848h19v9h-19zM361 840h10v8h-10z"/>
<path fill="#4695c4" d="M501 1078h9v8h-9zM492 1069h9v9h-9zM510 1044h10v8h-10zM427 976h9v8h-9zM529 976h9v8h-9zM417 950h10v9h-10zM557 942h9v8h-9zM576 925h18v8h-18zM585 916h19v9h-19zM399 908h9v8h-9zM594 908h10v8h-10zM380 874h9v8h-9zM660 865h9v9h-9zM361 831h10v9h-10z"/>
<path fill="#3f8ec0" d="M473 1095h9v8h-9zM464 1086h9v9h-9zM455 1061h9v8h-9zM455 1052h9v9h-9zM445 1018h10v9h-10zM436 1001h9v9h-9zM520 1001h9v9h-9zM548 959h9v8h-9zM548 950h9v9h-9zM548 942h9v8h-9zM408 933h9v9h-9zM408 925h9v8h-9zM576 916h9v9h-9zM585 908h9v8h-9zM604 908h9v8h-9zM399 899h9v9h-9zM604 899h9v9h-9zM389 891h10v8h-10zM613 891h19v8h-19zM389 882h10v9h-10zM632 882h18v9h-18zM389 874h10v8h-10zM622 874h28v8h-28zM380 865h9v9h-9zM641 865h19v9h-19zM650 857h10v8h-10zM361 823h10v8h-10z"/>
<path fill="#3a87bd" d="M473 1086h9v9h-9zM501 1069h9v9h-9zM492 1061h18v8h-18zM482 1044h10v8h-10zM436 993h9v8h-9zM520 993h9v8h-9zM427 967h9v9h-9zM538 967h10v9h-10zM427 959h9v8h-9zM538 959h10v8h-10zM566 933h10v9h-10zM566 925h10v8h-10zM408 916h9v9h-9zM576 908h9v8h-9zM613 899h9v9h-9zM399 891h9v8h-9zM604 891h9v8h-9zM622 882h10v9h-10zM660 857h9v8h-9zM660 848h9v9h-9zM371 840h9v8h-9z"/>
<path fill="#3480b9" d="M464 1078h9v8h-9zM455 1044h9v8h-9zM510 1035h10v9h-10zM482 1027h10v8h-10zM445 1010h10v8h-10zM510 1010h10v8h-10zM436 984h9v9h-9zM520 984h9v9h-9zM529 967h9v9h-9zM529 959h9v8h-9zM538 950h10v9h-10zM417 942h10v8h-10zM538 942h10v8h-10zM548 933h18v9h-18zM557 925h9v8h-9zM408 908h9v8h-9zM408 899h9v9h-9zM585 899h19v9h-19zM585 891h9v8h-9zM613 882h9v9h-9zM613 874h9v8h-9zM389 865h10v9h-10zM632 865h9v9h-9zM380 857h9v8h-9zM380 848h9v9h-9zM650 848h10v9h-10zM641 840h9v8h-9zM660 840h9v8h-9zM371 831h9v9h-9zM660 831h9v9h-9zM371 823h9v8h-9z"/>
<path fill="#2f79b5" d="M473 1078h9v8h-9zM473 1069h9v9h-9zM473 1052h9v9h-9zM501 1052h9v9h-9zM492 1044h9v8h-9zM492 1027h9v8h-9zM510 1027h10v8h-10zM510 1018h10v9h-10zM482 1010h10v8h-10zM445 1001h10v9h-10zM436 976h9v8h-9zM520 976h9v8h-9zM427 950h9v9h-9zM529 942h9v8h-9zM417 933h10v9h-10zM538 933h10v9h-10zM417 925h10v8h-10zM548 925h9v8h-9zM417 916h10v9h-10zM548 916h28v9h-28zM557 908h19v8h-19zM594 891h10v8h-10zM399 882h9v9h-9zM594 882h19v9h-19zM399 874h9v8h-9zM594 874h19v8h-19zM613 865h9v9h-9zM622 857h28v8h-28zM632 848h18v9h-18zM380 840h9v8h-9zM650 840h10v8h-10zM380 831h9v9h-9zM641 831h19v9h-19z"/>
<path fill="#2a71b2" d="M464 1069h9v9h-9zM473 1061h9v8h-9zM492 1052h9v9h-9zM501 1044h9v8h-9zM482 1035h10v9h-10zM501 1035h9v9h-9zM482 1018h10v9h-10zM436 967h9v9h-9zM520 959h9v8h-9zM529 950h9v9h-9zM529 933h9v9h-9zM427 925h9v8h-9zM538 925h10v8h-10zM417 899h10v9h-10zM566 899h19v9h-19zM576 891h9v8h-9zM585 882h9v9h-9zM585 874h9v8h-9zM604 865h9v9h-9zM622 865h10v9h-10zM399 857h9v8h-9zM604 857h9v8h-9zM389 848h10v9h-10zM622 848h10v9h-10zM389 840h10v8h-10zM380 823h9v8h-9zM660 823h9v8h-9z"/>
<path fill="#246aae" d="M473 1044h9v8h-9zM455 1035h9v9h-9zM492 1035h9v9h-9zM455 1027h9v8h-9zM455 1018h9v9h-9zM492 1018h9v9h-9zM492 1010h9v8h-9zM482 1001h10v9h-10zM510 1001h10v9h-10zM510 993h10v8h-10zM520 950h9v9h-9zM427 942h9v8h-9zM427 933h9v9h-9zM538 916h10v9h-10zM548 908h9v8h-9zM548 899h18v9h-18zM408 891h9v8h-9zM557 891h19v8h-19zM566 882h19v9h-19zM576 874h9v8h-9zM399 865h9v9h-9zM585 865h19v9h-19zM389 857h10v8h-10zM576 857h9v8h-9zM594 857h10v8h-10zM613 857h9v8h-9zM613 848h9v9h-9zM622 840h19v8h-19zM389 831h10v9h-10zM632 831h9v9h-9zM641 823h19v8h-19z"/>
<path fill="#1f63a8" d="M464 1061h9v8h-9zM464 1052h9v9h-9zM473 1035h9v9h-9zM473 1027h9v8h-9zM501 1018h9v9h-9zM501 1010h9v8h-9zM492 1001h9v9h-9zM445 993h10v8h-10zM445 984h10v9h-10zM510 984h10v9h-10zM520 967h9v9h-9zM436 959h9v8h-9zM436 950h9v9h-9zM529 925h9v8h-9zM529 916h9v9h-9zM417 908h10v8h-10zM529 908h19v8h-19zM417 891h10v8h-10zM548 891h9v8h-9zM408 882h9v9h-9zM557 882h9v9h-9zM408 874h9v8h-9zM566 874h10v8h-10zM408 865h9v9h-9zM566 865h19v9h-19zM399 848h9v9h-9zM585 848h9v9h-9zM604 848h9v9h-9zM399 840h9v8h-9zM594 840h28v8h-28zM604 831h9v9h-9zM622 831h10v9h-10zM632 823h9v8h-9z"/>
<path fill="#1b5a9c" d="M464 1044h9v8h-9zM501 1027h9v8h-9zM455 1010h9v8h-9zM455 1001h9v9h-9zM501 1001h9v9h-9zM482 993h28v8h-28zM482 984h19v9h-19zM445 976h10v8h-10zM482 976h10v8h-10zM510 976h10v8h-10zM510 967h10v9h-10zM510 959h10v8h-10zM436 942h9v8h-9zM520 942h9v8h-9zM520 933h9v9h-9zM427 916h9v9h-9zM427 908h9v8h-9zM529 899h19v9h-19zM417 882h10v9h-10zM538 882h19v9h-19zM548 874h9v8h-9zM548 865h18v9h-18zM566 857h10v8h-10zM585 857h9v8h-9zM548 848h9v9h-9zM566 848h19v9h-19zM594 848h10v9h-10zM399 831h9v9h-9zM613 831h9v9h-9zM389 823h19v8h-19zM585 823h19v8h-19zM613 823h19v8h-19z"/>
<path fill="#175290" d="M464 1035h9v9h-9zM473 1018h9v9h-9zM501 984h9v9h-9zM445 967h10v9h-10zM445 959h10v8h-10zM510 950h10v9h-10zM436 933h9v9h-9zM520 925h9v8h-9zM520 916h9v9h-9zM427 899h9v9h-9zM538 891h10v8h-10zM529 882h9v9h-9zM417 874h10v8h-10zM538 874h10v8h-10zM557 874h9v8h-9zM417 865h10v9h-10zM529 865h9v9h-9zM408 857h9v8h-9zM538 857h10v8h-10zM557 857h9v8h-9zM557 848h9v9h-9zM557 840h19v8h-19zM585 840h9v8h-9zM408 831h9v9h-9zM576 831h28v9h-28zM576 823h9v8h-9zM604 823h9v8h-9z"/>
<path fill="#124984" d="M464 1027h9v8h-9zM464 1018h9v9h-9zM455 993h9v8h-9zM501 976h9v8h-9zM482 967h10v9h-10zM445 950h10v9h-10zM445 942h10v8h-10zM510 933h10v9h-10zM436 925h9v8h-9zM436 916h9v9h-9zM436 908h9v8h-9zM520 908h9v8h-9zM520 899h9v9h-9zM427 891h9v8h-9zM520 891h18v8h-18zM427 882h9v9h-9zM427 874h9v8h-9zM529 874h9v8h-9zM427 865h9v9h-9zM538 865h10v9h-10zM417 857h10v8h-10zM548 857h9v8h-9zM408 848h19v9h-19zM529 848h9v9h-9zM408 840h19v8h-19zM548 840h9v8h-9zM576 840h9v8h-9zM538 831h38v9h-38zM557 823h19v8h-19z"/>
<path fill="#0e4179" d="M464 1010h18v8h-18zM464 993h9v8h-9zM455 984h9v9h-9zM455 976h9v8h-9zM492 976h9v8h-9zM455 967h9v9h-9zM501 967h9v9h-9zM455 959h9v8h-9zM501 959h9v8h-9zM501 950h9v9h-9zM501 942h19v8h-19zM445 933h10v9h-10zM445 925h10v8h-10zM510 925h10v8h-10zM510 916h10v9h-10zM510 908h10v8h-10zM436 899h9v9h-9zM520 882h9v9h-9zM520 874h9v8h-9zM520 865h9v9h-9zM520 857h18v8h-18zM538 848h10v9h-10zM427 840h9v8h-9zM520 840h28v8h-28zM417 831h10v9h-10zM520 831h18v9h-18zM408 823h9v8h-9zM529 823h28v8h-28z"/>
<path fill="#09386d" d="M464 1001h18v9h-18zM473 993h9v8h-9zM464 984h18v9h-18zM464 976h18v8h-18zM464 967h18v9h-18zM492 967h9v9h-9zM464 959h37v8h-37zM455 950h46v9h-46zM455 942h46v8h-46zM455 933h55v9h-55zM455 925h55v8h-55zM445 916h65v9h-65zM445 908h65v8h-65zM445 899h75v9h-75zM436 891h84v8h-84zM436 882h84v9h-84zM436 874h84v8h-84zM436 865h84v9h-84zM427 857h93v8h-93zM427 848h102v9h-102zM436 840h84v8h-84zM427 831h93v9h-93zM417 823h112v8h-112z"/>
</g>
<rect x="296.0" y="823.0" width="373.0" height="339.8" fill="none" stroke="#000" stroke-width="2"/><path d="M296.0 1163.8v3.8M389.2 1163.8v3.8M482.5 1163.8v3.8M575.8 1163.8v3.8M669.0 1163.8v3.8M295.0 908.0h-3.8M295.0 992.9h-3.8M295.0 1162.8h-3.8" stroke="#222" stroke-width="0.9" fill="none"/>
<g shape-rendering="crispEdges">
<path fill="#730421" d="M1008 1154h65v9h-65zM1064 1146h9v8h-9z"/>
<path fill="#7f0823" d="M970 1154h38v9h-38zM1017 1146h19v8h-19zM1045 1146h19v8h-19zM1045 1137h19v9h-19z"/>
<path fill="#8a0b25" d="M952 1154h18v9h-18zM989 1146h28v8h-28zM1036 1146h9v8h-9zM998 1137h10v9h-10zM1017 1137h28v9h-28zM1064 1137h9v9h-9zM1045 1129h9v8h-9zM1064 1129h9v8h-9z"/>
<path fill="#960f27" d="M942 1154h10v9h-10zM952 1146h9v8h-9zM970 1146h19v8h-19zM1008 1137h9v9h-9zM1045 1120h9v9h-9z"/>
<path fill="#a21328" d="M700 1154h19v9h-19zM933 1154h9v9h-9zM709 1146h10v8h-10zM942 1146h10v8h-10zM961 1146h9v8h-9zM961 1137h9v9h-9zM980 1137h18v9h-18zM1017 1129h28v8h-28zM1054 1129h10v8h-10zM1036 1120h9v9h-9zM1054 1120h19v9h-19z"/>
<path fill="#ae172a" d="M719 1154h28v9h-28zM784 1154h9v9h-9zM700 1146h9v8h-9zM700 1137h9v9h-9zM719 1137h9v9h-9zM970 1137h10v9h-10zM970 1129h10v8h-10zM998 1129h19v8h-19zM998 1120h10v9h-10zM1026 1120h10v9h-10zM1036 1112h9v8h-9zM1054 1112h19v8h-19z"/>
<path fill="#b61f2e" d="M747 1154h18v9h-18zM775 1154h9v9h-9zM924 1154h9v9h-9zM719 1146h18v8h-18zM747 1146h18v8h-18zM933 1146h9v8h-9zM709 1137h10v9h-10zM728 1137h19v9h-19zM700 1129h28v8h-28zM737 1129h10v8h-10zM989 1129h9v8h-9zM700 1120h9v9h-9zM1008 1120h18v9h-18zM700 1112h9v8h-9zM1008 1112h18v8h-18zM1045 1103h19v9h-19z"/>
<path fill="#bb2a34" d="M765 1154h10v9h-10zM793 1154h10v9h-10zM737 1146h10v8h-10zM765 1146h10v8h-10zM747 1137h28v9h-28zM942 1137h19v9h-19zM952 1129h18v8h-18zM980 1129h9v8h-9zM709 1120h19v9h-19zM989 1120h9v9h-9zM1026 1112h10v8h-10zM1045 1112h9v8h-9zM700 1103h9v9h-9zM1036 1103h9v9h-9zM1064 1103h9v9h-9zM1064 1095h9v8h-9z"/>
<path fill="#c13639" d="M803 1154h18v9h-18zM905 1154h9v9h-9zM775 1146h18v8h-18zM728 1129h9v8h-9zM765 1129h10v8h-10zM942 1129h10v8h-10zM970 1120h19v9h-19zM719 1112h9v8h-9zM989 1112h9v8h-9zM709 1103h10v9h-10zM998 1103h28v9h-28zM700 1095h9v8h-9zM1054 1095h10v8h-10z"/>
<path fill="#c6413e" d="M821 1154h10v9h-10zM793 1146h19v8h-19zM924 1146h9v8h-9zM784 1137h9v9h-9zM933 1137h9v9h-9zM747 1129h18v8h-18zM775 1129h9v8h-9zM728 1120h37v9h-37zM952 1120h18v9h-18zM709 1112h10v8h-10zM980 1112h9v8h-9zM998 1112h10v8h-10zM719 1103h18v9h-18zM980 1103h18v9h-18zM1026 1103h10v9h-10zM719 1095h9v8h-9zM1026 1095h28v8h-28zM719 1086h9v9h-9zM1036 1086h9v9h-9zM1064 1086h9v9h-9z"/>
<path fill="#cc4c44" d="M831 1154h9v9h-9zM812 1146h9v8h-9zM775 1137h9v9h-9zM803 1137h9v9h-9zM924 1137h9v9h-9zM933 1129h9v8h-9zM765 1120h10v9h-10zM728 1112h37v8h-37zM952 1112h28v8h-28zM737 1103h19v9h-19zM989 1095h9v8h-9zM1008 1095h18v8h-18zM700 1086h19v9h-19zM1026 1086h10v9h-10zM1045 1086h19v9h-19zM700 1078h19v8h-19zM1054 1078h19v8h-19zM700 1061h9v8h-9z"/>
<path fill="#d25849" d="M821 1146h10v8h-10zM812 1137h9v9h-9zM784 1129h9v8h-9zM803 1129h9v8h-9zM765 1112h10v8h-10zM952 1103h28v9h-28zM709 1095h10v8h-10zM728 1095h19v8h-19zM970 1095h10v8h-10zM998 1095h10v8h-10zM737 1086h10v9h-10zM998 1086h10v9h-10zM1017 1086h9v9h-9zM728 1078h9v8h-9zM1017 1078h9v8h-9zM1036 1078h18v8h-18zM700 1069h9v9h-9zM1045 1069h9v9h-9zM1064 1069h9v9h-9zM709 1061h10v8h-10z"/>
<path fill="#d7634f" d="M914 1154h10v9h-10zM793 1137h10v9h-10zM821 1137h10v9h-10zM793 1129h10v8h-10zM775 1120h18v9h-18zM942 1120h10v9h-10zM775 1112h9v8h-9zM793 1112h10v8h-10zM942 1112h10v8h-10zM756 1103h19v9h-19zM942 1103h10v9h-10zM747 1095h28v8h-28zM728 1086h9v9h-9zM747 1086h9v9h-9zM1008 1086h9v9h-9zM998 1078h10v8h-10zM1026 1078h10v8h-10zM709 1069h10v9h-10zM1036 1069h9v9h-9zM719 1061h18v8h-18zM700 1052h9v9h-9zM700 1035h9v9h-9z"/>
<path fill="#dc6e57" d="M840 1154h9v9h-9zM831 1146h9v8h-9zM831 1137h9v9h-9zM821 1129h10v8h-10zM793 1120h19v9h-19zM933 1120h9v9h-9zM784 1112h9v8h-9zM775 1103h9v9h-9zM775 1095h9v8h-9zM961 1095h9v8h-9zM980 1095h9v8h-9zM756 1086h9v9h-9zM970 1086h10v9h-10zM989 1086h9v9h-9zM719 1078h9v8h-9zM747 1078h18v8h-18zM970 1078h10v8h-10zM989 1078h9v8h-9zM1008 1078h9v8h-9zM719 1069h18v9h-18zM1008 1069h28v9h-28zM737 1061h10v8h-10zM1036 1061h37v8h-37zM709 1052h10v9h-10zM728 1052h9v9h-9zM1045 1052h9v9h-9zM1064 1052h9v9h-9zM700 1044h9v8h-9zM709 1035h10v9h-10zM709 1027h10v8h-10z"/>
<path fill="#e17860" d="M896 1154h9v9h-9zM840 1146h9v8h-9zM914 1146h10v8h-10zM812 1129h9v8h-9zM924 1129h9v8h-9zM812 1120h19v9h-19zM924 1120h9v9h-9zM933 1112h9v8h-9zM784 1103h19v9h-19zM793 1095h10v8h-10zM952 1095h9v8h-9zM765 1086h28v9h-28zM980 1086h9v9h-9zM737 1078h10v8h-10zM765 1078h10v8h-10zM737 1069h28v9h-28zM980 1069h9v9h-9zM998 1069h10v9h-10zM1054 1069h10v9h-10zM1008 1061h18v8h-18zM719 1052h9v9h-9zM737 1052h10v9h-10zM1036 1052h9v9h-9zM1054 1052h10v9h-10zM709 1044h10v8h-10zM737 1044h10v8h-10zM719 1035h9v9h-9zM1064 1035h9v9h-9zM700 1027h9v8h-9zM700 1018h9v9h-9z"/>
<path fill="#e6866a" d="M859 1154h9v9h-9zM840 1137h9v9h-9zM914 1137h10v9h-10zM831 1129h9v8h-9zM803 1112h28v8h-28zM803 1103h9v9h-9zM784 1095h9v8h-9zM942 1095h10v8h-10zM952 1086h18v9h-18zM775 1078h9v8h-9zM961 1078h9v8h-9zM989 1069h9v9h-9zM747 1061h18v8h-18zM998 1061h10v8h-10zM1026 1061h10v8h-10zM1008 1052h18v9h-18zM719 1044h18v8h-18zM747 1044h9v8h-9zM1036 1044h37v8h-37zM728 1035h9v9h-9zM709 1018h10v9h-10zM700 1010h9v8h-9z"/>
<path fill="#eb9172" d="M849 1154h10v9h-10zM849 1146h10v8h-10zM905 1146h9v8h-9zM905 1137h9v9h-9zM831 1120h9v9h-9zM933 1103h9v9h-9zM803 1095h9v8h-9zM942 1086h10v9h-10zM784 1078h9v8h-9zM980 1078h9v8h-9zM765 1069h10v9h-10zM989 1061h9v8h-9zM747 1052h18v9h-18zM998 1052h10v9h-10zM1026 1052h10v9h-10zM1026 1044h10v8h-10zM737 1035h10v9h-10zM719 1027h18v8h-18zM1064 1027h9v8h-9zM719 1018h9v9h-9zM709 1010h10v8h-10zM700 1001h9v9h-9zM700 993h9v8h-9z"/>
<path fill="#f09c7b" d="M840 1129h9v8h-9zM924 1112h9v8h-9zM812 1103h19v9h-19zM812 1095h9v8h-9zM933 1095h9v8h-9zM793 1086h10v9h-10zM775 1069h18v9h-18zM970 1069h10v9h-10zM970 1061h10v8h-10zM765 1052h10v9h-10zM1008 1044h18v8h-18zM1026 1035h38v9h-38zM737 1027h10v8h-10zM1054 1027h10v8h-10zM719 1010h9v8h-9zM709 1001h19v9h-19z"/>
<path fill="#f4a683" d="M868 1154h9v9h-9zM896 1146h9v8h-9zM849 1137h10v9h-10zM914 1129h10v8h-10zM803 1086h18v9h-18zM793 1078h10v8h-10zM952 1078h9v8h-9zM961 1069h9v9h-9zM765 1061h10v8h-10zM980 1061h9v8h-9zM980 1052h9v9h-9zM756 1044h19v8h-19zM998 1044h10v8h-10zM747 1035h18v9h-18zM1017 1035h9v9h-9zM756 1027h9v8h-9zM728 1018h19v9h-19zM1064 1018h9v9h-9zM728 1010h9v8h-9zM1064 1010h9v8h-9zM709 993h10v8h-10zM700 984h19v9h-19zM700 976h9v8h-9z"/>
<path fill="#f6af8e" d="M886 1154h10v9h-10zM859 1146h18v8h-18zM831 1112h9v8h-9zM924 1103h9v9h-9zM821 1095h10v8h-10zM803 1078h9v8h-9zM793 1069h10v9h-10zM775 1061h18v8h-18zM775 1052h9v9h-9zM989 1052h9v9h-9zM747 1027h9v8h-9zM1036 1027h18v8h-18zM737 1010h10v8h-10zM719 993h9v8h-9zM719 984h9v9h-9zM709 976h10v8h-10zM700 967h9v9h-9zM700 959h9v8h-9zM700 950h9v9h-9z"/>
<path fill="#f7b799" d="M849 1129h10v8h-10zM840 1120h9v9h-9zM831 1103h9v9h-9zM942 1078h10v8h-10zM803 1069h9v9h-9zM952 1069h9v9h-9zM793 1061h10v8h-10zM961 1061h9v8h-9zM784 1052h9v9h-9zM775 1044h9v8h-9zM980 1044h18v8h-18zM989 1035h9v9h-9zM1008 1035h9v9h-9zM1026 1027h10v8h-10zM1045 1018h19v9h-19zM728 1001h9v9h-9zM719 976h9v8h-9z"/>
<path fill="#f8bfa4" d="M877 1154h9v9h-9zM914 1120h10v9h-10zM840 1112h9v8h-9zM831 1095h9v8h-9zM933 1086h9v9h-9zM812 1078h9v8h-9zM942 1069h10v9h-10zM812 1061h9v8h-9zM952 1061h9v8h-9zM970 1052h10v9h-10zM784 1044h9v8h-9zM775 1035h9v9h-9zM998 1035h10v9h-10zM765 1027h10v8h-10zM998 1027h28v8h-28zM747 1018h18v9h-18zM747 1010h9v8h-9zM1036 1010h9v8h-9zM1054 1010h10v8h-10zM737 1001h10v9h-10zM728 993h9v8h-9zM728 984h9v9h-9zM709 959h10v8h-10zM700 942h9v8h-9z"/>
<path fill="#fac8af" d="M886 1146h10v8h-10zM859 1137h9v9h-9zM849 1120h10v9h-10zM914 1112h10v8h-10zM821 1086h19v9h-19zM821 1078h10v8h-10zM812 1069h9v9h-9zM793 1052h10v9h-10zM961 1052h9v9h-9zM793 1044h10v8h-10zM765 1035h10v9h-10zM1008 1018h37v9h-37zM756 1010h9v8h-9zM747 1001h9v9h-9zM1054 1001h10v9h-10zM737 984h10v9h-10zM728 976h9v8h-9zM709 967h28v9h-28zM709 942h10v8h-10z"/>
<path fill="#fbd0b9" d="M859 1129h9v8h-9zM924 1095h9v8h-9zM803 1061h9v8h-9zM961 1044h19v8h-19zM784 1035h9v9h-9zM980 1035h9v9h-9zM775 1027h9v8h-9zM765 1018h10v9h-10zM1008 1010h28v8h-28zM1045 1010h9v8h-9zM756 1001h9v9h-9zM1045 1001h9v9h-9zM1064 1001h9v9h-9zM737 993h28v8h-28zM1036 993h9v8h-9zM1064 993h9v8h-9zM1064 984h9v9h-9zM737 976h10v8h-10zM719 959h9v8h-9zM709 950h10v9h-10zM709 933h10v9h-10zM700 925h9v8h-9z"/>
<path fill="#fdd9c4" d="M868 1137h9v9h-9zM849 1112h10v8h-10zM840 1103h9v9h-9zM924 1086h9v9h-9zM933 1078h9v8h-9zM821 1069h10v9h-10zM942 1061h10v8h-10zM803 1052h9v9h-9zM952 1052h9v9h-9zM793 1035h10v9h-10zM970 1035h10v9h-10zM784 1027h9v8h-9zM989 1027h9v8h-9zM775 1018h9v9h-9zM998 1018h10v9h-10zM765 1010h19v8h-19zM1036 1001h9v9h-9zM1045 993h9v8h-9zM747 984h9v9h-9zM747 976h9v8h-9zM737 967h10v9h-10zM719 950h9v9h-9zM700 933h9v9h-9zM709 925h10v8h-10zM700 908h9v8h-9zM700 899h9v9h-9z"/>
<path fill="#fcdecd" d="M896 1137h9v9h-9zM905 1129h9v8h-9zM914 1103h10v9h-10zM933 1069h9v9h-9zM821 1061h10v8h-10zM942 1052h10v9h-10zM952 1044h9v8h-9zM803 1035h9v9h-9zM970 1027h19v8h-19zM784 1018h9v9h-9zM989 1018h9v9h-9zM784 1010h9v8h-9zM998 1010h10v8h-10zM765 1001h10v9h-10zM1026 1001h10v9h-10zM1054 993h10v8h-10zM1036 984h9v9h-9zM728 959h19v8h-19zM719 942h18v8h-18zM700 916h9v9h-9zM709 908h10v8h-10zM700 891h9v8h-9z"/>
<path fill="#fbe3d4" d="M859 1120h9v9h-9zM859 1112h9v8h-9zM840 1095h9v8h-9zM840 1086h9v9h-9zM831 1078h9v8h-9zM812 1052h9v9h-9zM803 1044h18v8h-18zM961 1035h9v9h-9zM793 1018h10v9h-10zM775 1001h9v9h-9zM998 1001h28v9h-28zM765 993h10v8h-10zM1026 993h10v8h-10zM756 984h9v9h-9zM1026 984h10v9h-10zM1045 984h19v9h-19zM756 976h9v8h-9zM1054 976h10v8h-10zM747 967h9v9h-9zM747 959h9v8h-9zM728 950h19v9h-19zM719 933h18v9h-18zM719 925h9v8h-9zM709 916h10v9h-10z"/>
<path fill="#fae7dc" d="M849 1103h10v9h-10zM933 1061h9v8h-9zM942 1044h10v8h-10zM812 1035h9v9h-9zM952 1035h9v9h-9zM793 1027h19v8h-19zM961 1027h9v8h-9zM980 1018h9v9h-9zM1008 993h9v8h-9zM765 984h10v9h-10zM1017 984h9v9h-9zM1064 976h9v8h-9zM756 967h9v9h-9zM709 899h10v9h-10z"/>
<path fill="#f9ebe3" d="M877 1146h9v8h-9zM886 1137h10v9h-10zM849 1095h10v8h-10zM914 1095h10v8h-10zM821 1052h10v9h-10zM970 1018h10v9h-10zM989 1010h9v8h-9zM784 1001h9v9h-9zM989 1001h9v9h-9zM775 993h9v8h-9zM1008 984h9v9h-9zM1045 976h9v8h-9zM765 967h10v9h-10zM1064 967h9v9h-9zM737 933h10v9h-10zM728 916h9v9h-9zM709 891h10v8h-10zM700 882h9v9h-9zM700 865h9v9h-9z"/>
<path fill="#f9f0eb" d="M868 1129h9v8h-9zM924 1078h9v8h-9zM831 1069h9v9h-9zM831 1061h9v8h-9zM961 1018h9v9h-9zM793 1010h10v8h-10zM970 1010h10v8h-10zM784 993h9v8h-9zM998 993h10v8h-10zM775 984h9v9h-9zM765 976h10v8h-10zM1026 976h19v8h-19zM1054 967h10v9h-10zM756 959h19v8h-19zM1064 959h9v8h-9zM747 950h9v9h-9zM737 942h19v8h-19zM728 925h19v8h-19zM719 908h9v8h-9zM719 899h9v9h-9zM700 874h9v8h-9z"/>
<path fill="#f8f4f2" d="M942 1035h10v9h-10zM812 1027h9v8h-9zM803 1018h9v9h-9zM980 1010h9v8h-9zM980 1001h9v9h-9zM989 993h9v8h-9zM1017 993h9v8h-9zM998 984h10v9h-10zM775 976h9v8h-9zM1008 976h9v8h-9zM1026 967h10v9h-10zM1054 950h10v9h-10zM719 916h9v9h-9zM728 908h9v8h-9zM709 882h10v9h-10zM709 874h10v8h-10zM700 857h9v8h-9zM700 848h9v9h-9z"/>
<path fill="#f3f5f6" d="M896 1129h9v8h-9zM905 1112h9v8h-9zM849 1086h10v9h-10zM914 1086h10v9h-10zM840 1078h9v8h-9zM924 1069h9v9h-9zM933 1052h9v9h-9zM821 1044h10v8h-10zM803 1010h9v8h-9zM793 1001h10v9h-10zM1017 976h9v8h-9zM775 967h9v9h-9zM1017 967h9v9h-9zM1036 967h18v9h-18zM1054 959h10v8h-10zM756 950h9v9h-9zM756 942h9v8h-9zM719 882h9v9h-9zM709 865h10v9h-10z"/>
<path fill="#edf2f5" d="M905 1120h9v9h-9zM914 1078h10v8h-10zM840 1069h9v9h-9zM924 1061h9v8h-9zM942 1027h19v8h-19zM812 1018h9v9h-9zM952 1018h9v9h-9zM952 1010h18v8h-18zM803 1001h9v9h-9zM980 993h9v8h-9zM784 984h19v9h-19zM998 976h10v8h-10zM775 959h9v8h-9zM1017 959h9v8h-9zM1045 959h9v8h-9zM1036 950h9v9h-9zM1064 950h9v9h-9zM1064 942h9v8h-9zM747 933h18v9h-18zM747 925h18v8h-18zM737 916h10v9h-10zM737 908h10v8h-10zM728 899h9v9h-9zM719 891h9v8h-9zM737 891h10v8h-10z"/>
<path fill="#e7f0f4" d="M840 1061h9v8h-9zM831 1052h9v9h-9zM933 1044h9v8h-9zM821 1027h10v8h-10zM942 1018h10v9h-10zM961 1001h9v9h-9zM793 993h19v8h-19zM970 993h10v8h-10zM980 984h18v9h-18zM784 976h9v8h-9zM1026 959h19v8h-19zM765 950h19v9h-19zM1045 950h9v9h-9zM765 942h10v8h-10zM765 933h10v9h-10zM747 916h9v9h-9zM747 908h9v8h-9zM728 891h9v8h-9zM719 874h9v8h-9zM709 857h10v8h-10zM700 831h9v9h-9z"/>
<path fill="#e1edf3" d="M877 1137h9v9h-9zM859 1103h9v9h-9zM849 1078h10v8h-10zM831 1044h9v8h-9zM821 1035h10v9h-10zM812 1010h9v8h-9zM970 1001h10v9h-10zM784 967h9v9h-9zM1045 942h9v8h-9zM737 899h10v9h-10zM728 874h9v8h-9zM709 848h10v9h-10zM700 840h9v8h-9zM700 823h9v8h-9z"/>
<path fill="#dbeaf2" d="M868 1120h9v9h-9zM859 1095h9v8h-9zM914 1069h10v9h-10zM924 1052h9v9h-9zM933 1035h9v9h-9zM933 1027h9v8h-9zM821 1018h10v9h-10zM970 984h10v9h-10zM793 976h10v8h-10zM989 976h9v8h-9zM989 967h28v9h-28zM1017 950h19v9h-19zM1036 942h9v8h-9zM1054 942h10v8h-10zM765 925h10v8h-10zM756 916h9v9h-9zM747 899h18v9h-18zM728 882h19v9h-19zM719 865h9v9h-9zM719 857h9v8h-9z"/>
<path fill="#d5e7f1" d="M859 1086h9v9h-9zM849 1069h10v9h-10zM840 1052h9v9h-9zM840 1044h9v8h-9zM924 1044h9v8h-9zM831 1035h9v9h-9zM942 1010h10v8h-10zM812 1001h9v9h-9zM812 993h9v8h-9zM961 993h9v8h-9zM803 984h9v9h-9zM793 967h10v9h-10zM998 959h10v8h-10zM784 950h9v9h-9zM775 942h9v8h-9zM775 933h9v9h-9zM1054 933h19v9h-19zM765 916h10v9h-10zM1064 916h9v9h-9zM756 908h9v8h-9zM747 891h9v8h-9zM728 865h9v9h-9zM709 840h10v8h-10zM709 831h10v9h-10zM709 823h10v8h-10z"/>
<path fill="#cfe4ef" d="M952 1001h9v9h-9zM812 984h9v9h-9zM952 984h18v9h-18zM803 976h9v8h-9zM980 976h9v8h-9zM784 959h9v8h-9zM1008 959h9v8h-9zM1008 950h9v9h-9zM784 942h9v8h-9zM1017 942h19v8h-19zM1064 925h9v8h-9zM765 908h10v8h-10zM756 891h9v8h-9zM747 882h9v9h-9zM737 874h19v8h-19zM737 865h10v9h-10zM728 857h9v8h-9zM719 848h18v9h-18z"/>
<path fill="#c5dfec" d="M914 1061h10v8h-10zM831 1027h9v8h-9zM831 1018h9v9h-9zM821 1010h10v8h-10zM942 1001h10v9h-10zM952 993h9v8h-9zM970 976h10v8h-10zM970 967h19v9h-19zM793 959h10v8h-10zM989 959h9v8h-9zM998 950h10v9h-10zM784 933h9v9h-9zM1036 933h18v9h-18zM775 925h9v8h-9zM1054 925h10v8h-10zM737 857h10v8h-10zM719 840h9v8h-9zM719 831h9v9h-9z"/>
<path fill="#bbdaea" d="M877 1129h9v8h-9zM868 1112h9v8h-9zM849 1061h10v8h-10zM914 1052h10v9h-10zM840 1035h9v9h-9zM924 1035h9v9h-9zM933 1018h9v9h-9zM821 1001h10v9h-10zM942 993h10v8h-10zM961 976h9v8h-9zM803 967h9v9h-9zM980 959h9v8h-9zM793 950h10v9h-10zM1008 942h9v8h-9zM1017 933h19v9h-19zM1054 916h10v9h-10zM765 899h10v9h-10zM747 865h9v9h-9zM728 831h9v9h-9z"/>
<path fill="#b1d5e7" d="M896 1120h9v9h-9zM868 1103h9v9h-9zM905 1103h9v9h-9zM933 1010h9v8h-9zM803 959h9v8h-9zM1036 925h9v8h-9zM775 916h9v9h-9zM1045 916h9v9h-9zM1064 908h9v8h-9zM747 857h9v8h-9zM737 848h10v9h-10zM728 840h9v8h-9zM719 823h9v8h-9z"/>
<path fill="#a7d0e4" d="M886 1129h10v8h-10zM859 1078h9v8h-9zM849 1052h10v9h-10zM812 976h9v8h-9zM970 959h10v8h-10zM980 950h18v9h-18zM793 942h10v8h-10zM998 942h10v8h-10zM998 933h19v9h-19zM784 925h9v8h-9zM1026 925h10v8h-10zM1045 925h9v8h-9zM775 899h9v9h-9zM765 891h10v8h-10zM756 882h9v9h-9zM728 823h9v8h-9z"/>
<path fill="#9dcbe1" d="M821 993h10v8h-10zM942 984h10v9h-10zM961 967h9v9h-9zM803 950h9v9h-9zM793 933h10v9h-10zM784 916h9v9h-9zM1026 916h10v9h-10zM775 908h9v8h-9zM1054 908h10v8h-10zM1064 899h9v9h-9zM765 882h10v9h-10zM756 874h9v8h-9zM756 865h9v9h-9zM737 840h10v8h-10z"/>
<path fill="#93c6de" d="M905 1095h9v8h-9zM914 1044h10v8h-10zM840 1027h9v8h-9zM924 1027h9v8h-9zM831 1010h9v8h-9zM933 1001h9v9h-9zM821 984h10v9h-10zM952 976h9v8h-9zM989 942h9v8h-9zM1017 925h9v8h-9zM1036 916h9v9h-9zM784 908h9v8h-9zM1045 908h9v8h-9zM756 857h9v8h-9zM747 848h9v9h-9zM747 840h9v8h-9zM737 831h10v9h-10zM737 823h10v8h-10z"/>
<path fill="#87beda" d="M896 1112h9v8h-9zM849 1044h10v8h-10zM840 1018h9v9h-9zM924 1018h9v9h-9zM831 1001h9v9h-9zM812 967h9v9h-9zM952 967h9v9h-9zM961 959h9v8h-9zM812 950h9v9h-9zM961 950h19v9h-19zM803 942h9v8h-9zM803 933h9v9h-9zM793 925h10v8h-10zM1008 925h9v8h-9zM1017 916h9v9h-9zM1036 908h9v8h-9zM1054 899h10v9h-10zM775 891h9v8h-9zM765 874h10v8h-10z"/>
<path fill="#7bb6d6" d="M877 1120h9v9h-9zM849 1035h10v9h-10zM840 1010h9v8h-9zM933 993h9v8h-9zM821 976h10v8h-10zM942 976h10v8h-10zM942 967h10v9h-10zM812 959h9v8h-9zM989 933h9v9h-9zM998 925h10v8h-10zM1008 916h9v9h-9zM1017 908h9v8h-9zM1045 899h9v9h-9zM1064 891h9v8h-9zM747 831h9v9h-9z"/>
<path fill="#6eaed2" d="M886 1120h10v9h-10zM859 1069h9v9h-9zM914 1035h10v9h-10zM924 1010h9v8h-9zM952 959h9v8h-9zM970 942h19v8h-19zM970 933h19v9h-19zM989 925h9v8h-9zM1026 908h10v8h-10zM784 899h9v9h-9zM1036 899h9v9h-9zM1054 891h10v8h-10zM775 882h9v9h-9zM1064 882h9v9h-9zM765 865h10v9h-10zM747 823h9v8h-9z"/>
<path fill="#5fa5cd" d="M905 1078h9v8h-9zM849 1027h10v8h-10zM914 1027h10v8h-10zM831 993h9v8h-9zM933 984h9v9h-9zM942 959h10v8h-10zM961 933h9v9h-9zM980 925h9v8h-9zM998 916h10v9h-10zM793 908h10v8h-10zM1008 908h9v8h-9zM1026 899h10v9h-10zM765 857h10v8h-10zM756 848h9v9h-9zM756 840h9v8h-9z"/>
<path fill="#529dc8" d="M877 1112h19v8h-19zM896 1103h9v9h-9zM905 1086h9v9h-9zM859 1061h9v8h-9zM924 1001h9v9h-9zM952 950h9v9h-9zM812 942h9v8h-9zM961 942h9v8h-9zM803 925h9v8h-9zM793 916h10v9h-10zM998 908h10v8h-10zM1017 899h9v9h-9zM784 891h9v8h-9zM1036 891h18v8h-18zM784 882h9v9h-9zM775 874h9v8h-9zM1054 874h10v8h-10zM775 865h9v9h-9zM765 848h10v9h-10zM756 831h9v9h-9z"/>
<path fill="#4695c4" d="M868 1095h9v8h-9zM896 1095h9v8h-9zM849 1018h10v9h-10zM840 1001h9v9h-9zM924 993h9v8h-9zM831 984h9v9h-9zM933 976h9v8h-9zM821 967h10v9h-10zM942 950h10v9h-10zM812 933h9v9h-9zM970 925h10v8h-10zM980 916h18v9h-18zM793 899h10v9h-10zM1008 899h9v9h-9zM1026 891h10v8h-10zM1045 882h19v9h-19zM1064 874h9v8h-9zM1064 865h9v9h-9zM765 831h10v9h-10zM756 823h9v8h-9z"/>
<path fill="#3f8ec0" d="M886 1103h10v9h-10zM868 1086h9v9h-9zM859 1052h9v9h-9zM859 1044h9v8h-9zM840 993h9v8h-9zM924 984h9v9h-9zM933 967h9v9h-9zM821 959h10v8h-10zM952 942h9v8h-9zM803 916h9v9h-9zM998 899h10v9h-10zM1008 891h9v8h-9zM1008 882h9v9h-9zM1036 874h9v8h-9zM775 857h9v8h-9zM775 848h9v9h-9zM765 840h19v8h-19z"/>
<path fill="#3a87bd" d="M877 1103h9v9h-9zM886 1086h19v9h-19zM868 1078h9v8h-9zM896 1078h9v8h-9zM905 1069h9v9h-9zM905 1061h9v8h-9zM914 1018h10v9h-10zM914 1010h10v8h-10zM831 976h9v8h-9zM831 967h9v9h-9zM821 950h10v9h-10zM821 942h10v8h-10zM942 942h10v8h-10zM952 933h9v9h-9zM961 925h9v8h-9zM961 916h19v9h-19zM803 908h9v8h-9zM970 908h10v8h-10zM989 899h9v9h-9zM793 891h10v8h-10zM998 891h10v8h-10zM1017 891h9v8h-9zM793 882h10v9h-10zM1017 882h28v9h-28zM784 874h19v8h-19zM784 865h9v9h-9zM1036 865h18v9h-18zM1064 857h9v8h-9zM1064 848h9v9h-9zM765 823h10v8h-10z"/>
<path fill="#3480b9" d="M886 1069h10v9h-10zM905 1052h9v9h-9zM905 1035h9v9h-9zM849 1010h10v8h-10zM840 984h9v9h-9zM924 976h9v8h-9zM831 959h9v8h-9zM933 959h9v8h-9zM933 950h9v9h-9zM821 933h10v9h-10zM812 925h9v8h-9zM952 925h9v8h-9zM812 916h9v9h-9zM961 908h9v8h-9zM980 908h18v8h-18zM803 899h18v9h-18zM803 891h9v8h-9zM980 891h18v8h-18zM998 882h10v9h-10zM1026 874h10v8h-10zM1045 874h9v8h-9zM1017 865h9v9h-9zM1054 865h10v9h-10zM784 857h9v8h-9zM1026 857h10v8h-10zM1054 857h10v8h-10zM1045 848h19v9h-19zM775 831h9v9h-9z"/>
<path fill="#2f79b5" d="M886 1095h10v8h-10zM886 1078h10v8h-10zM896 1061h9v8h-9zM849 1001h10v9h-10zM914 1001h10v9h-10zM849 993h10v8h-10zM924 967h9v9h-9zM831 950h9v9h-9zM933 933h19v9h-19zM821 925h10v8h-10zM942 916h19v9h-19zM812 908h9v8h-9zM952 908h9v8h-9zM952 899h37v9h-37zM803 882h9v9h-9zM980 882h9v9h-9zM803 874h9v8h-9zM980 874h9v8h-9zM998 874h28v8h-28zM793 865h10v9h-10zM998 865h19v9h-19zM1026 865h10v9h-10zM1017 857h9v8h-9zM1036 857h18v8h-18zM784 848h9v9h-9zM1036 848h9v9h-9zM784 840h9v8h-9zM1026 840h19v8h-19zM1064 840h9v8h-9z"/>
<path fill="#2a71b2" d="M877 1095h9v8h-9zM877 1086h9v9h-9zM896 1069h9v9h-9zM886 1061h10v8h-10zM886 1044h10v8h-10zM905 1044h9v8h-9zM886 1035h19v9h-19zM886 1027h19v8h-19zM886 1018h10v9h-10zM914 993h10v8h-10zM914 984h10v9h-10zM840 976h9v8h-9zM924 959h9v8h-9zM924 942h18v8h-18zM942 925h10v8h-10zM821 908h10v8h-10zM942 908h10v8h-10zM812 891h9v8h-9zM961 891h19v8h-19zM989 874h9v8h-9zM793 857h10v8h-10zM1008 857h9v8h-9zM793 848h10v9h-10zM1017 848h19v9h-19zM1045 840h9v8h-9zM784 831h9v9h-9zM775 823h9v8h-9zM1054 823h10v8h-10z"/>
<path fill="#246aae" d="M877 1069h9v9h-9zM868 1061h9v8h-9zM868 1052h9v9h-9zM886 1052h10v9h-10zM896 1044h9v8h-9zM905 1027h9v8h-9zM914 976h10v8h-10zM924 950h9v9h-9zM933 925h9v8h-9zM821 916h10v9h-10zM933 916h9v9h-9zM961 882h19v9h-19zM989 882h9v9h-9zM961 874h9v8h-9zM970 865h10v9h-10zM989 865h9v9h-9zM980 857h28v8h-28zM998 848h19v9h-19zM793 840h10v8h-10zM1017 840h9v8h-9zM1054 840h10v8h-10zM793 831h10v9h-10zM1036 831h9v9h-9zM1054 831h19v9h-19zM784 823h9v8h-9zM1045 823h9v8h-9zM1064 823h9v8h-9z"/>
<path fill="#1f63a8" d="M877 1078h9v8h-9zM868 1069h9v9h-9zM877 1061h9v8h-9zM896 1052h9v9h-9zM896 1018h18v9h-18zM849 984h10v9h-10zM840 967h19v9h-19zM840 959h9v8h-9zM840 950h9v9h-9zM831 942h9v8h-9zM831 933h9v9h-9zM924 933h9v9h-9zM933 899h19v9h-19zM942 891h19v8h-19zM812 882h9v9h-9zM952 882h9v9h-9zM952 874h9v8h-9zM970 874h10v8h-10zM803 865h9v9h-9zM952 865h9v9h-9zM980 865h9v9h-9zM803 857h9v8h-9zM803 848h9v9h-9zM980 848h18v9h-18zM970 840h10v8h-10zM998 840h19v8h-19zM1008 831h28v9h-28zM1045 831h9v9h-9zM1026 823h19v8h-19z"/>
<path fill="#1b5a9c" d="M877 1052h9v9h-9zM859 1035h9v9h-9zM859 1010h9v8h-9zM886 1010h10v8h-10zM905 1010h9v8h-9zM886 1001h10v9h-10zM886 993h10v8h-10zM914 967h10v9h-10zM914 950h10v9h-10zM831 925h9v8h-9zM924 925h9v8h-9zM831 916h9v9h-9zM924 916h9v9h-9zM924 908h18v8h-18zM821 899h10v9h-10zM933 882h19v9h-19zM812 874h9v8h-9zM942 874h10v8h-10zM812 865h9v9h-9zM961 865h9v9h-9zM812 857h9v8h-9zM961 857h19v8h-19zM970 848h10v9h-10zM803 840h9v8h-9zM980 840h18v8h-18zM970 831h19v9h-19zM998 831h10v9h-10zM793 823h10v8h-10zM998 823h19v8h-19z"/>
<path fill="#175290" d="M868 1044h18v8h-18zM859 1027h9v8h-9zM896 1010h9v8h-9zM905 1001h9v9h-9zM905 984h9v9h-9zM849 959h10v8h-10zM914 959h10v8h-10zM840 942h9v8h-9zM914 942h10v8h-10zM840 933h9v9h-9zM831 908h9v8h-9zM924 899h9v9h-9zM821 891h10v8h-10zM933 891h9v8h-9zM821 882h10v9h-10zM933 874h9v8h-9zM933 865h9v9h-9zM942 857h19v8h-19zM942 848h28v9h-28zM812 840h9v8h-9zM952 840h18v8h-18zM803 831h9v9h-9zM989 831h9v9h-9zM961 823h37v8h-37zM1017 823h9v8h-9z"/>
<path fill="#124984" d="M868 1035h18v9h-18zM859 1018h18v9h-18zM859 1001h9v9h-9zM896 1001h9v9h-9zM859 993h9v8h-9zM905 993h9v8h-9zM859 984h9v9h-9zM886 984h10v9h-10zM849 976h19v8h-19zM905 976h9v8h-9zM849 950h10v9h-10zM849 942h10v8h-10zM914 933h10v9h-10zM840 925h9v8h-9zM840 916h9v9h-9zM914 916h10v9h-10zM914 908h10v8h-10zM831 899h9v9h-9zM831 891h9v8h-9zM924 891h9v8h-9zM924 874h9v8h-9zM821 865h10v9h-10zM942 865h10v9h-10zM821 857h10v8h-10zM933 857h9v8h-9zM812 848h19v9h-19zM933 848h9v9h-9zM942 831h10v9h-10zM961 831h9v9h-9zM803 823h18v8h-18z"/>
<path fill="#0e4179" d="M868 1027h18v8h-18zM877 1018h9v9h-9zM868 1010h9v8h-9zM896 993h9v8h-9zM896 984h9v9h-9zM859 967h9v9h-9zM905 967h9v9h-9zM859 959h9v8h-9zM849 933h10v9h-10zM849 925h10v8h-10zM914 925h10v8h-10zM849 916h10v9h-10zM840 908h9v8h-9zM840 899h9v9h-9zM914 899h10v9h-10zM840 891h9v8h-9zM831 882h9v9h-9zM924 882h9v9h-9zM821 874h28v8h-28zM831 865h9v9h-9zM924 865h9v9h-9zM924 857h9v8h-9zM831 848h9v9h-9zM821 840h10v8h-10zM933 840h19v8h-19zM812 831h19v9h-19zM933 831h9v9h-9zM952 831h9v9h-9zM821 823h10v8h-10zM933 823h28v8h-28z"/>
<path fill="#09386d" d="M877 1010h9v8h-9zM868 1001h18v9h-18zM868 993h18v8h-18zM868 984h18v9h-18zM868 976h37v8h-37zM868 967h37v9h-37zM868 959h46v8h-46zM859 950h55v9h-55zM859 942h55v8h-55zM859 933h55v9h-55zM859 925h55v8h-55zM859 916h55v9h-55zM849 908h65v8h-65zM849 899h65v9h-65zM849 891h75v8h-75zM840 882h84v9h-84zM849 874h75v8h-75zM840 865h84v9h-84zM831 857h93v8h-93zM840 848h93v9h-93zM831 840h102v8h-102zM831 831h102v9h-102zM831 823h102v8h-102z"/>
</g>
<rect x="700.0" y="823.0" width="373.0" height="339.8" fill="none" stroke="#000" stroke-width="2"/><path d="M700.0 1163.8v3.8M793.2 1163.8v3.8M886.5 1163.8v3.8M979.8 1163.8v3.8M1073.0 1163.8v3.8M699.0 908.0h-3.8M699.0 992.9h-3.8M699.0 1162.8h-3.8" stroke="#222" stroke-width="0.9" fill="none"/>
<text x="382.0" y="43.4" font-family="'DejaVu Sans','Liberation Sans',sans-serif" font-size="45.0" text-anchor="start" >m</text>
<text transform="translate(441.8 47) scale(1.68 1)" font-family="'Liberation Serif','DejaVu Serif',serif" font-size="43.6">=</text>
<text x="495.2" y="44.8" font-family="'Liberation Serif','DejaVu Serif',serif" font-size="50" textLength="53.3" lengthAdjust="spacingAndGlyphs">10</text>
<text transform="translate(549.2 28.2) scale(1.33 1)" font-family="'Liberation Serif','DejaVu Serif',serif" font-size="40">−</text>
<text x="581.5" y="24.3" font-family="'Liberation Serif','DejaVu Serif',serif" font-size="36.0" text-anchor="start" >4</text>
<text x="812.9" y="43.4" font-family="'DejaVu Sans','Liberation Sans',sans-serif" font-size="45.0" text-anchor="start" >m</text>
<text transform="translate(866.1 47) scale(1.68 1)" font-family="'Liberation Serif','DejaVu Serif',serif" font-size="43.6">=</text>
<text x="919.5" y="44.8" font-family="'Liberation Serif','DejaVu Serif',serif" font-size="50" textLength="53.3" lengthAdjust="spacingAndGlyphs">10</text>
<text transform="translate(973.5 28.2) scale(1.33 1)" font-family="'Liberation Serif','DejaVu Serif',serif" font-size="40">−</text>
<text x="1005.8" y="24.3" font-family="'Liberation Serif','DejaVu Serif',serif" font-size="36.0" text-anchor="start" >2</text>
<text x="314.8" y="129.4" font-family="'Liberation Serif','DejaVu Serif',serif" font-size="52" text-anchor="middle">(</text>
<text x="356.4" y="129.4" font-family="'Liberation Serif','DejaVu Serif',serif" font-size="52" text-anchor="middle">)</text>
<text x="322.0" y="128.4" font-family="'Liberation Serif','DejaVu Serif',serif" font-size="46" font-style="italic" textLength="27.6" lengthAdjust="spacingAndGlyphs">a</text>
<text x="712.8" y="129.5" font-family="'Liberation Serif','DejaVu Serif',serif" font-size="52" text-anchor="middle">(</text>
<text x="749.6" y="129.5" font-family="'Liberation Serif','DejaVu Serif',serif" font-size="52" text-anchor="middle">)</text>
<text x="720.6" y="128.5" font-family="'Liberation Serif','DejaVu Serif',serif" font-size="46" font-style="italic">b</text>
<text x="314.8" y="511.7" font-family="'Liberation Serif','DejaVu Serif',serif" font-size="52" text-anchor="middle">(</text>
<text x="352.2" y="511.7" font-family="'Liberation Serif','DejaVu Serif',serif" font-size="52" text-anchor="middle">)</text>
<text x="323.8" y="510.7" font-family="'Liberation Serif','DejaVu Serif',serif" font-size="46" font-style="italic">c</text>
<text x="712.8" y="511.3" font-family="'Liberation Serif','DejaVu Serif',serif" font-size="52" text-anchor="middle">(</text>
<text x="753.6" y="511.3" font-family="'Liberation Serif','DejaVu Serif',serif" font-size="52" text-anchor="middle">)</text>
<text x="720.9" y="510.3" font-family="'Liberation Serif','DejaVu Serif',serif" font-size="46" font-style="italic" textLength="24.6" lengthAdjust="spacingAndGlyphs">d</text>
<text x="314.8" y="888.0" font-family="'Liberation Serif','DejaVu Serif',serif" font-size="52" text-anchor="middle">(</text>
<text x="353.7" y="888.0" font-family="'Liberation Serif','DejaVu Serif',serif" font-size="52" text-anchor="middle">)</text>
<text x="323.5" y="887.0" font-family="'Liberation Serif','DejaVu Serif',serif" font-size="46" font-style="italic" textLength="22.3" lengthAdjust="spacingAndGlyphs">e</text>
<text x="712.8" y="888.0" font-family="'Liberation Serif','DejaVu Serif',serif" font-size="52" text-anchor="middle">(</text>
<text x="757.4" y="888.0" font-family="'Liberation Serif','DejaVu Serif',serif" font-size="52" text-anchor="middle">)</text>
<text x="721.3" y="887.0" font-family="'Liberation Serif','DejaVu Serif',serif" font-size="46" font-style="italic" textLength="17.9" lengthAdjust="spacingAndGlyphs">f</text>
<text y="103.0" font-family="'DejaVu Sans','Liberation Sans',sans-serif" font-size="38.7"><tspan x="160.2" text-anchor="end">5</tspan><tspan x="174.5" text-anchor="middle">·</tspan><tspan x="188.3" text-anchor="start">10</tspan><tspan font-size="27.1" dy="-14.6">−3</tspan></text>
<text y="263.6" font-family="'DejaVu Sans','Liberation Sans',sans-serif" font-size="38.7"><tspan x="162.7" text-anchor="end">2.5</tspan><tspan x="177.0" text-anchor="middle">·</tspan><tspan x="190.8" text-anchor="start">10</tspan><tspan font-size="27.1" dy="-14.6">−3</tspan></text>
<text y="475.6" font-family="'DejaVu Sans','Liberation Sans',sans-serif" font-size="38.7"><tspan x="156.6" text-anchor="end">5</tspan><tspan x="170.9" text-anchor="middle">·</tspan><tspan x="184.7" text-anchor="start">10</tspan><tspan font-size="27.1" dy="-14.6">−3</tspan></text>
<text y="635.5" font-family="'DejaVu Sans','Liberation Sans',sans-serif" font-size="38.7"><tspan x="158.9" text-anchor="end">2.5</tspan><tspan x="173.2" text-anchor="middle">·</tspan><tspan x="187.0" text-anchor="start">10</tspan><tspan font-size="27.1" dy="-14.6">−3</tspan></text>
<text y="858.0" font-family="'DejaVu Sans','Liberation Sans',sans-serif" font-size="35.0"><tspan x="169.6" text-anchor="end">4.3</tspan><tspan x="182.5" text-anchor="middle">·</tspan><tspan x="195.0" text-anchor="start">10</tspan><tspan font-size="24.5" dy="-13.2">−3</tspan></text>
<text y="1020.8" font-family="'DejaVu Sans','Liberation Sans',sans-serif" font-size="35.0"><tspan x="170.6" text-anchor="end">2.1</tspan><tspan x="183.5" text-anchor="middle">·</tspan><tspan x="196.0" text-anchor="start">10</tspan><tspan font-size="24.5" dy="-13.2">−3</tspan></text>
<text x="240.9" y="413.4" font-family="'DejaVu Sans','Liberation Sans',sans-serif" font-size="47.5" text-anchor="start" >0</text>
<text x="237.4" y="785.6" font-family="'DejaVu Sans','Liberation Sans',sans-serif" font-size="47.5" text-anchor="start" >0</text>
<text x="237.4" y="1178.6" font-family="'DejaVu Sans','Liberation Sans',sans-serif" font-size="47.5" text-anchor="start" >0</text>
<g transform="translate(68.8 321.8) rotate(-90)"><text x="0" y="0" dx="2.9 4.1 -1.6 -4.4 -5" font-family="'DejaVu Sans','Liberation Sans',sans-serif" font-size="49">(days<tspan font-size="34" dy="-18.4" dx="4 -2">−1</tspan><tspan dy="18.4" dx="-3.6">)</tspan></text></g>
<g transform="translate(0.0 346.0) rotate(-90)"><text x="0" y="45.9" font-family="'DejaVu Sans','Liberation Sans',sans-serif" font-size="32" font-style="italic" text-anchor="middle">h</text><rect x="-11.5" y="56" width="23" height="2.4" fill="#000"/><text x="0" y="85.2" font-family="'DejaVu Sans','Liberation Sans',sans-serif" font-size="34" text-anchor="middle">V</text></g>
<g transform="translate(65.1 694.1) rotate(-90)"><text x="0" y="0" dx="2.9 4.1 -1.6 -4.4 -5" font-family="'DejaVu Sans','Liberation Sans',sans-serif" font-size="49">(days<tspan font-size="34" dy="-18.4" dx="4 -2">−1</tspan><tspan dy="18.4" dx="-3.6">)</tspan></text></g>
<g transform="translate(-3.7 718.0) rotate(-90)"><text x="0" y="45.9" font-family="'DejaVu Sans','Liberation Sans',sans-serif" font-size="32" font-style="italic" text-anchor="middle">h</text><rect x="-11.5" y="56" width="23" height="2.4" fill="#000"/><text x="0" y="85.2" font-family="'DejaVu Sans','Liberation Sans',sans-serif" font-size="34" text-anchor="middle">V</text></g>
<g transform="translate(65.1 1075.2) rotate(-90)"><text x="0" y="0" dx="2.9 4.1 -1.6 -4.4 -5" font-family="'DejaVu Sans','Liberation Sans',sans-serif" font-size="49">(days<tspan font-size="34" dy="-18.4" dx="4 -2">−1</tspan><tspan dy="18.4" dx="-3.6">)</tspan></text></g>
<g transform="translate(-3.7 1100.3) rotate(-90)"><text x="0" y="45.9" font-family="'DejaVu Sans','Liberation Sans',sans-serif" font-size="32" font-style="italic" text-anchor="middle">h</text><rect x="-11.5" y="56" width="23" height="2.4" fill="#000"/><text x="0" y="85.2" font-family="'DejaVu Sans','Liberation Sans',sans-serif" font-size="34" text-anchor="middle">V</text></g>
<text x="297.0" y="1211.0" font-family="'Liberation Serif','DejaVu Serif',serif" font-size="49.5" text-anchor="middle" >0</text>
<text x="482.5" y="1211.0" font-family="'Liberation Serif','DejaVu Serif',serif" font-size="49.5" text-anchor="middle" >1</text>
<text x="665.0" y="1211.0" font-family="'Liberation Serif','DejaVu Serif',serif" font-size="49.5" text-anchor="middle" >2</text>
<text transform="translate(462.0 1256.5) scale(1.27 1)" font-family="'DejaVu Sans','Liberation Sans',sans-serif" font-size="32" font-style="italic" stroke="#000" stroke-width="0.5">ℛ</text>
<text x="495.7" y="1263" font-family="'DejaVu Sans','Liberation Sans',sans-serif" font-size="26.5">0</text>
<text x="701.0" y="1211.0" font-family="'Liberation Serif','DejaVu Serif',serif" font-size="49.5" text-anchor="middle" >0</text>
<text x="886.5" y="1211.0" font-family="'Liberation Serif','DejaVu Serif',serif" font-size="49.5" text-anchor="middle" >1</text>
<text x="1069.0" y="1211.0" font-family="'Liberation Serif','DejaVu Serif',serif" font-size="49.5" text-anchor="middle" >2</text>
<text transform="translate(866.0 1256.5) scale(1.27 1)" font-family="'DejaVu Sans','Liberation Sans',sans-serif" font-size="32" font-style="italic" stroke="#000" stroke-width="0.5">ℛ</text>
<text x="899.7" y="1263" font-family="'DejaVu Sans','Liberation Sans',sans-serif" font-size="26.5">0</text>
<text x="1090" y="263.7" font-family="'Liberation Serif','DejaVu Serif',serif" font-size="69" font-weight="bold" textLength="240" lengthAdjust="spacingAndGlyphs">Lattice</text>
<text x="1143.5" y="642" font-family="'Liberation Serif','DejaVu Serif',serif" font-size="90" font-weight="bold" textLength="122.5" lengthAdjust="spacingAndGlyphs">SF</text>
<text x="1100.5" y="1039.7" font-family="'Liberation Serif','DejaVu Serif',serif" font-size="79.4" font-weight="bold" textLength="204" lengthAdjust="spacingAndGlyphs">Paris</text>
</svg>
</body></html>
